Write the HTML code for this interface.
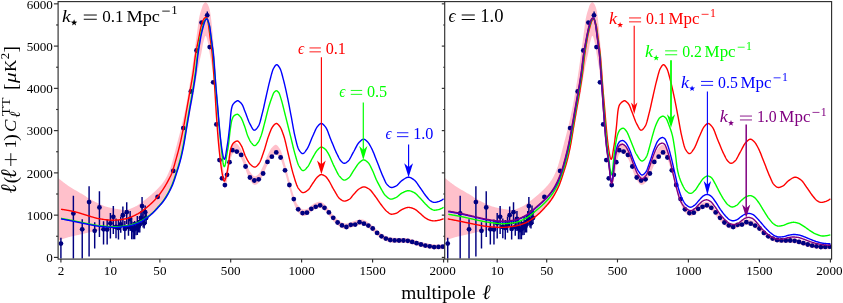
<!DOCTYPE html><html><head><meta charset="utf-8"><title>CMB TT spectrum</title><style>html,body{margin:0;padding:0;background:#fff;overflow:hidden}svg{display:block;will-change:transform;-webkit-font-smoothing:antialiased}text{font-family:"Liberation Serif",serif}</style></head><body><svg width="843" height="303" viewBox="0 0 843 303" font-family="'Liberation Serif', serif">
<rect width="843" height="303" fill="#fff"/>
<defs><clipPath id="cl"><rect x="58.5" y="2" width="386" height="257"/></clipPath><clipPath id="cr"><rect x="445" y="2" width="386.6" height="257"/></clipPath></defs>
<g clip-path="url(#cl)">
<path d="M58.1 177.9 L58.5 178.24 L58.9 178.58 L59.3 178.91 L59.7 179.24 L60.1 179.57 L60.5 179.9 L60.9 180.23 L61.3 180.55 L61.7 180.88 L62.1 181.19 L62.5 181.51 L62.9 181.83 L63.3 182.14 L63.7 182.45 L64.1 182.75 L64.5 183.06 L64.9 183.36 L65.3 183.66 L65.7 183.95 L66.1 184.24 L66.5 184.53 L66.9 184.82 L67.3 185.1 L67.7 185.38 L68.1 185.66 L68.5 185.93 L68.9 186.2 L69.3 186.47 L69.7 186.73 L70.1 186.99 L70.5 187.25 L70.9 187.5 L71.3 187.75 L71.7 187.99 L72.1 188.24 L72.5 188.48 L72.9 188.72 L73.3 188.96 L73.7 189.2 L74.1 189.43 L74.5 189.67 L74.9 189.9 L75.3 190.13 L75.7 190.36 L76.1 190.59 L76.5 190.82 L76.9 191.05 L77.3 191.28 L77.7 191.51 L78.1 191.74 L78.5 191.97 L78.9 192.2 L79.3 192.44 L79.7 192.67 L80.1 192.9 L80.5 193.14 L80.9 193.38 L81.3 193.62 L81.7 193.86 L82.1 194.11 L82.5 194.36 L82.9 194.6 L83.3 194.85 L83.7 195.1 L84.1 195.36 L84.5 195.61 L84.9 195.86 L85.3 196.12 L85.7 196.37 L86.1 196.62 L86.5 196.88 L86.9 197.13 L87.3 197.38 L87.7 197.63 L88.1 197.88 L88.5 198.13 L88.9 198.37 L89.3 198.61 L89.7 198.86 L90.1 199.1 L90.5 199.33 L90.9 199.57 L91.3 199.8 L91.7 200.02 L92.1 200.25 L92.5 200.47 L92.9 200.68 L93.3 200.89 L93.7 201.1 L94.1 201.31 L94.5 201.51 L94.9 201.72 L95.3 201.92 L95.7 202.13 L96.1 202.33 L96.5 202.54 L96.9 202.74 L97.3 202.94 L97.7 203.14 L98.1 203.34 L98.5 203.54 L98.9 203.74 L99.3 203.93 L99.7 204.12 L100.1 204.31 L100.5 204.49 L100.9 204.68 L101.3 204.85 L101.7 205.03 L102.1 205.2 L102.5 205.37 L102.9 205.53 L103.3 205.69 L103.7 205.84 L104.1 205.99 L104.5 206.13 L104.9 206.27 L105.3 206.4 L105.7 206.52 L106.1 206.64 L106.5 206.76 L106.9 206.87 L107.3 206.97 L107.7 207.08 L108.1 207.19 L108.5 207.29 L108.9 207.39 L109.3 207.49 L109.7 207.58 L110.1 207.67 L110.5 207.77 L110.9 207.86 L111.3 207.95 L111.7 208.03 L112.1 208.12 L112.5 208.2 L112.9 208.28 L113.3 208.36 L113.7 208.44 L114.1 208.51 L114.5 208.59 L114.9 208.66 L115.3 208.73 L115.7 208.8 L116.1 208.87 L116.5 208.93 L116.9 209 L117.3 209.06 L117.7 209.12 L118.1 209.18 L118.5 209.24 L118.9 209.3 L119.3 209.36 L119.7 209.42 L120.1 209.48 L120.5 209.54 L120.9 209.61 L121.3 209.67 L121.7 209.72 L122.1 209.78 L122.5 209.83 L122.9 209.88 L123.3 209.92 L123.7 209.95 L124.1 209.97 L124.5 209.99 L124.9 210 L125.3 210 L125.7 209.97 L126.1 209.94 L126.5 209.88 L126.9 209.82 L127.3 209.74 L127.7 209.64 L128.1 209.54 L128.5 209.42 L128.9 209.3 L129.3 209.16 L129.7 209.02 L130.1 208.86 L130.5 208.71 L130.9 208.54 L131.3 208.37 L131.7 208.2 L132.1 208.02 L132.5 207.84 L132.9 207.66 L133.3 207.48 L133.7 207.3 L134.1 207.11 L134.5 206.93 L134.9 206.76 L135.3 206.57 L135.7 206.37 L136.1 206.15 L136.5 205.92 L136.9 205.69 L137.3 205.44 L137.7 205.18 L138.1 204.92 L138.5 204.64 L138.9 204.37 L139.3 204.08 L139.7 203.8 L140.1 203.51 L140.5 203.21 L140.9 202.92 L141.3 202.63 L141.7 202.33 L142.1 202.04 L142.5 201.76 L142.9 201.46 L143.3 201.17 L143.7 200.87 L144.1 200.56 L144.5 200.25 L144.9 199.94 L145.3 199.63 L145.7 199.31 L146.1 198.99 L146.5 198.67 L146.9 198.34 L147.3 198.01 L147.7 197.68 L148.1 197.35 L148.5 197.01 L148.9 196.68 L149.3 196.34 L149.7 196 L150.1 195.66 L150.5 195.32 L150.9 194.98 L151.3 194.64 L151.7 194.3 L152.1 193.96 L152.5 193.61 L152.9 193.26 L153.3 192.91 L153.7 192.55 L154.1 192.19 L154.5 191.83 L154.9 191.46 L155.3 191.08 L155.7 190.7 L156.1 190.31 L156.5 189.91 L156.9 189.51 L157.3 189.09 L157.7 188.68 L158.1 188.26 L158.5 187.84 L158.9 187.42 L159.3 186.99 L159.7 186.55 L160.1 186.1 L160.5 185.65 L160.9 185.19 L161.3 184.71 L161.7 184.23 L162.1 183.73 L162.5 183.21 L162.9 182.69 L163.3 182.14 L163.7 181.58 L164.1 181 L164.5 180.4 L164.9 179.78 L165.3 179.13 L165.7 178.45 L166.1 177.74 L166.5 177.01 L166.9 176.24 L167.3 175.45 L167.7 174.62 L168.1 173.76 L168.5 172.87 L168.9 171.95 L169.3 170.99 L169.7 170 L170.1 168.95 L170.5 167.83 L170.9 166.64 L171.3 165.39 L171.7 164.08 L172.1 162.72 L172.5 161.31 L172.9 159.86 L173.3 158.38 L173.7 156.87 L174.1 155.33 L174.5 153.78 L174.9 152.21 L175.3 150.64 L175.7 149.06 L176.1 147.49 L176.5 145.93 L176.9 144.38 L177.3 142.85 L177.7 141.33 L178.1 139.8 L178.5 138.27 L178.9 136.74 L179.3 135.19 L179.7 133.64 L180.1 132.08 L180.5 130.5 L180.9 128.9 L181.3 127.29 L181.7 125.65 L182.1 123.99 L182.5 122.3 L182.9 120.58 L183.3 118.83 L183.7 117.04 L184.1 115.22 L184.5 113.36 L184.9 111.46 L185.3 109.51 L185.7 107.5 L186.1 105.43 L186.5 103.3 L186.9 101.11 L187.3 98.88 L187.7 96.59 L188.1 94.25 L188.5 91.88 L188.9 89.46 L189.3 87.01 L189.7 84.52 L190.1 82 L190.5 79.46 L190.9 76.89 L191.3 74.3 L191.7 71.69 L192.1 69 L192.5 66.24 L192.9 63.41 L193.3 60.53 L193.7 57.61 L194.1 54.65 L194.5 51.67 L194.9 48.67 L195.3 45.67 L195.7 42.67 L196.1 39.69 L196.5 36.73 L196.9 33.8 L197.3 30.85 L197.7 27.89 L198.1 24.84 L198.5 21.59 L198.9 18.9 L199.3 16.92 L199.7 15.18 L200.1 13.63 L200.5 12.23 L200.9 10.94 L201.3 9.71 L201.7 8.48 L202.1 7.26 L202.5 6.11 L202.9 5.1 L203.3 4.3 L203.7 3.73 L204.1 3.22 L204.5 2.77 L204.9 2.42 L205.3 2.23 L205.7 2.23 L206.1 2.42 L206.5 2.77 L206.9 3.22 L207.3 3.73 L207.7 4.29 L208.1 5.02 L208.5 5.94 L208.9 7.04 L209.3 8.32 L209.7 9.8 L210.1 11.84 L210.5 14.43 L210.9 17.37 L211.3 20.57 L211.7 24.4 L212.1 28.41 L212.5 32.6 L212.9 37.03 L213.3 41.76 L213.7 46.68 L214.1 51.66 L214.5 56.28 L214.9 60.34 L215.3 64.91 L215.7 71.08 L216.1 83.75 L216.5 99.25 L216.9 105.46 L217.3 111.37 L217.7 117.07 L218.1 122.45 L218.5 127.59 L218.9 132.47 L219.3 136.9 L219.7 140.81 L220.1 144.27 L220.5 147.44 L220.9 150.5 L221.3 153.63 L221.7 156.9 L222.1 160.29 L222.5 163.65 L222.9 166.87 L223.3 169.75 L223.7 172.6 L224.1 175.41 L224.5 177.62 L224.9 178.06 L225.3 177.52 L225.7 176.16 L226.1 174.51 L226.5 172.98 L226.9 171.6 L227.3 170.07 L227.7 168.17 L228.1 165.89 L228.5 163.49 L228.9 160.65 L229.3 157.63 L229.7 154.73 L230.1 152.27 L230.5 150.38 L230.9 148.7 L231.3 147.17 L231.7 145.87 L232.1 144.88 L232.5 144.2 L232.9 143.67 L233.3 143.21 L233.7 142.84 L234.1 142.61 L234.5 142.53 L234.9 142.59 L235.3 142.73 L235.7 142.94 L236.1 143.17 L236.5 143.43 L236.9 143.71 L237.3 144.04 L237.7 144.43 L238.1 144.87 L238.5 145.35 L238.9 145.88 L239.3 146.44 L239.7 147.04 L240.1 147.66 L240.5 148.31 L240.9 148.98 L241.3 149.74 L241.7 150.59 L242.1 151.55 L242.5 152.6 L242.9 153.7 L243.3 154.82 L243.7 155.93 L244.1 157.02 L244.5 158.11 L244.9 159.17 L245.3 160.2 L245.7 161.24 L246.1 162.32 L246.5 163.45 L246.9 164.59 L247.3 165.72 L247.7 166.83 L248.1 167.88 L248.5 168.87 L248.9 169.77 L249.3 170.55 L249.7 171.2 L250.1 171.78 L250.5 172.36 L250.9 172.93 L251.3 173.48 L251.7 174 L252.1 174.5 L252.5 174.95 L252.9 175.35 L253.3 175.69 L253.7 175.96 L254.1 176.16 L254.5 176.27 L254.9 176.29 L255.3 176.25 L255.7 176.13 L256.1 175.96 L256.5 175.74 L256.9 175.48 L257.3 175.19 L257.7 174.88 L258.1 174.56 L258.5 174.23 L258.9 173.83 L259.3 173.35 L259.7 172.77 L260.1 172.12 L260.5 171.41 L260.9 170.64 L261.3 169.84 L261.7 169.01 L262.1 168.18 L262.5 167.34 L262.9 166.52 L263.3 165.67 L263.7 164.76 L264.1 163.79 L264.5 162.79 L264.9 161.76 L265.3 160.73 L265.7 159.7 L266.1 158.69 L266.5 157.71 L266.9 156.78 L267.3 155.91 L267.7 155.07 L268.1 154.21 L268.5 153.36 L268.9 152.52 L269.3 151.69 L269.7 150.9 L270.1 150.16 L270.5 149.46 L270.9 148.83 L271.3 148.28 L271.7 147.8 L272.1 147.38 L272.5 146.95 L272.9 146.53 L273.3 146.13 L273.7 145.77 L274.1 145.44 L274.5 145.16 L274.9 144.94 L275.3 144.78 L275.7 144.72 L276.1 144.73 L276.5 144.89 L276.9 145.15 L277.3 145.48 L277.7 145.89 L278.1 146.37 L278.5 146.89 L278.9 147.46 L279.3 148.06 L279.7 148.68 L280.1 149.32 L280.5 149.99 L280.9 150.83 L281.3 151.81 L281.7 152.92 L282.1 154.13 L282.5 155.42 L282.9 156.78 L283.3 158.17 L283.7 159.59 L284.1 161.01 L284.5 162.41 L284.9 163.77 L285.3 165.14 L285.7 166.55 L286.1 168 L286.5 169.49 L286.9 170.99 L287.3 172.51 L287.7 174.04 L288.1 175.57 L288.5 177.09 L288.9 178.59 L289.3 180.06 L289.7 181.55 L290.1 183.06 L290.5 184.6 L290.9 186.14 L291.3 187.67 L291.7 189.17 L292.1 190.62 L292.5 192.01 L292.9 193.32 L293.3 194.53 L293.7 195.69 L294.1 196.82 L294.5 197.94 L294.9 199.03 L295.3 200.08 L295.7 201.08 L296.1 202.02 L296.5 202.89 L296.9 203.67 L297.3 204.34 L297.7 204.91 L298.1 205.4 L298.5 205.87 L298.9 206.33 L299.3 206.78 L299.7 207.21 L300.1 207.62 L300.5 208 L300.9 208.35 L301.3 208.66 L301.7 208.94 L302.1 209.17 L302.5 209.35 L302.9 209.49 L303.3 209.57 L303.7 209.58 L304.1 209.58 L304.5 209.54 L304.9 209.48 L305.3 209.4 L305.7 209.3 L306.1 209.2 L306.5 209.08 L306.9 208.96 L307.3 208.81 L307.7 208.6 L308.1 208.34 L308.5 208.02 L308.9 207.67 L309.3 207.29 L309.7 206.91 L310.1 206.53 L310.5 206.17 L310.9 205.86 L311.3 205.56 L311.7 205.27 L312.1 204.97 L312.5 204.68 L312.9 204.39 L313.3 204.11 L313.7 203.85 L314.1 203.6 L314.5 203.37 L314.9 203.16 L315.3 202.98 L315.7 202.82 L316.1 202.66 L316.5 202.51 L316.9 202.36 L317.3 202.21 L317.7 202.08 L318.1 201.96 L318.5 201.86 L318.9 201.78 L319.3 201.73 L319.7 201.71 L320.1 201.71 L320.5 201.79 L320.9 201.91 L321.3 202.07 L321.7 202.27 L322.1 202.49 L322.5 202.75 L322.9 203.02 L323.3 203.3 L323.7 203.59 L324.1 203.88 L324.5 204.19 L324.9 204.56 L325.3 204.98 L325.7 205.45 L326.1 205.95 L326.5 206.47 L326.9 207.02 L327.3 207.56 L327.7 208.1 L328.1 208.62 L328.5 209.13 L328.9 209.63 L329.3 210.14 L329.7 210.66 L330.1 211.18 L330.5 211.7 L330.9 212.22 L331.3 212.74 L331.7 213.24 L332.1 213.73 L332.5 214.21 L332.9 214.67 L333.3 215.13 L333.7 215.58 L334.1 216.03 L334.5 216.47 L334.9 216.9 L335.3 217.32 L335.7 217.73 L336.1 218.12 L336.5 218.5 L336.9 218.86 L337.3 219.2 L337.7 219.53 L338.1 219.86 L338.5 220.19 L338.9 220.51 L339.3 220.82 L339.7 221.12 L340.1 221.4 L340.5 221.66 L340.9 221.9 L341.3 222.11 L341.7 222.29 L342.1 222.45 L342.5 222.6 L342.9 222.75 L343.3 222.89 L343.7 223.02 L344.1 223.15 L344.5 223.26 L344.9 223.35 L345.3 223.42 L345.7 223.47 L346.1 223.49 L346.5 223.49 L346.9 223.46 L347.3 223.38 L347.7 223.28 L348.1 223.16 L348.5 223.02 L348.9 222.87 L349.3 222.71 L349.7 222.55 L350.1 222.4 L350.5 222.26 L350.9 222.14 L351.3 222.01 L351.7 221.89 L352.1 221.76 L352.5 221.63 L352.9 221.5 L353.3 221.37 L353.7 221.24 L354.1 221.11 L354.5 220.99 L354.9 220.86 L355.3 220.74 L355.7 220.6 L356.1 220.46 L356.5 220.31 L356.9 220.16 L357.3 220.02 L357.7 219.88 L358.1 219.76 L358.5 219.66 L358.9 219.57 L359.3 219.52 L359.7 219.49 L360.1 219.46 L360.5 219.44 L360.9 219.42 L361.3 219.41 L361.7 219.4 L362.1 219.4 L362.5 219.44 L362.9 219.54 L363.3 219.67 L363.7 219.83 L364.1 220.01 L364.5 220.2 L364.9 220.38 L365.3 220.57 L365.7 220.79 L366.1 221.03 L366.5 221.3 L366.9 221.57 L367.3 221.86 L367.7 222.15 L368.1 222.43 L368.5 222.71 L368.9 222.98 L369.3 223.26 L369.7 223.54 L370.1 223.82 L370.5 224.11 L370.9 224.4 L371.3 224.7 L371.7 225.01 L372.1 225.33 L372.5 225.66 L372.9 226 L373.3 226.36 L373.7 226.75 L374.1 227.15 L374.5 227.57 L374.9 227.99 L375.3 228.4 L375.7 228.82 L376.1 229.22 L376.5 229.6 L376.9 229.96 L377.3 230.32 L377.7 230.67 L378.1 231.02 L378.5 231.36 L378.9 231.7 L379.3 232.02 L379.7 232.34 L380.1 232.65 L380.5 232.95 L380.9 233.23 L381.3 233.5 L381.7 233.76 L382.1 234.01 L382.5 234.26 L382.9 234.5 L383.3 234.74 L383.7 234.96 L384.1 235.18 L384.5 235.38 L384.9 235.58 L385.3 235.76 L385.7 235.93 L386.1 236.09 L386.5 236.25 L386.9 236.41 L387.3 236.56 L387.7 236.7 L388.1 236.83 L388.5 236.95 L388.9 237.06 L389.3 237.16 L389.7 237.25 L390.1 237.32 L390.5 237.39 L390.9 237.45 L391.3 237.51 L391.7 237.57 L392.1 237.62 L392.5 237.67 L392.9 237.71 L393.3 237.74 L393.7 237.78 L394.1 237.8 L394.5 237.82 L394.9 237.83 L395.3 237.85 L395.7 237.86 L396.1 237.87 L396.5 237.89 L396.9 237.9 L397.3 237.9 L397.7 237.91 L398.1 237.92 L398.5 237.92 L398.9 237.92 L399.3 237.92 L399.7 237.92 L400.1 237.92 L400.5 237.92 L400.9 237.92 L401.3 237.93 L401.7 237.93 L402.1 237.93 L402.5 237.93 L402.9 237.93 L403.3 237.93 L403.7 237.94 L404.1 237.95 L404.5 237.98 L404.9 238.01 L405.3 238.05 L405.7 238.09 L406.1 238.14 L406.5 238.19 L406.9 238.24 L407.3 238.3 L407.7 238.35 L408.1 238.41 L408.5 238.48 L408.9 238.57 L409.3 238.66 L409.7 238.75 L410.1 238.85 L410.5 238.95 L410.9 239.06 L411.3 239.16 L411.7 239.27 L412.1 239.37 L412.5 239.47 L412.9 239.58 L413.3 239.68 L413.7 239.79 L414.1 239.9 L414.5 240.01 L414.9 240.12 L415.3 240.24 L415.7 240.35 L416.1 240.47 L416.5 240.58 L416.9 240.7 L417.3 240.82 L417.7 240.94 L418.1 241.06 L418.5 241.18 L418.9 241.3 L419.3 241.43 L419.7 241.55 L420.1 241.66 L420.5 241.78 L420.9 241.89 L421.3 242 L421.7 242.1 L422.1 242.21 L422.5 242.32 L422.9 242.42 L423.3 242.52 L423.7 242.62 L424.1 242.72 L424.5 242.81 L424.9 242.9 L425.3 242.99 L425.7 243.07 L426.1 243.15 L426.5 243.23 L426.9 243.3 L427.3 243.37 L427.7 243.45 L428.1 243.51 L428.5 243.58 L428.9 243.65 L429.3 243.71 L429.7 243.78 L430.1 243.84 L430.5 243.91 L430.9 243.98 L431.3 244.04 L431.7 244.11 L432.1 244.17 L432.5 244.23 L432.9 244.28 L433.3 244.33 L433.7 244.36 L434.1 244.38 L434.5 244.4 L434.9 244.41 L435.3 244.43 L435.7 244.44 L436.1 244.45 L436.5 244.46 L436.9 244.47 L437.3 244.48 L437.7 244.49 L438.1 244.49 L438.5 244.49 L438.9 244.49 L439.3 244.49 L439.7 244.49 L440.1 244.49 L440.5 244.48 L440.9 244.47 L441.3 244.47 L441.7 244.46 L442.1 244.45 L442.5 244.44 L442.9 244.43 L443.3 244.41 L443.3 249.21 L442.9 249.23 L442.5 249.24 L442.1 249.26 L441.7 249.27 L441.3 249.28 L440.9 249.28 L440.5 249.29 L440.1 249.3 L439.7 249.3 L439.3 249.31 L438.9 249.31 L438.5 249.31 L438.1 249.31 L437.7 249.31 L437.3 249.3 L436.9 249.3 L436.5 249.29 L436.1 249.28 L435.7 249.27 L435.3 249.26 L434.9 249.24 L434.5 249.23 L434.1 249.22 L433.7 249.2 L433.3 249.16 L432.9 249.12 L432.5 249.07 L432.1 249.01 L431.7 248.95 L431.3 248.89 L430.9 248.82 L430.5 248.75 L430.1 248.69 L429.7 248.62 L429.3 248.56 L428.9 248.5 L428.5 248.44 L428.1 248.37 L427.7 248.3 L427.3 248.23 L426.9 248.16 L426.5 248.09 L426.1 248.01 L425.7 247.93 L425.3 247.85 L424.9 247.77 L424.5 247.68 L424.1 247.59 L423.7 247.49 L423.3 247.4 L422.9 247.3 L422.5 247.19 L422.1 247.09 L421.7 246.98 L421.3 246.87 L420.9 246.77 L420.5 246.66 L420.1 246.55 L419.7 246.43 L419.3 246.31 L418.9 246.19 L418.5 246.07 L418.1 245.95 L417.7 245.83 L417.3 245.71 L416.9 245.59 L416.5 245.48 L416.1 245.36 L415.7 245.25 L415.3 245.14 L414.9 245.03 L414.5 244.91 L414.1 244.8 L413.7 244.7 L413.3 244.59 L412.9 244.48 L412.5 244.38 L412.1 244.28 L411.7 244.18 L411.3 244.08 L410.9 243.97 L410.5 243.87 L410.1 243.77 L409.7 243.67 L409.3 243.58 L408.9 243.49 L408.5 243.41 L408.1 243.34 L407.7 243.28 L407.3 243.22 L406.9 243.17 L406.5 243.12 L406.1 243.07 L405.7 243.03 L405.3 242.99 L404.9 242.95 L404.5 242.92 L404.1 242.89 L403.7 242.88 L403.3 242.87 L402.9 242.87 L402.5 242.87 L402.1 242.87 L401.7 242.87 L401.3 242.87 L400.9 242.88 L400.5 242.88 L400.1 242.88 L399.7 242.88 L399.3 242.88 L398.9 242.88 L398.5 242.88 L398.1 242.88 L397.7 242.87 L397.3 242.87 L396.9 242.86 L396.5 242.85 L396.1 242.84 L395.7 242.83 L395.3 242.82 L394.9 242.8 L394.5 242.79 L394.1 242.77 L393.7 242.75 L393.3 242.72 L392.9 242.69 L392.5 242.65 L392.1 242.6 L391.7 242.55 L391.3 242.5 L390.9 242.44 L390.5 242.38 L390.1 242.31 L389.7 242.24 L389.3 242.16 L388.9 242.06 L388.5 241.95 L388.1 241.82 L387.7 241.69 L387.3 241.55 L386.9 241.41 L386.5 241.26 L386.1 241.11 L385.7 240.95 L385.3 240.79 L384.9 240.62 L384.5 240.44 L384.1 240.24 L383.7 240.04 L383.3 239.82 L382.9 239.6 L382.5 239.37 L382.1 239.13 L381.7 238.88 L381.3 238.63 L380.9 238.37 L380.5 238.1 L380.1 237.82 L379.7 237.52 L379.3 237.21 L378.9 236.89 L378.5 236.57 L378.1 236.24 L377.7 235.9 L377.3 235.56 L376.9 235.21 L376.5 234.86 L376.1 234.48 L375.7 234.09 L375.3 233.69 L374.9 233.28 L374.5 232.87 L374.1 232.47 L373.7 232.08 L373.3 231.7 L372.9 231.34 L372.5 231.01 L372.1 230.69 L371.7 230.39 L371.3 230.09 L370.9 229.8 L370.5 229.52 L370.1 229.24 L369.7 228.97 L369.3 228.7 L368.9 228.43 L368.5 228.16 L368.1 227.9 L367.7 227.62 L367.3 227.34 L366.9 227.07 L366.5 226.8 L366.1 226.55 L365.7 226.32 L365.3 226.11 L364.9 225.93 L364.5 225.75 L364.1 225.57 L363.7 225.4 L363.3 225.25 L362.9 225.13 L362.5 225.04 L362.1 225 L361.7 225 L361.3 225.01 L360.9 225.02 L360.5 225.04 L360.1 225.06 L359.7 225.09 L359.3 225.12 L358.9 225.17 L358.5 225.26 L358.1 225.36 L357.7 225.48 L357.3 225.62 L356.9 225.76 L356.5 225.91 L356.1 226.06 L355.7 226.2 L355.3 226.34 L354.9 226.46 L354.5 226.59 L354.1 226.71 L353.7 226.84 L353.3 226.97 L352.9 227.1 L352.5 227.23 L352.1 227.36 L351.7 227.49 L351.3 227.61 L350.9 227.74 L350.5 227.86 L350.1 228 L349.7 228.15 L349.3 228.31 L348.9 228.47 L348.5 228.62 L348.1 228.76 L347.7 228.88 L347.3 228.98 L346.9 229.06 L346.5 229.09 L346.1 229.09 L345.7 229.07 L345.3 229.02 L344.9 228.95 L344.5 228.86 L344.1 228.75 L343.7 228.64 L343.3 228.51 L342.9 228.38 L342.5 228.24 L342.1 228.1 L341.7 227.95 L341.3 227.78 L340.9 227.58 L340.5 227.35 L340.1 227.1 L339.7 226.83 L339.3 226.54 L338.9 226.24 L338.5 225.93 L338.1 225.61 L337.7 225.29 L337.3 224.97 L336.9 224.64 L336.5 224.29 L336.1 223.92 L335.7 223.54 L335.3 223.14 L334.9 222.73 L334.5 222.31 L334.1 221.88 L333.7 221.44 L333.3 221 L332.9 220.55 L332.5 220.1 L332.1 219.63 L331.7 219.15 L331.3 218.66 L330.9 218.15 L330.5 217.64 L330.1 217.13 L329.7 216.62 L329.3 216.11 L328.9 215.61 L328.5 215.12 L328.1 214.62 L327.7 214.11 L327.3 213.58 L326.9 213.05 L326.5 212.51 L326.1 212 L325.7 211.51 L325.3 211.05 L324.9 210.64 L324.5 210.28 L324.1 209.98 L323.7 209.7 L323.3 209.42 L322.9 209.15 L322.5 208.89 L322.1 208.64 L321.7 208.43 L321.3 208.24 L320.9 208.09 L320.5 207.98 L320.1 207.91 L319.7 207.9 L319.3 207.91 L318.9 207.96 L318.5 208.04 L318.1 208.13 L317.7 208.24 L317.3 208.36 L316.9 208.5 L316.5 208.64 L316.1 208.79 L315.7 208.94 L315.3 209.1 L314.9 209.27 L314.5 209.47 L314.1 209.69 L313.7 209.93 L313.3 210.19 L312.9 210.46 L312.5 210.75 L312.1 211.03 L311.7 211.32 L311.3 211.61 L310.9 211.89 L310.5 212.21 L310.1 212.55 L309.7 212.92 L309.3 213.3 L308.9 213.67 L308.5 214.04 L308.1 214.39 L307.7 214.69 L307.3 214.93 L306.9 215.11 L306.5 215.27 L306.1 215.42 L305.7 215.56 L305.3 215.68 L304.9 215.8 L304.5 215.89 L304.1 215.96 L303.7 216.01 L303.3 216.01 L302.9 215.98 L302.5 215.88 L302.1 215.73 L301.7 215.53 L301.3 215.29 L300.9 215.01 L300.5 214.69 L300.1 214.35 L299.7 213.97 L299.3 213.58 L298.9 213.16 L298.5 212.73 L298.1 212.3 L297.7 211.84 L297.3 211.31 L296.9 210.66 L296.5 209.92 L296.1 209.08 L295.7 208.18 L295.3 207.21 L294.9 206.2 L294.5 205.14 L294.1 204.07 L293.7 202.99 L293.3 201.89 L292.9 200.73 L292.5 199.47 L292.1 198.13 L291.7 196.73 L291.3 195.29 L290.9 193.81 L290.5 192.32 L290.1 190.84 L289.7 189.37 L289.3 187.94 L288.9 186.51 L288.5 185.07 L288.1 183.6 L287.7 182.12 L287.3 180.65 L286.9 179.18 L286.5 177.73 L286.1 176.29 L285.7 174.9 L285.3 173.54 L284.9 172.22 L284.5 170.91 L284.1 169.56 L283.7 168.19 L283.3 166.83 L282.9 165.48 L282.5 164.18 L282.1 162.94 L281.7 161.78 L281.3 160.73 L280.9 159.8 L280.5 159.01 L280.1 158.39 L279.7 157.8 L279.3 157.24 L278.9 156.69 L278.5 156.17 L278.1 155.7 L277.7 155.28 L277.3 154.92 L276.9 154.64 L276.5 154.43 L276.1 154.32 L275.7 154.31 L275.3 154.34 L274.9 154.48 L274.5 154.68 L274.1 154.94 L273.7 155.25 L273.3 155.6 L272.9 155.98 L272.5 156.38 L272.1 156.79 L271.7 157.19 L271.3 157.65 L270.9 158.18 L270.5 158.79 L270.1 159.47 L269.7 160.2 L269.3 160.97 L268.9 161.77 L268.5 162.59 L268.1 163.43 L267.7 164.26 L267.3 165.09 L266.9 165.94 L266.5 166.85 L266.1 167.81 L265.7 168.8 L265.3 169.81 L264.9 170.82 L264.5 171.83 L264.1 172.81 L263.7 173.76 L263.3 174.65 L262.9 175.48 L262.5 176.28 L262.1 177.1 L261.7 177.92 L261.3 178.72 L260.9 179.51 L260.5 180.25 L260.1 180.95 L259.7 181.58 L259.3 182.14 L258.9 182.6 L258.5 182.97 L258.1 183.29 L257.7 183.59 L257.3 183.88 L256.9 184.15 L256.5 184.39 L256.1 184.59 L255.7 184.74 L255.3 184.85 L254.9 184.89 L254.5 184.87 L254.1 184.76 L253.7 184.56 L253.3 184.29 L252.9 183.95 L252.5 183.55 L252.1 183.1 L251.7 182.6 L251.3 182.08 L250.9 181.53 L250.5 180.96 L250.1 180.38 L249.7 179.8 L249.3 179.15 L248.9 178.37 L248.5 177.47 L248.1 176.48 L247.7 175.43 L247.3 174.32 L246.9 173.19 L246.5 172.05 L246.1 170.92 L245.7 169.84 L245.3 168.8 L244.9 167.77 L244.5 166.68 L244.1 165.55 L243.7 164.41 L243.3 163.29 L242.9 162.23 L242.5 161.24 L242.1 160.31 L241.7 159.45 L241.3 158.68 L240.9 158.01 L240.5 157.42 L240.1 156.84 L239.7 156.29 L239.3 155.77 L238.9 155.28 L238.5 154.82 L238.1 154.4 L237.7 154.02 L237.3 153.69 L236.9 153.41 L236.5 153.17 L236.1 152.97 L235.7 152.77 L235.3 152.61 L234.9 152.51 L234.5 152.47 L234.1 152.58 L233.7 152.81 L233.3 153.18 L232.9 153.62 L232.5 154.13 L232.1 154.77 L231.7 155.71 L231.3 156.92 L230.9 158.34 L230.5 159.92 L230.1 161.69 L229.7 164 L229.3 166.69 L228.9 169.49 L228.5 172.12 L228.1 174.35 L227.7 176.41 L227.3 178.54 L226.9 180.71 L226.5 182.71 L226.1 184.82 L225.7 186.59 L225.3 187.92 L224.9 188.46 L224.5 188.02 L224.1 185.85 L223.7 182.47 L223.3 178.95 L222.9 175.88 L222.5 173.11 L222.1 170.14 L221.7 167.16 L221.3 164.29 L220.9 161.55 L220.5 158.88 L220.1 156.1 L219.7 153.08 L219.3 149.66 L218.9 145.79 L218.5 141.51 L218.1 137.01 L217.7 132.31 L217.3 127.32 L216.9 122.07 L216.5 116.74 L216.1 111.5 L215.7 106.13 L215.3 100.72 L214.9 95.38 L214.5 90.19 L214.1 85.26 L213.7 80.69 L213.3 76.57 L212.9 73 L212.5 69.99 L212.1 67.36 L211.7 64.96 L211.3 62.6 L210.9 60.23 L210.5 57.98 L210.1 55.76 L209.7 53.49 L209.3 51 L208.9 48.27 L208.5 45.63 L208.1 43.44 L207.7 41.75 L207.3 40.1 L206.9 38.57 L206.5 37.28 L206.1 36.36 L205.7 35.92 L205.3 36.08 L204.9 36.8 L204.5 37.94 L204.1 39.38 L203.7 40.98 L203.3 42.61 L202.9 44.34 L202.5 46.53 L202.1 48.94 L201.7 51.31 L201.3 53.38 L200.9 55.2 L200.5 56.92 L200.1 58.64 L199.7 60.47 L199.3 62.36 L198.9 64.29 L198.5 66.26 L198.1 68.28 L197.7 70.34 L197.3 72.46 L196.9 74.66 L196.5 76.97 L196.1 79.37 L195.7 81.81 L195.3 84.27 L194.9 86.72 L194.5 89.12 L194.1 91.44 L193.7 93.66 L193.3 95.83 L192.9 97.96 L192.5 100.05 L192.1 102.13 L191.7 104.2 L191.3 106.29 L190.9 108.4 L190.5 110.54 L190.1 112.71 L189.7 114.88 L189.3 117.07 L188.9 119.27 L188.5 121.47 L188.1 123.68 L187.7 125.89 L187.3 128.12 L186.9 130.4 L186.5 132.72 L186.1 135.06 L185.7 137.38 L185.3 139.67 L184.9 141.88 L184.5 144 L184.1 146 L183.7 147.9 L183.3 149.73 L182.9 151.5 L182.5 153.22 L182.1 154.89 L181.7 156.51 L181.3 158.09 L180.9 159.62 L180.5 161.12 L180.1 162.57 L179.7 163.99 L179.3 165.37 L178.9 166.72 L178.5 168.05 L178.1 169.34 L177.7 170.62 L177.3 171.88 L176.9 173.12 L176.5 174.37 L176.1 175.61 L175.7 176.84 L175.3 178.07 L174.9 179.27 L174.5 180.46 L174.1 181.62 L173.7 182.75 L173.3 183.84 L172.9 184.89 L172.5 185.89 L172.1 186.84 L171.7 187.75 L171.3 188.62 L170.9 189.48 L170.5 190.31 L170.1 191.13 L169.7 191.92 L169.3 192.7 L168.9 193.45 L168.5 194.19 L168.1 194.92 L167.7 195.62 L167.3 196.31 L166.9 196.98 L166.5 197.64 L166.1 198.28 L165.7 198.91 L165.3 199.52 L164.9 200.12 L164.5 200.7 L164.1 201.27 L163.7 201.82 L163.3 202.35 L162.9 202.87 L162.5 203.38 L162.1 203.88 L161.7 204.36 L161.3 204.83 L160.9 205.3 L160.5 205.76 L160.1 206.21 L159.7 206.66 L159.3 207.11 L158.9 207.55 L158.5 208 L158.1 208.45 L157.7 208.89 L157.3 209.34 L156.9 209.78 L156.5 210.22 L156.1 210.66 L155.7 211.09 L155.3 211.51 L154.9 211.93 L154.5 212.34 L154.1 212.75 L153.7 213.15 L153.3 213.53 L152.9 213.91 L152.5 214.27 L152.1 214.63 L151.7 214.97 L151.3 215.31 L150.9 215.65 L150.5 215.98 L150.1 216.31 L149.7 216.64 L149.3 216.96 L148.9 217.29 L148.5 217.61 L148.1 217.92 L147.7 218.23 L147.3 218.54 L146.9 218.84 L146.5 219.14 L146.1 219.43 L145.7 219.72 L145.3 220 L144.9 220.28 L144.5 220.56 L144.1 220.82 L143.7 221.08 L143.3 221.34 L142.9 221.59 L142.5 221.83 L142.1 222.07 L141.7 222.3 L141.3 222.52 L140.9 222.74 L140.5 222.95 L140.1 223.15 L139.7 223.35 L139.3 223.54 L138.9 223.73 L138.5 223.92 L138.1 224.11 L137.7 224.29 L137.3 224.47 L136.9 224.65 L136.5 224.83 L136.1 225 L135.7 225.17 L135.3 225.33 L134.9 225.49 L134.5 225.64 L134.1 225.79 L133.7 225.94 L133.3 226.08 L132.9 226.21 L132.5 226.34 L132.1 226.46 L131.7 226.58 L131.3 226.69 L130.9 226.79 L130.5 226.89 L130.1 226.98 L129.7 227.06 L129.3 227.14 L128.9 227.22 L128.5 227.3 L128.1 227.37 L127.7 227.45 L127.3 227.52 L126.9 227.58 L126.5 227.65 L126.1 227.71 L125.7 227.78 L125.3 227.84 L124.9 227.89 L124.5 227.95 L124.1 228.01 L123.7 228.06 L123.3 228.11 L122.9 228.16 L122.5 228.21 L122.1 228.26 L121.7 228.31 L121.3 228.35 L120.9 228.4 L120.5 228.44 L120.1 228.48 L119.7 228.52 L119.3 228.56 L118.9 228.6 L118.5 228.64 L118.1 228.67 L117.7 228.71 L117.3 228.74 L116.9 228.77 L116.5 228.8 L116.1 228.83 L115.7 228.86 L115.3 228.88 L114.9 228.91 L114.5 228.93 L114.1 228.96 L113.7 228.98 L113.3 229.01 L112.9 229.03 L112.5 229.05 L112.1 229.08 L111.7 229.1 L111.3 229.13 L110.9 229.15 L110.5 229.18 L110.1 229.2 L109.7 229.23 L109.3 229.25 L108.9 229.28 L108.5 229.31 L108.1 229.34 L107.7 229.38 L107.3 229.41 L106.9 229.44 L106.5 229.48 L106.1 229.52 L105.7 229.56 L105.3 229.6 L104.9 229.65 L104.5 229.69 L104.1 229.74 L103.7 229.79 L103.3 229.84 L102.9 229.89 L102.5 229.95 L102.1 230 L101.7 230.06 L101.3 230.12 L100.9 230.18 L100.5 230.24 L100.1 230.3 L99.7 230.36 L99.3 230.43 L98.9 230.49 L98.5 230.56 L98.1 230.62 L97.7 230.69 L97.3 230.76 L96.9 230.83 L96.5 230.9 L96.1 230.97 L95.7 231.04 L95.3 231.11 L94.9 231.18 L94.5 231.25 L94.1 231.33 L93.7 231.4 L93.3 231.47 L92.9 231.55 L92.5 231.63 L92.1 231.71 L91.7 231.79 L91.3 231.88 L90.9 231.96 L90.5 232.05 L90.1 232.14 L89.7 232.23 L89.3 232.32 L88.9 232.42 L88.5 232.51 L88.1 232.6 L87.7 232.7 L87.3 232.8 L86.9 232.89 L86.5 232.99 L86.1 233.09 L85.7 233.19 L85.3 233.29 L84.9 233.39 L84.5 233.48 L84.1 233.58 L83.7 233.68 L83.3 233.78 L82.9 233.87 L82.5 233.97 L82.1 234.07 L81.7 234.16 L81.3 234.25 L80.9 234.35 L80.5 234.44 L80.1 234.53 L79.7 234.62 L79.3 234.71 L78.9 234.8 L78.5 234.88 L78.1 234.97 L77.7 235.06 L77.3 235.15 L76.9 235.24 L76.5 235.32 L76.1 235.41 L75.7 235.5 L75.3 235.59 L74.9 235.68 L74.5 235.76 L74.1 235.85 L73.7 235.94 L73.3 236.04 L72.9 236.13 L72.5 236.22 L72.1 236.32 L71.7 236.41 L71.3 236.51 L70.9 236.61 L70.5 236.7 L70.1 236.81 L69.7 236.91 L69.3 237.01 L68.9 237.12 L68.5 237.23 L68.1 237.34 L67.7 237.45 L67.3 237.56 L66.9 237.68 L66.5 237.8 L66.1 237.91 L65.7 238.04 L65.3 238.16 L64.9 238.28 L64.5 238.41 L64.1 238.53 L63.7 238.66 L63.3 238.79 L62.9 238.92 L62.5 239.06 L62.1 239.19 L61.7 239.33 L61.3 239.46 L60.9 239.6 L60.5 239.74 L60.1 239.88 L59.7 240.02 L59.3 240.17 L58.9 240.31 L58.5 240.45 L58.1 240.6Z" fill="#ffc0cb"/>
<g stroke="#000080" stroke-width="1.45" fill="none"><line x1="60.91" x2="60.91" y1="237.7" y2="258.6"/><line x1="73.38" x2="73.38" y1="195.8" y2="258.6"/><line x1="82.23" x2="82.23" y1="219.3" y2="258.6"/><line x1="89.09" x2="89.09" y1="186.3" y2="256.6"/><line x1="94.69" x2="94.69" y1="222.2" y2="248.4"/><line x1="99.43" x2="99.43" y1="191.3" y2="237.1"/><line x1="103.54" x2="103.54" y1="221.2" y2="244.4"/><line x1="107.16" x2="107.16" y1="219.5" y2="244.6"/><line x1="110.4" x2="110.4" y1="213" y2="238.6"/><line x1="113.33" x2="113.33" y1="206.1" y2="234"/><line x1="116.01" x2="116.01" y1="218.5" y2="238.3"/><line x1="118.47" x2="118.47" y1="220" y2="239.6"/><line x1="120.75" x2="120.75" y1="216.5" y2="232.7"/><line x1="122.87" x2="122.87" y1="206.4" y2="226.5"/><line x1="124.85" x2="124.85" y1="221" y2="239.6"/><line x1="126.72" x2="126.72" y1="202.3" y2="224"/><line x1="128.47" x2="128.47" y1="219.5" y2="235.8"/><line x1="130.14" x2="130.14" y1="211.1" y2="231"/><line x1="131.71" x2="131.71" y1="220.5" y2="239.3"/><line x1="133.21" x2="133.21" y1="222" y2="239.3"/><line x1="134.64" x2="134.64" y1="221" y2="239.3"/><line x1="136.01" x2="136.01" y1="222" y2="235.2"/><line x1="137.32" x2="137.32" y1="216" y2="235"/><line x1="138.57" x2="138.57" y1="220" y2="232.6"/><line x1="139.78" x2="139.78" y1="218.5" y2="232.4"/><line x1="140.94" x2="140.94" y1="211" y2="226"/><line x1="142.06" x2="142.06" y1="197.1" y2="216"/><line x1="143.14" x2="143.14" y1="213.5" y2="227.5"/><line x1="144.18" x2="144.18" y1="218" y2="228.6"/><line x1="145.19" x2="145.19" y1="205.4" y2="220.5"/><line x1="146.16" x2="146.16" y1="212" y2="224"/><line x1="207.3" x2="207.3" y1="11.6" y2="15.3"/></g><g fill="#000080"><circle cx="60.91" cy="243.6" r="2.4"/><circle cx="73.38" cy="213.4" r="2.4"/><circle cx="82.23" cy="229.3" r="2.4"/><circle cx="89.09" cy="202.1" r="2.4"/><circle cx="94.69" cy="230.8" r="2.4"/><circle cx="99.43" cy="207.4" r="2.4"/><circle cx="103.54" cy="229.3" r="2.4"/><circle cx="107.16" cy="229.5" r="2.4"/><circle cx="110.4" cy="223.3" r="2.4"/><circle cx="113.33" cy="216.8" r="2.4"/><circle cx="116.01" cy="227" r="2.4"/><circle cx="118.47" cy="228" r="2.4"/><circle cx="120.75" cy="224.5" r="2.4"/><circle cx="122.87" cy="215.2" r="2.4"/><circle cx="124.85" cy="228.9" r="2.4"/><circle cx="126.72" cy="212.2" r="2.4"/><circle cx="128.47" cy="227" r="2.4"/><circle cx="130.14" cy="219" r="2.4"/><circle cx="131.71" cy="228" r="2.4"/><circle cx="133.21" cy="230.2" r="2.4"/><circle cx="134.64" cy="229" r="2.4"/><circle cx="136.01" cy="228" r="2.4"/><circle cx="137.32" cy="224" r="2.4"/><circle cx="138.57" cy="226.5" r="2.4"/><circle cx="139.78" cy="224" r="2.4"/><circle cx="140.94" cy="218" r="2.4"/><circle cx="142.06" cy="206.1" r="2.4"/><circle cx="143.14" cy="220" r="2.4"/><circle cx="144.18" cy="223.3" r="2.4"/><circle cx="145.19" cy="212.2" r="2.4"/><circle cx="146.16" cy="218" r="2.4"/><circle cx="157.6" cy="196.9" r="2.4"/><circle cx="173.3" cy="170.9" r="2.4"/><circle cx="183.3" cy="128.1" r="2.4"/><circle cx="190.9" cy="91.5" r="2.4"/><circle cx="196.5" cy="50.5" r="2.4"/><circle cx="201.6" cy="22.6" r="2.4"/><circle cx="207.2" cy="15.3" r="2.4"/><circle cx="209.7" cy="47.1" r="2.4"/><circle cx="213.2" cy="82.3" r="2.4"/><circle cx="216.4" cy="124.4" r="2.4"/><circle cx="219.5" cy="160.1" r="2.4"/><circle cx="222" cy="178.3" r="2.4"/><circle cx="224.9" cy="185.1" r="2.4"/><circle cx="227" cy="174.8" r="2.4"/><circle cx="229.5" cy="162.2" r="2.4"/><circle cx="232.4" cy="150.2" r="2.4"/><circle cx="236.78" cy="151.6" r="2.4"/><circle cx="241.17" cy="154.9" r="2.4"/><circle cx="245.56" cy="166.5" r="2.4"/><circle cx="249.94" cy="177.5" r="2.4"/><circle cx="254.32" cy="180.5" r="2.4"/><circle cx="258.71" cy="179.3" r="2.4"/><circle cx="263.1" cy="173.5" r="2.4"/><circle cx="267.48" cy="161.9" r="2.4"/><circle cx="271.87" cy="156.7" r="2.4"/><circle cx="276.25" cy="152.4" r="2.4"/><circle cx="280.63" cy="157.5" r="2.4"/><circle cx="285.02" cy="170.3" r="2.4"/><circle cx="289.4" cy="185" r="2.4"/><circle cx="293.79" cy="199.1" r="2.4"/><circle cx="298.18" cy="209.3" r="2.4"/><circle cx="302.56" cy="213.1" r="2.4"/><circle cx="306.94" cy="212.7" r="2.4"/><circle cx="311.33" cy="208.8" r="2.4"/><circle cx="315.72" cy="206.8" r="2.4"/><circle cx="320.1" cy="205.3" r="2.4"/><circle cx="324.49" cy="207.8" r="2.4"/><circle cx="328.87" cy="212.4" r="2.4"/><circle cx="333.25" cy="217.8" r="2.4"/><circle cx="337.64" cy="222.5" r="2.4"/><circle cx="342.02" cy="225.4" r="2.4"/><circle cx="346.41" cy="227" r="2.4"/><circle cx="350.8" cy="224.8" r="2.4"/><circle cx="355.18" cy="224.6" r="2.4"/><circle cx="359.56" cy="222.2" r="2.4"/><circle cx="363.95" cy="223.7" r="2.4"/><circle cx="368.34" cy="225.6" r="2.4"/><circle cx="372.72" cy="228.5" r="2.4"/><circle cx="377.11" cy="232.9" r="2.4"/><circle cx="381.49" cy="236.3" r="2.4"/><circle cx="385.88" cy="238.6" r="2.4"/><circle cx="390.26" cy="240" r="2.4"/><circle cx="394.64" cy="240.4" r="2.4"/><circle cx="399.03" cy="240.5" r="2.4"/><circle cx="403.41" cy="240.5" r="2.4"/><circle cx="407.8" cy="240.8" r="2.4"/><circle cx="412.19" cy="241.9" r="2.4"/><circle cx="416.57" cy="243.2" r="2.4"/><circle cx="420.95" cy="244.5" r="2.4"/><circle cx="425.34" cy="245.6" r="2.4"/><circle cx="429.73" cy="246.3" r="2.4"/><circle cx="434.11" cy="247.1" r="2.4"/><circle cx="438.5" cy="246.9" r="2.4"/><circle cx="442.88" cy="246.7" r="2.4"/></g>
<path d="M61 209.3 L61.4 209.35 L61.8 209.4 L62.2 209.45 L62.6 209.5 L63 209.56 L63.4 209.62 L63.8 209.67 L64.2 209.73 L64.6 209.8 L65 209.86 L65.4 209.92 L65.8 209.99 L66.2 210.06 L66.6 210.12 L67 210.19 L67.4 210.27 L67.8 210.34 L68.2 210.41 L68.6 210.49 L69 210.56 L69.4 210.64 L69.8 210.72 L70.2 210.8 L70.6 210.88 L71 210.96 L71.4 211.04 L71.8 211.13 L72.2 211.21 L72.6 211.3 L73 211.38 L73.4 211.47 L73.8 211.56 L74.2 211.64 L74.6 211.73 L75 211.82 L75.4 211.92 L75.8 212.01 L76.2 212.11 L76.6 212.22 L77 212.32 L77.4 212.43 L77.8 212.54 L78.2 212.66 L78.6 212.78 L79 212.89 L79.4 213.01 L79.8 213.14 L80.2 213.26 L80.6 213.39 L81 213.51 L81.4 213.64 L81.8 213.77 L82.2 213.89 L82.6 214.02 L83 214.15 L83.4 214.28 L83.8 214.41 L84.2 214.53 L84.6 214.66 L85 214.78 L85.4 214.91 L85.8 215.03 L86.2 215.15 L86.6 215.27 L87 215.39 L87.4 215.5 L87.8 215.61 L88.2 215.73 L88.6 215.85 L89 215.97 L89.4 216.09 L89.8 216.21 L90.2 216.34 L90.6 216.46 L91 216.58 L91.4 216.71 L91.8 216.83 L92.2 216.95 L92.6 217.08 L93 217.2 L93.4 217.32 L93.8 217.44 L94.2 217.56 L94.6 217.67 L95 217.79 L95.4 217.9 L95.8 218 L96.2 218.11 L96.6 218.21 L97 218.31 L97.4 218.4 L97.8 218.49 L98.2 218.58 L98.6 218.66 L99 218.73 L99.4 218.8 L99.8 218.87 L100.2 218.93 L100.6 218.99 L101 219.05 L101.4 219.11 L101.8 219.17 L102.2 219.23 L102.6 219.29 L103 219.35 L103.4 219.4 L103.8 219.46 L104.2 219.52 L104.6 219.57 L105 219.62 L105.4 219.67 L105.8 219.72 L106.2 219.77 L106.6 219.82 L107 219.86 L107.4 219.91 L107.8 219.95 L108.2 219.98 L108.6 220.02 L109 220.05 L109.4 220.08 L109.8 220.11 L110.2 220.13 L110.6 220.15 L111 220.17 L111.4 220.18 L111.8 220.19 L112.2 220.2 L112.6 220.2 L113 220.2 L113.4 220.19 L113.8 220.18 L114.2 220.17 L114.6 220.16 L115 220.14 L115.4 220.12 L115.8 220.09 L116.2 220.06 L116.6 220.03 L117 220 L117.4 219.96 L117.8 219.93 L118.2 219.89 L118.6 219.84 L119 219.8 L119.4 219.75 L119.8 219.7 L120.2 219.65 L120.6 219.6 L121 219.54 L121.4 219.49 L121.8 219.43 L122.2 219.37 L122.6 219.31 L123 219.25 L123.4 219.19 L123.8 219.13 L124.2 219.06 L124.6 219 L125 218.93 L125.4 218.87 L125.8 218.79 L126.2 218.71 L126.6 218.62 L127 218.52 L127.4 218.41 L127.8 218.29 L128.2 218.17 L128.6 218.04 L129 217.91 L129.4 217.76 L129.8 217.61 L130.2 217.46 L130.6 217.3 L131 217.13 L131.4 216.96 L131.8 216.79 L132.2 216.61 L132.6 216.43 L133 216.24 L133.4 216.05 L133.8 215.85 L134.2 215.66 L134.6 215.46 L135 215.26 L135.4 215.05 L135.8 214.85 L136.2 214.64 L136.6 214.43 L137 214.22 L137.4 214.01 L137.8 213.8 L138.2 213.59 L138.6 213.36 L139 213.13 L139.4 212.89 L139.8 212.64 L140.2 212.39 L140.6 212.13 L141 211.86 L141.4 211.59 L141.8 211.31 L142.2 211.02 L142.6 210.73 L143 210.43 L143.4 210.13 L143.8 209.82 L144.2 209.51 L144.6 209.2 L145 208.88 L145.4 208.55 L145.8 208.22 L146.2 207.89 L146.6 207.56 L147 207.22 L147.4 206.88 L147.8 206.54 L148.2 206.2 L148.6 205.85 L149 205.51 L149.4 205.16 L149.8 204.81 L150.2 204.46 L150.6 204.1 L151 203.74 L151.4 203.37 L151.8 202.99 L152.2 202.61 L152.6 202.22 L153 201.83 L153.4 201.43 L153.8 201.02 L154.2 200.61 L154.6 200.19 L155 199.76 L155.4 199.33 L155.8 198.89 L156.2 198.44 L156.6 197.98 L157 197.52 L157.4 197.05 L157.8 196.56 L158.2 196.07 L158.6 195.57 L159 195.05 L159.4 194.53 L159.8 194 L160.2 193.46 L160.6 192.9 L161 192.34 L161.4 191.78 L161.8 191.2 L162.2 190.61 L162.6 190.02 L163 189.42 L163.4 188.81 L163.8 188.19 L164.2 187.57 L164.6 186.94 L165 186.29 L165.4 185.63 L165.8 184.95 L166.2 184.25 L166.6 183.54 L167 182.81 L167.4 182.07 L167.8 181.33 L168.2 180.57 L168.6 179.81 L169 179.05 L169.4 178.3 L169.8 177.54 L170.2 176.76 L170.6 175.96 L171 175.11 L171.4 174.21 L171.8 173.25 L172.2 172.21 L172.6 171.06 L173 169.83 L173.4 168.52 L173.8 167.16 L174.2 165.75 L174.6 164.32 L175 162.87 L175.4 161.43 L175.8 160 L176.2 158.59 L176.6 157.17 L177 155.74 L177.4 154.3 L177.8 152.83 L178.2 151.34 L178.6 149.81 L179 148.25 L179.4 146.65 L179.8 145 L180.2 143.3 L180.6 141.54 L181 139.73 L181.4 137.88 L181.8 135.98 L182.2 134.04 L182.6 132.07 L183 130.06 L183.4 128.03 L183.8 125.96 L184.2 123.81 L184.6 121.6 L185 119.33 L185.4 117.04 L185.8 114.73 L186.2 112.42 L186.6 110.13 L187 107.88 L187.4 105.63 L187.8 103.39 L188.2 101.16 L188.6 98.91 L189 96.67 L189.4 94.41 L189.8 92.14 L190.2 89.86 L190.6 87.62 L191 85.4 L191.4 83.18 L191.8 80.92 L192.2 78.59 L192.6 76.18 L193 73.65 L193.4 70.92 L193.8 67.88 L194.2 64.69 L194.6 61.48 L195 58.41 L195.4 55.63 L195.8 53.21 L196.2 50.99 L196.6 48.91 L197 46.91 L197.4 44.92 L197.8 42.89 L198.2 40.87 L198.6 38.88 L199 36.9 L199.4 34.88 L199.8 32.75 L200.2 30.61 L200.6 28.58 L201 26.8 L201.4 25.27 L201.8 23.85 L202.2 22.55 L202.6 21.42 L203 20.5 L203.4 19.73 L203.8 19.05 L204.2 18.5 L204.6 18.12 L205 17.8 L205.4 17.56 L205.8 17.51 L206.2 17.66 L206.6 17.99 L207 18.44 L207.4 19.49 L207.8 21 L208.2 23.08 L208.6 25.72 L209 28.6 L209.4 31.84 L209.8 35.12 L210.2 38.17 L210.6 41.13 L211 44.16 L211.4 47.12 L211.8 50.23 L212.2 53.89 L212.6 58.38 L213 63.48 L213.4 68.9 L213.8 74.36 L214.2 79.97 L214.6 85.84 L215 92 L215.4 98.74 L215.8 105.72 L216.2 112.12 L216.6 118.17 L217 123.91 L217.4 129.32 L217.8 134.48 L218.2 139.38 L218.6 143.93 L219 148.11 L219.4 152.03 L219.8 155.71 L220.2 159.17 L220.6 162.45 L221 165.61 L221.4 168.58 L221.8 171.28 L222.2 173.67 L222.6 175.87 L223 177.75 L223.4 179.2 L223.8 180.51 L224.2 181.1 L224.6 180.83 L225 180.1 L225.4 179.04 L225.8 177.8 L226.2 176.5 L226.6 174.93 L227 172.93 L227.4 170.7 L227.8 168.42 L228.2 165.82 L228.6 162.88 L229 159.78 L229.4 156.7 L229.8 153.81 L230.2 151.29 L230.6 149.32 L231 147.99 L231.4 146.85 L231.8 145.83 L232.2 144.94 L232.6 144.18 L233 143.56 L233.4 143.09 L233.8 142.74 L234.2 142.42 L234.6 142.11 L235 141.83 L235.4 141.59 L235.8 141.38 L236.2 141.21 L236.6 141.09 L237 141.02 L237.4 141 L237.8 141.11 L238.2 141.34 L238.6 141.69 L239 142.13 L239.4 142.64 L239.8 143.22 L240.2 143.85 L240.6 144.5 L241 145.17 L241.4 145.84 L241.8 146.54 L242.2 147.41 L242.6 148.41 L243 149.51 L243.4 150.67 L243.8 151.86 L244.2 153.04 L244.6 154.17 L245 155.23 L245.4 156.18 L245.8 157 L246.2 157.79 L246.6 158.58 L247 159.34 L247.4 160.09 L247.8 160.8 L248.2 161.49 L248.6 162.13 L249 162.73 L249.4 163.28 L249.8 163.78 L250.2 164.22 L250.6 164.59 L251 164.94 L251.4 165.3 L251.8 165.64 L252.2 165.97 L252.6 166.26 L253 166.53 L253.4 166.75 L253.8 166.93 L254.2 167.04 L254.6 167.1 L255 167.07 L255.4 166.96 L255.8 166.77 L256.2 166.51 L256.6 166.19 L257 165.82 L257.4 165.41 L257.8 164.96 L258.2 164.48 L258.6 164 L259 163.5 L259.4 162.94 L259.8 162.25 L260.2 161.45 L260.6 160.55 L261 159.57 L261.4 158.52 L261.8 157.42 L262.2 156.27 L262.6 155.1 L263 153.92 L263.4 152.74 L263.8 151.57 L264.2 150.42 L264.6 149.2 L265 147.9 L265.4 146.55 L265.8 145.16 L266.2 143.75 L266.6 142.35 L267 140.97 L267.4 139.62 L267.8 138.33 L268.2 137.12 L268.6 136 L269 134.93 L269.4 133.85 L269.8 132.79 L270.2 131.74 L270.6 130.74 L271 129.79 L271.4 128.9 L271.8 128.09 L272.2 127.37 L272.6 126.76 L273 126.25 L273.4 125.76 L273.8 125.28 L274.2 124.83 L274.6 124.41 L275 124.06 L275.4 123.78 L275.8 123.59 L276.2 123.5 L276.6 123.53 L277 123.67 L277.4 123.91 L277.8 124.22 L278.2 124.6 L278.6 125.04 L279 125.51 L279.4 126 L279.8 126.5 L280.2 127.06 L280.6 127.75 L281 128.54 L281.4 129.42 L281.8 130.39 L282.2 131.42 L282.6 132.51 L283 133.65 L283.4 134.82 L283.8 136 L284.2 137.26 L284.6 138.64 L285 140.14 L285.4 141.72 L285.8 143.38 L286.2 145.09 L286.6 146.83 L287 148.59 L287.4 150.34 L287.8 152.08 L288.2 153.77 L288.6 155.41 L289 157.06 L289.4 158.75 L289.8 160.45 L290.2 162.17 L290.6 163.89 L291 165.58 L291.4 167.25 L291.8 168.87 L292.2 170.43 L292.6 171.92 L293 173.33 L293.4 174.66 L293.8 175.98 L294.2 177.31 L294.6 178.62 L295 179.92 L295.4 181.18 L295.8 182.39 L296.2 183.55 L296.6 184.64 L297 185.65 L297.4 186.56 L297.8 187.37 L298.2 188.06 L298.6 188.63 L299 189.16 L299.4 189.68 L299.8 190.19 L300.2 190.66 L300.6 191.11 L301 191.51 L301.4 191.86 L301.8 192.15 L302.2 192.38 L302.6 192.53 L303 192.6 L303.4 192.59 L303.8 192.52 L304.2 192.41 L304.6 192.26 L305 192.08 L305.4 191.86 L305.8 191.61 L306.2 191.35 L306.6 191.06 L307 190.77 L307.4 190.46 L307.8 190.15 L308.2 189.84 L308.6 189.45 L309 189 L309.4 188.49 L309.8 187.93 L310.2 187.34 L310.6 186.72 L311 186.08 L311.4 185.43 L311.8 184.79 L312.2 184.17 L312.6 183.57 L313 183 L313.4 182.44 L313.8 181.86 L314.2 181.27 L314.6 180.67 L315 180.07 L315.4 179.49 L315.8 178.93 L316.2 178.41 L316.6 177.92 L317 177.47 L317.4 177.09 L317.8 176.74 L318.2 176.39 L318.6 176.04 L319 175.71 L319.4 175.4 L319.8 175.12 L320.2 174.89 L320.6 174.73 L321 174.62 L321.4 174.6 L321.8 174.64 L322.2 174.71 L322.6 174.83 L323 174.97 L323.4 175.14 L323.8 175.34 L324.2 175.55 L324.6 175.77 L325 176 L325.4 176.28 L325.8 176.63 L326.2 177.06 L326.6 177.53 L327 178.05 L327.4 178.58 L327.8 179.13 L328.2 179.68 L328.6 180.26 L329 180.9 L329.4 181.57 L329.8 182.27 L330.2 183 L330.6 183.74 L331 184.5 L331.4 185.27 L331.8 186.04 L332.2 186.8 L332.6 187.55 L333 188.28 L333.4 188.99 L333.8 189.67 L334.2 190.33 L334.6 190.99 L335 191.68 L335.4 192.37 L335.8 193.07 L336.2 193.76 L336.6 194.45 L337 195.11 L337.4 195.76 L337.8 196.37 L338.2 196.94 L338.6 197.48 L339 197.96 L339.4 198.38 L339.8 198.75 L340.2 199.05 L340.6 199.34 L341 199.62 L341.4 199.9 L341.8 200.16 L342.2 200.4 L342.6 200.61 L343 200.8 L343.4 200.94 L343.8 201.04 L344.2 201.09 L344.6 201.1 L345 201.06 L345.4 201 L345.8 200.9 L346.2 200.78 L346.6 200.64 L347 200.48 L347.4 200.3 L347.8 200.11 L348.2 199.91 L348.6 199.71 L349 199.5 L349.4 199.25 L349.8 198.94 L350.2 198.57 L350.6 198.15 L351 197.69 L351.4 197.2 L351.8 196.7 L352.2 196.18 L352.6 195.66 L353 195.16 L353.4 194.67 L353.8 194.21 L354.2 193.79 L354.6 193.35 L355 192.91 L355.4 192.45 L355.8 192 L356.2 191.55 L356.6 191.11 L357 190.69 L357.4 190.29 L357.8 189.91 L358.2 189.57 L358.6 189.26 L359 189 L359.4 188.76 L359.8 188.51 L360.2 188.27 L360.6 188.04 L361 187.82 L361.4 187.61 L361.8 187.42 L362.2 187.25 L362.6 187.11 L363 187.01 L363.4 186.93 L363.8 186.9 L364.2 186.91 L364.6 186.96 L365 187.04 L365.4 187.15 L365.8 187.29 L366.2 187.45 L366.6 187.64 L367 187.84 L367.4 188.06 L367.8 188.28 L368.2 188.52 L368.6 188.76 L369 189 L369.4 189.27 L369.8 189.58 L370.2 189.94 L370.6 190.34 L371 190.78 L371.4 191.25 L371.8 191.74 L372.2 192.25 L372.6 192.78 L373 193.31 L373.4 193.86 L373.8 194.4 L374.2 194.95 L374.6 195.48 L375 196 L375.4 196.52 L375.8 197.06 L376.2 197.62 L376.6 198.19 L377 198.77 L377.4 199.36 L377.8 199.95 L378.2 200.55 L378.6 201.14 L379 201.73 L379.4 202.31 L379.8 202.88 L380.2 203.44 L380.6 203.98 L381 204.5 L381.4 205.02 L381.8 205.54 L382.2 206.06 L382.6 206.59 L383 207.11 L383.4 207.63 L383.8 208.13 L384.2 208.63 L384.6 209.11 L385 209.57 L385.4 210.01 L385.8 210.43 L386.2 210.82 L386.6 211.17 L387 211.5 L387.4 211.81 L387.8 212.14 L388.2 212.46 L388.6 212.78 L389 213.08 L389.4 213.36 L389.8 213.61 L390.2 213.83 L390.6 214 L391 214.13 L391.4 214.19 L391.8 214.2 L392.2 214.18 L392.6 214.13 L393 214.08 L393.4 214 L393.8 213.92 L394.2 213.82 L394.6 213.71 L395 213.6 L395.4 213.48 L395.8 213.36 L396.2 213.23 L396.6 213.07 L397 212.87 L397.4 212.64 L397.8 212.38 L398.2 212.1 L398.6 211.8 L399 211.5 L399.4 211.19 L399.8 210.88 L400.2 210.59 L400.6 210.3 L401 210.04 L401.4 209.8 L401.8 209.59 L402.2 209.41 L402.6 209.24 L403 209.06 L403.4 208.88 L403.8 208.7 L404.2 208.53 L404.6 208.36 L405 208.2 L405.4 208.05 L405.8 207.9 L406.2 207.78 L406.6 207.66 L407 207.57 L407.4 207.49 L407.8 207.44 L408.2 207.41 L408.6 207.4 L409 207.42 L409.4 207.45 L409.8 207.51 L410.2 207.58 L410.6 207.67 L411 207.77 L411.4 207.88 L411.8 208.01 L412.2 208.14 L412.6 208.28 L413 208.43 L413.4 208.57 L413.8 208.72 L414.2 208.88 L414.6 209.07 L415 209.28 L415.4 209.53 L415.8 209.8 L416.2 210.1 L416.6 210.41 L417 210.73 L417.4 211.07 L417.8 211.42 L418.2 211.77 L418.6 212.12 L419 212.46 L419.4 212.81 L419.8 213.14 L420.2 213.46 L420.6 213.8 L421 214.15 L421.4 214.52 L421.8 214.89 L422.2 215.26 L422.6 215.64 L423 216.01 L423.4 216.37 L423.8 216.72 L424.2 217.06 L424.6 217.37 L425 217.67 L425.4 217.94 L425.8 218.18 L426.2 218.43 L426.6 218.66 L427 218.89 L427.4 219.11 L427.8 219.32 L428.2 219.52 L428.6 219.7 L429 219.87 L429.4 220.01 L429.8 220.14 L430.2 220.25 L430.6 220.36 L431 220.47 L431.4 220.57 L431.8 220.66 L432.2 220.75 L432.6 220.81 L433 220.86 L433.4 220.89 L433.8 220.9 L434.2 220.89 L434.6 220.87 L435 220.84 L435.4 220.79 L435.8 220.75 L436.2 220.69 L436.6 220.63 L437 220.57 L437.4 220.5 L437.8 220.43 L438.2 220.37 L438.6 220.29 L439 220.21 L439.4 220.11 L439.8 220.01 L440.2 219.9 L440.6 219.78 L441 219.66 L441.4 219.53 L441.8 219.39 L442.2 219.24 L442.6 219.1 L443 218.94 L443.4 218.78 L443.6 218.7" fill="none" stroke="#ff0000" stroke-width="1.4" stroke-linejoin="round"/>
<path d="M61 218.3 L61.4 218.37 L61.8 218.45 L62.2 218.53 L62.6 218.6 L63 218.68 L63.4 218.75 L63.8 218.83 L64.2 218.9 L64.6 218.98 L65 219.06 L65.4 219.13 L65.8 219.21 L66.2 219.29 L66.6 219.36 L67 219.44 L67.4 219.52 L67.8 219.6 L68.2 219.67 L68.6 219.75 L69 219.83 L69.4 219.91 L69.8 219.99 L70.2 220.07 L70.6 220.14 L71 220.22 L71.4 220.3 L71.8 220.38 L72.2 220.46 L72.6 220.54 L73 220.62 L73.4 220.7 L73.8 220.78 L74.2 220.86 L74.6 220.94 L75 221.02 L75.4 221.1 L75.8 221.18 L76.2 221.27 L76.6 221.35 L77 221.43 L77.4 221.52 L77.8 221.6 L78.2 221.69 L78.6 221.77 L79 221.86 L79.4 221.94 L79.8 222.03 L80.2 222.11 L80.6 222.2 L81 222.29 L81.4 222.37 L81.8 222.46 L82.2 222.54 L82.6 222.63 L83 222.71 L83.4 222.8 L83.8 222.88 L84.2 222.96 L84.6 223.04 L85 223.13 L85.4 223.21 L85.8 223.29 L86.2 223.37 L86.6 223.45 L87 223.52 L87.4 223.6 L87.8 223.68 L88.2 223.75 L88.6 223.83 L89 223.91 L89.4 223.99 L89.8 224.07 L90.2 224.15 L90.6 224.23 L91 224.31 L91.4 224.39 L91.8 224.47 L92.2 224.55 L92.6 224.63 L93 224.71 L93.4 224.79 L93.8 224.86 L94.2 224.94 L94.6 225.01 L95 225.09 L95.4 225.16 L95.8 225.22 L96.2 225.29 L96.6 225.36 L97 225.42 L97.4 225.48 L97.8 225.54 L98.2 225.59 L98.6 225.64 L99 225.69 L99.4 225.74 L99.8 225.78 L100.2 225.82 L100.6 225.86 L101 225.9 L101.4 225.94 L101.8 225.98 L102.2 226.01 L102.6 226.05 L103 226.09 L103.4 226.13 L103.8 226.17 L104.2 226.2 L104.6 226.24 L105 226.28 L105.4 226.31 L105.8 226.35 L106.2 226.38 L106.6 226.41 L107 226.44 L107.4 226.48 L107.8 226.51 L108.2 226.53 L108.6 226.56 L109 226.59 L109.4 226.61 L109.8 226.64 L110.2 226.66 L110.6 226.68 L111 226.7 L111.4 226.72 L111.8 226.74 L112.2 226.75 L112.6 226.76 L113 226.77 L113.4 226.78 L113.8 226.79 L114.2 226.8 L114.6 226.8 L115 226.8 L115.4 226.8 L115.8 226.79 L116.2 226.78 L116.6 226.77 L117 226.76 L117.4 226.74 L117.8 226.72 L118.2 226.7 L118.6 226.67 L119 226.64 L119.4 226.61 L119.8 226.57 L120.2 226.54 L120.6 226.5 L121 226.46 L121.4 226.42 L121.8 226.38 L122.2 226.33 L122.6 226.28 L123 226.24 L123.4 226.19 L123.8 226.14 L124.2 226.08 L124.6 226.03 L125 225.98 L125.4 225.92 L125.8 225.87 L126.2 225.81 L126.6 225.76 L127 225.7 L127.4 225.64 L127.8 225.58 L128.2 225.51 L128.6 225.43 L129 225.35 L129.4 225.26 L129.8 225.17 L130.2 225.07 L130.6 224.97 L131 224.87 L131.4 224.76 L131.8 224.65 L132.2 224.53 L132.6 224.41 L133 224.28 L133.4 224.15 L133.8 224.02 L134.2 223.89 L134.6 223.75 L135 223.61 L135.4 223.47 L135.8 223.32 L136.2 223.17 L136.6 223.02 L137 222.87 L137.4 222.72 L137.8 222.56 L138.2 222.4 L138.6 222.22 L139 222.04 L139.4 221.84 L139.8 221.64 L140.2 221.42 L140.6 221.21 L141 220.98 L141.4 220.75 L141.8 220.51 L142.2 220.27 L142.6 220.02 L143 219.77 L143.4 219.52 L143.8 219.27 L144.2 219.01 L144.6 218.76 L145 218.5 L145.4 218.24 L145.8 217.98 L146.2 217.72 L146.6 217.45 L147 217.17 L147.4 216.9 L147.8 216.61 L148.2 216.32 L148.6 216.03 L149 215.73 L149.4 215.43 L149.8 215.11 L150.2 214.8 L150.6 214.47 L151 214.14 L151.4 213.8 L151.8 213.45 L152.2 213.09 L152.6 212.72 L153 212.34 L153.4 211.94 L153.8 211.54 L154.2 211.14 L154.6 210.72 L155 210.3 L155.4 209.87 L155.8 209.44 L156.2 209 L156.6 208.56 L157 208.12 L157.4 207.67 L157.8 207.22 L158.2 206.78 L158.6 206.33 L159 205.88 L159.4 205.44 L159.8 204.98 L160.2 204.53 L160.6 204.07 L161 203.6 L161.4 203.12 L161.8 202.63 L162.2 202.13 L162.6 201.62 L163 201.09 L163.4 200.55 L163.8 199.99 L164.2 199.41 L164.6 198.82 L165 198.21 L165.4 197.59 L165.8 196.96 L166.2 196.31 L166.6 195.65 L167 194.97 L167.4 194.27 L167.8 193.56 L168.2 192.83 L168.6 192.08 L169 191.31 L169.4 190.53 L169.8 189.72 L170.2 188.9 L170.6 188.05 L171 187.19 L171.4 186.3 L171.8 185.37 L172.2 184.4 L172.6 183.37 L173 182.3 L173.4 181.19 L173.8 180.05 L174.2 178.87 L174.6 177.68 L175 176.46 L175.4 175.23 L175.8 173.99 L176.2 172.75 L176.6 171.5 L177 170.25 L177.4 168.99 L177.8 167.71 L178.2 166.41 L178.6 165.07 L179 163.69 L179.4 162.25 L179.8 160.77 L180.2 159.22 L180.6 157.6 L181 155.91 L181.4 154.16 L181.8 152.34 L182.2 150.46 L182.6 148.52 L183 146.51 L183.4 144.42 L183.8 142.19 L184.2 139.84 L184.6 137.42 L185 134.96 L185.4 132.47 L185.8 130.01 L186.2 127.59 L186.6 125.23 L187 122.87 L187.4 120.51 L187.8 118.15 L188.2 115.8 L188.6 113.47 L189 111.15 L189.4 108.86 L189.8 106.62 L190.2 104.41 L190.6 102.22 L191 100.03 L191.4 97.81 L191.8 95.54 L192.2 93.2 L192.6 90.79 L193 88.35 L193.4 85.87 L193.8 83.34 L194.2 80.73 L194.6 78.02 L195 75.2 L195.4 72.24 L195.8 68.92 L196.2 65.33 L196.6 61.68 L197 58.17 L197.4 55 L197.8 52.18 L198.2 49.55 L198.6 47.05 L199 44.61 L199.4 42.18 L199.8 39.75 L200.2 37.46 L200.6 35.41 L201 33.54 L201.4 31.78 L201.8 30.13 L202.2 28.57 L202.6 27.1 L203 25.71 L203.4 24.37 L203.8 23.11 L204.2 21.97 L204.6 21 L205 20.14 L205.4 19.43 L205.8 19.02 L206.2 18.74 L206.6 18.75 L207 19.06 L207.4 19.54 L207.8 20.49 L208.2 21.7 L208.6 22.92 L209 24.28 L209.4 25.93 L209.8 28.15 L210.2 31.13 L210.6 34.36 L211 37.39 L211.4 40.4 L211.8 43.4 L212.2 46.18 L212.6 48.91 L213 52.01 L213.4 55.99 L213.8 60.93 L214.2 66.34 L214.6 71.72 L215 76.82 L215.4 81.98 L215.8 87.08 L216.2 92 L216.6 96.65 L217 101.12 L217.4 105.58 L217.8 110.17 L218.2 114.98 L218.6 119.86 L219 124.63 L219.4 129.08 L219.8 133.25 L220.2 137.24 L220.6 141.12 L221 144.96 L221.4 148.83 L221.8 152.57 L222.2 156 L222.6 159.31 L223 162.38 L223.4 164.5 L223.8 165.86 L224.2 166.66 L224.6 166.43 L225 165.45 L225.4 164.13 L225.8 161.83 L226.2 158.85 L226.6 156 L227 153.6 L227.4 151.34 L227.8 149.08 L228.2 146.68 L228.6 144 L229 140.73 L229.4 136.98 L229.8 133.24 L230.2 130 L230.6 127.17 L231 124.47 L231.4 122.11 L231.8 120.33 L232.2 119.13 L232.6 118.09 L233 117.21 L233.4 116.5 L233.8 115.98 L234.2 115.65 L234.6 115.36 L235 115.09 L235.4 114.86 L235.8 114.66 L236.2 114.5 L236.6 114.38 L237 114.32 L237.4 114.3 L237.8 114.4 L238.2 114.6 L238.6 114.9 L239 115.27 L239.4 115.69 L239.8 116.15 L240.2 116.64 L240.6 117.13 L241 117.71 L241.4 118.41 L241.8 119.21 L242.2 120.1 L242.6 121.05 L243 122.06 L243.4 123.1 L243.8 124.16 L244.2 125.21 L244.6 126.26 L245 127.4 L245.4 128.64 L245.8 129.95 L246.2 131.27 L246.6 132.58 L247 133.83 L247.4 134.98 L247.8 136 L248.2 136.93 L248.6 137.83 L249 138.71 L249.4 139.55 L249.8 140.34 L250.2 141.08 L250.6 141.75 L251 142.36 L251.4 142.88 L251.8 143.35 L252.2 143.82 L252.6 144.28 L253 144.7 L253.4 145.06 L253.8 145.35 L254.2 145.53 L254.6 145.6 L255 145.54 L255.4 145.35 L255.8 145.07 L256.2 144.7 L256.6 144.27 L257 143.79 L257.4 143.28 L257.8 142.76 L258.2 142.23 L258.6 141.58 L259 140.84 L259.4 139.99 L259.8 139.07 L260.2 138.09 L260.6 137.06 L261 136 L261.4 134.86 L261.8 133.6 L262.2 132.24 L262.6 130.79 L263 129.28 L263.4 127.73 L263.8 126.16 L264.2 124.58 L264.6 123.02 L265 121.5 L265.4 119.97 L265.8 118.4 L266.2 116.79 L266.6 115.16 L267 113.54 L267.4 111.94 L267.8 110.36 L268.2 108.84 L268.6 107.38 L269 106 L269.4 104.69 L269.8 103.43 L270.2 102.21 L270.6 101.04 L271 99.9 L271.4 98.8 L271.8 97.73 L272.2 96.62 L272.6 95.49 L273 94.42 L273.4 93.48 L273.8 92.76 L274.2 92.28 L274.6 91.86 L275 91.49 L275.4 91.17 L275.8 90.94 L276.2 90.82 L276.6 90.82 L277 90.96 L277.4 91.21 L277.8 91.56 L278.2 91.98 L278.6 92.45 L279 92.99 L279.4 93.82 L279.8 94.89 L280.2 96.11 L280.6 97.38 L281 98.63 L281.4 99.95 L281.8 101.36 L282.2 102.84 L282.6 104.38 L283 105.96 L283.4 107.57 L283.8 109.19 L284.2 110.81 L284.6 112.42 L285 114 L285.4 115.56 L285.8 117.14 L286.2 118.73 L286.6 120.32 L287 121.92 L287.4 123.52 L287.8 125.13 L288.2 126.74 L288.6 128.36 L289 129.97 L289.4 131.58 L289.8 133.19 L290.2 134.8 L290.6 136.4 L291 138.03 L291.4 139.68 L291.8 141.36 L292.2 143.03 L292.6 144.7 L293 146.36 L293.4 147.99 L293.8 149.57 L294.2 151.11 L294.6 152.59 L295 154 L295.4 155.38 L295.8 156.79 L296.2 158.19 L296.6 159.57 L297 160.89 L297.4 162.15 L297.8 163.31 L298.2 164.35 L298.6 165.26 L299 166 L299.4 166.66 L299.8 167.31 L300.2 167.93 L300.6 168.53 L301 169.07 L301.4 169.56 L301.8 169.97 L302.2 170.28 L302.6 170.5 L303 170.6 L303.4 170.57 L303.8 170.46 L304.2 170.27 L304.6 170.01 L305 169.69 L305.4 169.32 L305.8 168.91 L306.2 168.48 L306.6 168.03 L307 167.57 L307.4 167.11 L307.8 166.64 L308.2 166.09 L308.6 165.46 L309 164.77 L309.4 164.03 L309.8 163.26 L310.2 162.46 L310.6 161.65 L311 160.84 L311.4 160.04 L311.8 159.26 L312.2 158.52 L312.6 157.83 L313 157.14 L313.4 156.43 L313.8 155.71 L314.2 154.99 L314.6 154.28 L315 153.58 L315.4 152.9 L315.8 152.25 L316.2 151.64 L316.6 151.07 L317 150.56 L317.4 150.1 L317.8 149.69 L318.2 149.27 L318.6 148.85 L319 148.44 L319.4 148.07 L319.8 147.73 L320.2 147.46 L320.6 147.25 L321 147.13 L321.4 147.1 L321.8 147.15 L322.2 147.26 L322.6 147.42 L323 147.62 L323.4 147.85 L323.8 148.12 L324.2 148.4 L324.6 148.7 L325 149 L325.4 149.35 L325.8 149.77 L326.2 150.27 L326.6 150.82 L327 151.42 L327.4 152.04 L327.8 152.68 L328.2 153.33 L328.6 154.04 L329 154.81 L329.4 155.62 L329.8 156.48 L330.2 157.38 L330.6 158.29 L331 159.23 L331.4 160.18 L331.8 161.12 L332.2 162.07 L332.6 162.99 L333 163.89 L333.4 164.77 L333.8 165.6 L334.2 166.4 L334.6 167.2 L335 168.02 L335.4 168.84 L335.8 169.67 L336.2 170.49 L336.6 171.3 L337 172.09 L337.4 172.85 L337.8 173.58 L338.2 174.28 L338.6 174.94 L339 175.54 L339.4 176.09 L339.8 176.58 L340.2 177.01 L340.6 177.44 L341 177.87 L341.4 178.29 L341.8 178.69 L342.2 179.06 L342.6 179.39 L343 179.67 L343.4 179.88 L343.8 180.03 L344.2 180.1 L344.6 180.08 L345 180.02 L345.4 179.9 L345.8 179.74 L346.2 179.54 L346.6 179.32 L347 179.06 L347.4 178.79 L347.8 178.51 L348.2 178.22 L348.6 177.92 L349 177.57 L349.4 177.14 L349.8 176.65 L350.2 176.1 L350.6 175.51 L351 174.87 L351.4 174.22 L351.8 173.55 L352.2 172.87 L352.6 172.19 L353 171.53 L353.4 170.89 L353.8 170.29 L354.2 169.72 L354.6 169.13 L355 168.53 L355.4 167.92 L355.8 167.31 L356.2 166.69 L356.6 166.09 L357 165.5 L357.4 164.93 L357.8 164.39 L358.2 163.87 L358.6 163.4 L359 162.97 L359.4 162.59 L359.8 162.24 L360.2 161.89 L360.6 161.54 L361 161.2 L361.4 160.88 L361.8 160.59 L362.2 160.33 L362.6 160.13 L363 159.99 L363.4 159.91 L363.8 159.91 L364.2 159.97 L364.6 160.09 L365 160.25 L365.4 160.46 L365.8 160.71 L366.2 160.99 L366.6 161.3 L367 161.63 L367.4 161.97 L367.8 162.32 L368.2 162.69 L368.6 163.15 L369 163.69 L369.4 164.32 L369.8 165.01 L370.2 165.75 L370.6 166.54 L371 167.36 L371.4 168.2 L371.8 169.04 L372.2 169.88 L372.6 170.71 L373 171.57 L373.4 172.5 L373.8 173.46 L374.2 174.45 L374.6 175.46 L375 176.47 L375.4 177.46 L375.8 178.42 L376.2 179.35 L376.6 180.21 L377 181.04 L377.4 181.86 L377.8 182.65 L378.2 183.42 L378.6 184.18 L379 184.92 L379.4 185.64 L379.8 186.36 L380.2 187.08 L380.6 187.82 L381 188.56 L381.4 189.3 L381.8 190.03 L382.2 190.75 L382.6 191.45 L383 192.13 L383.4 192.78 L383.8 193.4 L384.2 193.98 L384.6 194.5 L385 194.98 L385.4 195.4 L385.8 195.78 L386.2 196.16 L386.6 196.54 L387 196.91 L387.4 197.27 L387.8 197.61 L388.2 197.93 L388.6 198.22 L389 198.48 L389.4 198.7 L389.8 198.88 L390.2 199.01 L390.6 199.08 L391 199.1 L391.4 199.08 L391.8 199.03 L392.2 198.95 L392.6 198.85 L393 198.73 L393.4 198.6 L393.8 198.45 L394.2 198.29 L394.6 198.12 L395 197.94 L395.4 197.77 L395.8 197.59 L396.2 197.41 L396.6 197.19 L397 196.93 L397.4 196.64 L397.8 196.32 L398.2 195.99 L398.6 195.64 L399 195.28 L399.4 194.93 L399.8 194.57 L400.2 194.23 L400.6 193.91 L401 193.61 L401.4 193.34 L401.8 193.1 L402.2 192.9 L402.6 192.71 L403 192.51 L403.4 192.31 L403.8 192.11 L404.2 191.92 L404.6 191.74 L405 191.56 L405.4 191.4 L405.8 191.24 L406.2 191.11 L406.6 190.98 L407 190.88 L407.4 190.8 L407.8 190.74 L408.2 190.71 L408.6 190.7 L409 190.72 L409.4 190.77 L409.8 190.84 L410.2 190.94 L410.6 191.05 L411 191.18 L411.4 191.33 L411.8 191.49 L412.2 191.66 L412.6 191.84 L413 192.02 L413.4 192.21 L413.8 192.4 L414.2 192.6 L414.6 192.83 L415 193.1 L415.4 193.4 L415.8 193.74 L416.2 194.09 L416.6 194.47 L417 194.86 L417.4 195.27 L417.8 195.69 L418.2 196.12 L418.6 196.54 L419 196.97 L419.4 197.39 L419.8 197.8 L420.2 198.2 L420.6 198.61 L421 199.04 L421.4 199.47 L421.8 199.91 L422.2 200.36 L422.6 200.81 L423 201.27 L423.4 201.72 L423.8 202.17 L424.2 202.61 L424.6 203.05 L425 203.48 L425.4 203.9 L425.8 204.3 L426.2 204.7 L426.6 205.09 L427 205.49 L427.4 205.89 L427.8 206.28 L428.2 206.67 L428.6 207.04 L429 207.39 L429.4 207.73 L429.8 208.03 L430.2 208.31 L430.6 208.56 L431 208.8 L431.4 209.05 L431.8 209.29 L432.2 209.52 L432.6 209.73 L433 209.91 L433.4 210.06 L433.8 210.15 L434.2 210.2 L434.6 210.2 L435 210.18 L435.4 210.14 L435.8 210.1 L436.2 210.04 L436.6 209.98 L437 209.91 L437.4 209.83 L437.8 209.75 L438.2 209.66 L438.6 209.58 L439 209.48 L439.4 209.36 L439.8 209.23 L440.2 209.08 L440.6 208.91 L441 208.73 L441.4 208.54 L441.8 208.34 L442.2 208.12 L442.6 207.9 L443 207.66 L443.4 207.42 L443.6 207.3" fill="none" stroke="#00ff00" stroke-width="1.4" stroke-linejoin="round"/>
<path d="M61 218.9 L61.4 218.97 L61.8 219.05 L62.2 219.13 L62.6 219.2 L63 219.28 L63.4 219.35 L63.8 219.43 L64.2 219.5 L64.6 219.58 L65 219.66 L65.4 219.73 L65.8 219.81 L66.2 219.89 L66.6 219.96 L67 220.04 L67.4 220.12 L67.8 220.2 L68.2 220.27 L68.6 220.35 L69 220.43 L69.4 220.51 L69.8 220.59 L70.2 220.67 L70.6 220.74 L71 220.82 L71.4 220.9 L71.8 220.98 L72.2 221.06 L72.6 221.14 L73 221.22 L73.4 221.3 L73.8 221.38 L74.2 221.46 L74.6 221.54 L75 221.62 L75.4 221.7 L75.8 221.78 L76.2 221.87 L76.6 221.95 L77 222.03 L77.4 222.12 L77.8 222.2 L78.2 222.29 L78.6 222.37 L79 222.46 L79.4 222.54 L79.8 222.63 L80.2 222.71 L80.6 222.8 L81 222.89 L81.4 222.97 L81.8 223.06 L82.2 223.14 L82.6 223.23 L83 223.31 L83.4 223.4 L83.8 223.48 L84.2 223.56 L84.6 223.64 L85 223.73 L85.4 223.81 L85.8 223.89 L86.2 223.97 L86.6 224.05 L87 224.12 L87.4 224.2 L87.8 224.28 L88.2 224.35 L88.6 224.43 L89 224.51 L89.4 224.59 L89.8 224.67 L90.2 224.75 L90.6 224.83 L91 224.91 L91.4 224.99 L91.8 225.07 L92.2 225.15 L92.6 225.23 L93 225.31 L93.4 225.39 L93.8 225.46 L94.2 225.54 L94.6 225.61 L95 225.69 L95.4 225.76 L95.8 225.82 L96.2 225.89 L96.6 225.96 L97 226.02 L97.4 226.08 L97.8 226.14 L98.2 226.19 L98.6 226.24 L99 226.29 L99.4 226.34 L99.8 226.38 L100.2 226.42 L100.6 226.46 L101 226.5 L101.4 226.54 L101.8 226.58 L102.2 226.61 L102.6 226.65 L103 226.69 L103.4 226.73 L103.8 226.77 L104.2 226.8 L104.6 226.84 L105 226.88 L105.4 226.91 L105.8 226.95 L106.2 226.98 L106.6 227.01 L107 227.04 L107.4 227.08 L107.8 227.11 L108.2 227.13 L108.6 227.16 L109 227.19 L109.4 227.21 L109.8 227.24 L110.2 227.26 L110.6 227.28 L111 227.3 L111.4 227.32 L111.8 227.34 L112.2 227.35 L112.6 227.36 L113 227.37 L113.4 227.38 L113.8 227.39 L114.2 227.4 L114.6 227.4 L115 227.4 L115.4 227.4 L115.8 227.39 L116.2 227.38 L116.6 227.37 L117 227.36 L117.4 227.34 L117.8 227.32 L118.2 227.29 L118.6 227.27 L119 227.24 L119.4 227.21 L119.8 227.17 L120.2 227.14 L120.6 227.1 L121 227.06 L121.4 227.02 L121.8 226.97 L122.2 226.93 L122.6 226.88 L123 226.83 L123.4 226.78 L123.8 226.73 L124.2 226.68 L124.6 226.63 L125 226.58 L125.4 226.52 L125.8 226.47 L126.2 226.41 L126.6 226.36 L127 226.3 L127.4 226.24 L127.8 226.18 L128.2 226.11 L128.6 226.04 L129 225.96 L129.4 225.87 L129.8 225.78 L130.2 225.69 L130.6 225.6 L131 225.49 L131.4 225.39 L131.8 225.28 L132.2 225.17 L132.6 225.05 L133 224.93 L133.4 224.81 L133.8 224.68 L134.2 224.55 L134.6 224.42 L135 224.28 L135.4 224.14 L135.8 224 L136.2 223.86 L136.6 223.71 L137 223.56 L137.4 223.41 L137.8 223.26 L138.2 223.1 L138.6 222.93 L139 222.75 L139.4 222.55 L139.8 222.35 L140.2 222.14 L140.6 221.93 L141 221.7 L141.4 221.47 L141.8 221.23 L142.2 220.99 L142.6 220.74 L143 220.49 L143.4 220.24 L143.8 219.98 L144.2 219.72 L144.6 219.46 L145 219.2 L145.4 218.93 L145.8 218.66 L146.2 218.38 L146.6 218.1 L147 217.81 L147.4 217.51 L147.8 217.21 L148.2 216.9 L148.6 216.58 L149 216.26 L149.4 215.94 L149.8 215.61 L150.2 215.27 L150.6 214.94 L151 214.59 L151.4 214.24 L151.8 213.89 L152.2 213.53 L152.6 213.16 L153 212.79 L153.4 212.4 L153.8 212.01 L154.2 211.61 L154.6 211.21 L155 210.8 L155.4 210.38 L155.8 209.96 L156.2 209.53 L156.6 209.1 L157 208.66 L157.4 208.22 L157.8 207.78 L158.2 207.33 L158.6 206.89 L159 206.44 L159.4 206 L159.8 205.55 L160.2 205.1 L160.6 204.64 L161 204.18 L161.4 203.71 L161.8 203.24 L162.2 202.75 L162.6 202.26 L163 201.75 L163.4 201.22 L163.8 200.68 L164.2 200.13 L164.6 199.56 L165 198.97 L165.4 198.37 L165.8 197.75 L166.2 197.12 L166.6 196.47 L167 195.81 L167.4 195.14 L167.8 194.45 L168.2 193.74 L168.6 193.01 L169 192.27 L169.4 191.5 L169.8 190.72 L170.2 189.92 L170.6 189.1 L171 188.26 L171.4 187.4 L171.8 186.52 L172.2 185.61 L172.6 184.65 L173 183.63 L173.4 182.57 L173.8 181.47 L174.2 180.34 L174.6 179.17 L175 177.98 L175.4 176.77 L175.8 175.54 L176.2 174.3 L176.6 173.06 L177 171.81 L177.4 170.57 L177.8 169.31 L178.2 168.04 L178.6 166.74 L179 165.41 L179.4 164.03 L179.8 162.62 L180.2 161.14 L180.6 159.61 L181 158.01 L181.4 156.34 L181.8 154.6 L182.2 152.8 L182.6 150.94 L183 149.01 L183.4 147.02 L183.8 144.95 L184.2 142.76 L184.6 140.44 L185 138.03 L185.4 135.57 L185.8 133.09 L186.2 130.62 L186.6 128.19 L187 125.82 L187.4 123.46 L187.8 121.1 L188.2 118.74 L188.6 116.39 L189 114.05 L189.4 111.73 L189.8 109.43 L190.2 107.17 L190.6 104.96 L191 102.77 L191.4 100.58 L191.8 98.36 L192.2 96.11 L192.6 93.79 L193 91.39 L193.4 88.96 L193.8 86.49 L194.2 83.98 L194.6 81.39 L195 78.71 L195.4 75.92 L195.8 73 L196.2 69.78 L196.6 66.24 L197 62.59 L197.4 59.02 L197.8 55.75 L198.2 52.87 L198.6 50.19 L199 47.67 L199.4 45.22 L199.8 42.79 L200.2 40.35 L200.6 38.01 L201 35.9 L201.4 34.01 L201.8 32.24 L202.2 30.57 L202.6 28.99 L203 27.49 L203.4 26.04 L203.8 24.61 L204.2 23.23 L204.6 22 L205 21 L205.4 20.16 L205.8 19.5 L206.2 19.15 L206.6 18.93 L207 18.96 L207.4 19.34 L207.8 19.98 L208.2 21.16 L208.6 22.41 L209 23.66 L209.4 25.09 L209.8 26.91 L210.2 29.56 L210.6 32.74 L211 35.9 L211.4 38.9 L211.8 41.91 L212.2 44.83 L212.6 47.53 L213 50.38 L213.4 53.86 L213.8 58.37 L214.2 63.61 L214.6 69.07 L215 74.27 L215.4 79.4 L215.8 84.54 L216.2 89.57 L216.6 94.36 L217 98.9 L217.4 103.35 L217.8 107.85 L218.2 112.57 L218.6 117.48 L219 122.35 L219.4 126.93 L219.8 131.14 L220.2 135.2 L220.6 139.04 L221 142.59 L221.4 145.76 L221.8 148.63 L222.2 151.22 L222.6 153.5 L223 155.62 L223.4 157.4 L223.8 158.47 L224.2 159.18 L224.6 159.19 L225 158.48 L225.4 157.25 L225.8 154.75 L226.2 152 L226.6 149.59 L227 147.2 L227.4 144.7 L227.8 142 L228.2 139.03 L228.6 135.82 L229 132.43 L229.4 128.9 L229.8 125.02 L230.2 120.54 L230.6 116.04 L231 112.14 L231.4 109.44 L231.8 107.5 L232.2 106.07 L232.6 105.13 L233 104.42 L233.4 103.85 L233.8 103.36 L234.2 102.91 L234.6 102.52 L235 102.17 L235.4 101.87 L235.8 101.6 L236.2 101.32 L236.6 101.07 L237 100.86 L237.4 100.73 L237.8 100.7 L238.2 100.8 L238.6 101 L239 101.28 L239.4 101.6 L239.8 101.95 L240.2 102.3 L240.6 102.66 L241 103.07 L241.4 103.53 L241.8 104.06 L242.2 104.66 L242.6 105.4 L243 106.29 L243.4 107.27 L243.8 108.33 L244.2 109.41 L244.6 110.48 L245 111.5 L245.4 112.5 L245.8 113.55 L246.2 114.62 L246.6 115.7 L247 116.79 L247.4 117.88 L247.8 118.95 L248.2 119.98 L248.6 120.98 L249 121.93 L249.4 122.81 L249.8 123.63 L250.2 124.37 L250.6 125.14 L251 125.92 L251.4 126.7 L251.8 127.46 L252.2 128.16 L252.6 128.8 L253 129.34 L253.4 129.77 L253.8 130.06 L254.2 130.19 L254.6 130.17 L255 130.04 L255.4 129.82 L255.8 129.51 L256.2 129.13 L256.6 128.68 L257 128.19 L257.4 127.64 L257.8 127.06 L258.2 126.46 L258.6 125.84 L259 125.04 L259.4 124.02 L259.8 122.82 L260.2 121.48 L260.6 120.02 L261 118.47 L261.4 116.88 L261.8 115.27 L262.2 113.67 L262.6 112.11 L263 110.5 L263.4 108.8 L263.8 107.04 L264.2 105.23 L264.6 103.4 L265 101.57 L265.4 99.77 L265.8 98 L266.2 96.25 L266.6 94.47 L267 92.68 L267.4 90.89 L267.8 89.11 L268.2 87.35 L268.6 85.62 L269 83.94 L269.4 82.31 L269.8 80.75 L270.2 79.25 L270.6 77.72 L271 76.18 L271.4 74.67 L271.8 73.21 L272.2 71.85 L272.6 70.61 L273 69.55 L273.4 68.68 L273.8 67.98 L274.2 67.29 L274.6 66.64 L275 66.04 L275.4 65.53 L275.8 65.12 L276.2 64.84 L276.6 64.71 L277 64.75 L277.4 64.94 L277.8 65.27 L278.2 65.71 L278.6 66.24 L279 66.84 L279.4 67.49 L279.8 68.16 L280.2 68.87 L280.6 69.78 L281 70.88 L281.4 72.15 L281.8 73.53 L282.2 75.01 L282.6 76.54 L283 78.09 L283.4 79.62 L283.8 81.14 L284.2 82.73 L284.6 84.37 L285 86.08 L285.4 87.83 L285.8 89.62 L286.2 91.44 L286.6 93.29 L287 95.17 L287.4 97.05 L287.8 98.95 L288.2 100.9 L288.6 102.89 L289 104.93 L289.4 106.99 L289.8 109.07 L290.2 111.17 L290.6 113.28 L291 115.38 L291.4 117.48 L291.8 119.59 L292.2 121.79 L292.6 124.04 L293 126.3 L293.4 128.54 L293.8 130.7 L294.2 132.76 L294.6 134.68 L295 136.42 L295.4 138.12 L295.8 139.81 L296.2 141.46 L296.6 143.06 L297 144.57 L297.4 145.96 L297.8 147.2 L298.2 148.28 L298.6 149.15 L299 149.82 L299.4 150.45 L299.8 151.06 L300.2 151.63 L300.6 152.16 L301 152.62 L301.4 153 L301.8 153.3 L302.2 153.51 L302.6 153.6 L303 153.56 L303.4 153.41 L303.8 153.15 L304.2 152.8 L304.6 152.37 L305 151.87 L305.4 151.33 L305.8 150.76 L306.2 150.17 L306.6 149.58 L307 149 L307.4 148.38 L307.8 147.68 L308.2 146.9 L308.6 146.06 L309 145.17 L309.4 144.23 L309.8 143.25 L310.2 142.26 L310.6 141.25 L311 140.25 L311.4 139.25 L311.8 138.28 L312.2 137.33 L312.6 136.43 L313 135.57 L313.4 134.68 L313.8 133.77 L314.2 132.84 L314.6 131.91 L315 131 L315.4 130.11 L315.8 129.27 L316.2 128.49 L316.6 127.77 L317 127.15 L317.4 126.62 L317.8 126.16 L318.2 125.71 L318.6 125.27 L319 124.85 L319.4 124.47 L319.8 124.13 L320.2 123.86 L320.6 123.65 L321 123.53 L321.4 123.5 L321.8 123.57 L322.2 123.73 L322.6 123.96 L323 124.26 L323.4 124.62 L323.8 125.02 L324.2 125.45 L324.6 125.92 L325 126.39 L325.4 126.88 L325.8 127.4 L326.2 128.04 L326.6 128.79 L327 129.63 L327.4 130.56 L327.8 131.54 L328.2 132.58 L328.6 133.66 L329 134.75 L329.4 135.85 L329.8 136.94 L330.2 138 L330.6 139.03 L331 140 L331.4 140.95 L331.8 141.91 L332.2 142.88 L332.6 143.86 L333 144.84 L333.4 145.82 L333.8 146.79 L334.2 147.76 L334.6 148.71 L335 149.65 L335.4 150.57 L335.8 151.47 L336.2 152.35 L336.6 153.19 L337 154 L337.4 154.8 L337.8 155.62 L338.2 156.43 L338.6 157.23 L339 158 L339.4 158.73 L339.8 159.41 L340.2 160.02 L340.6 160.56 L341 161 L341.4 161.4 L341.8 161.79 L342.2 162.17 L342.6 162.52 L343 162.82 L343.4 163.06 L343.8 163.22 L344.2 163.3 L344.6 163.28 L345 163.19 L345.4 163.04 L345.8 162.84 L346.2 162.6 L346.6 162.32 L347 162.01 L347.4 161.69 L347.8 161.36 L348.2 161.02 L348.6 160.6 L349 160.1 L349.4 159.53 L349.8 158.89 L350.2 158.21 L350.6 157.48 L351 156.73 L351.4 155.96 L351.8 155.17 L352.2 154.39 L352.6 153.63 L353 152.88 L353.4 152.17 L353.8 151.48 L354.2 150.75 L354.6 149.99 L355 149.22 L355.4 148.43 L355.8 147.64 L356.2 146.87 L356.6 146.11 L357 145.38 L357.4 144.69 L357.8 144.05 L358.2 143.46 L358.6 142.94 L359 142.5 L359.4 142.1 L359.8 141.69 L360.2 141.29 L360.6 140.9 L361 140.53 L361.4 140.19 L361.8 139.89 L362.2 139.63 L362.6 139.43 L363 139.29 L363.4 139.21 L363.8 139.21 L364.2 139.29 L364.6 139.45 L365 139.66 L365.4 139.93 L365.8 140.24 L366.2 140.58 L366.6 140.95 L367 141.33 L367.4 141.71 L367.8 142.1 L368.2 142.58 L368.6 143.11 L369 143.71 L369.4 144.35 L369.8 145.04 L370.2 145.75 L370.6 146.49 L371 147.24 L371.4 148 L371.8 148.78 L372.2 149.62 L372.6 150.5 L373 151.42 L373.4 152.37 L373.8 153.35 L374.2 154.36 L374.6 155.38 L375 156.4 L375.4 157.44 L375.8 158.47 L376.2 159.5 L376.6 160.51 L377 161.5 L377.4 162.49 L377.8 163.5 L378.2 164.53 L378.6 165.56 L379 166.6 L379.4 167.65 L379.8 168.69 L380.2 169.73 L380.6 170.75 L381 171.77 L381.4 172.77 L381.8 173.74 L382.2 174.69 L382.6 175.61 L383 176.5 L383.4 177.39 L383.8 178.3 L384.2 179.21 L384.6 180.12 L385 180.99 L385.4 181.83 L385.8 182.6 L386.2 183.3 L386.6 183.9 L387 184.4 L387.4 184.8 L387.8 185.2 L388.2 185.58 L388.6 185.95 L389 186.29 L389.4 186.6 L389.8 186.88 L390.2 187.11 L390.6 187.29 L391 187.42 L391.4 187.49 L391.8 187.5 L392.2 187.46 L392.6 187.39 L393 187.29 L393.4 187.16 L393.8 187.02 L394.2 186.85 L394.6 186.67 L395 186.49 L395.4 186.29 L395.8 186.1 L396.2 185.9 L396.6 185.65 L397 185.35 L397.4 185.01 L397.8 184.63 L398.2 184.23 L398.6 183.81 L399 183.38 L399.4 182.94 L399.8 182.51 L400.2 182.08 L400.6 181.68 L401 181.3 L401.4 180.95 L401.8 180.64 L402.2 180.37 L402.6 180.1 L403 179.82 L403.4 179.54 L403.8 179.26 L404.2 178.99 L404.6 178.72 L405 178.47 L405.4 178.23 L405.8 178.01 L406.2 177.8 L406.6 177.62 L407 177.47 L407.4 177.35 L407.8 177.26 L408.2 177.21 L408.6 177.2 L409 177.23 L409.4 177.3 L409.8 177.41 L410.2 177.55 L410.6 177.71 L411 177.91 L411.4 178.12 L411.8 178.36 L412.2 178.61 L412.6 178.87 L413 179.15 L413.4 179.43 L413.8 179.71 L414.2 180 L414.6 180.31 L415 180.68 L415.4 181.1 L415.8 181.56 L416.2 182.06 L416.6 182.59 L417 183.14 L417.4 183.72 L417.8 184.3 L418.2 184.9 L418.6 185.49 L419 186.08 L419.4 186.66 L419.8 187.23 L420.2 187.77 L420.6 188.33 L421 188.9 L421.4 189.48 L421.8 190.07 L422.2 190.67 L422.6 191.26 L423 191.86 L423.4 192.45 L423.8 193.03 L424.2 193.61 L424.6 194.17 L425 194.72 L425.4 195.25 L425.8 195.76 L426.2 196.24 L426.6 196.74 L427 197.23 L427.4 197.73 L427.8 198.22 L428.2 198.69 L428.6 199.14 L429 199.56 L429.4 199.95 L429.8 200.3 L430.2 200.61 L430.6 200.86 L431 201.1 L431.4 201.34 L431.8 201.57 L432.2 201.78 L432.6 201.98 L433 202.14 L433.4 202.27 L433.8 202.36 L434.2 202.4 L434.6 202.39 L435 202.37 L435.4 202.32 L435.8 202.26 L436.2 202.19 L436.6 202.1 L437 202.01 L437.4 201.9 L437.8 201.79 L438.2 201.68 L438.6 201.57 L439 201.44 L439.4 201.3 L439.8 201.13 L440.2 200.95 L440.6 200.74 L441 200.53 L441.4 200.29 L441.8 200.05 L442.2 199.79 L442.6 199.52 L443 199.24 L443.4 198.95 L443.6 198.8" fill="none" stroke="#0000ff" stroke-width="1.4" stroke-linejoin="round"/>
</g>
<g clip-path="url(#cr)">
<path d="M444.9 177.9 L445.3 178.24 L445.7 178.58 L446.1 178.91 L446.5 179.24 L446.9 179.57 L447.3 179.9 L447.7 180.23 L448.1 180.55 L448.5 180.88 L448.9 181.19 L449.3 181.51 L449.7 181.83 L450.1 182.14 L450.5 182.45 L450.9 182.75 L451.3 183.06 L451.7 183.36 L452.1 183.66 L452.5 183.95 L452.9 184.24 L453.3 184.53 L453.7 184.82 L454.1 185.1 L454.5 185.38 L454.9 185.66 L455.3 185.93 L455.7 186.2 L456.1 186.47 L456.5 186.73 L456.9 186.99 L457.3 187.25 L457.7 187.5 L458.1 187.75 L458.5 187.99 L458.9 188.24 L459.3 188.48 L459.7 188.72 L460.1 188.96 L460.5 189.2 L460.9 189.43 L461.3 189.67 L461.7 189.9 L462.1 190.13 L462.5 190.36 L462.9 190.59 L463.3 190.82 L463.7 191.05 L464.1 191.28 L464.5 191.51 L464.9 191.74 L465.3 191.97 L465.7 192.2 L466.1 192.44 L466.5 192.67 L466.9 192.9 L467.3 193.14 L467.7 193.38 L468.1 193.62 L468.5 193.86 L468.9 194.11 L469.3 194.36 L469.7 194.6 L470.1 194.85 L470.5 195.1 L470.9 195.36 L471.3 195.61 L471.7 195.86 L472.1 196.12 L472.5 196.37 L472.9 196.62 L473.3 196.88 L473.7 197.13 L474.1 197.38 L474.5 197.63 L474.9 197.88 L475.3 198.13 L475.7 198.37 L476.1 198.61 L476.5 198.86 L476.9 199.1 L477.3 199.33 L477.7 199.57 L478.1 199.8 L478.5 200.02 L478.9 200.25 L479.3 200.47 L479.7 200.68 L480.1 200.89 L480.5 201.1 L480.9 201.31 L481.3 201.51 L481.7 201.72 L482.1 201.92 L482.5 202.13 L482.9 202.33 L483.3 202.54 L483.7 202.74 L484.1 202.94 L484.5 203.14 L484.9 203.34 L485.3 203.54 L485.7 203.74 L486.1 203.93 L486.5 204.12 L486.9 204.31 L487.3 204.49 L487.7 204.68 L488.1 204.85 L488.5 205.03 L488.9 205.2 L489.3 205.37 L489.7 205.53 L490.1 205.69 L490.5 205.84 L490.9 205.99 L491.3 206.13 L491.7 206.27 L492.1 206.4 L492.5 206.52 L492.9 206.64 L493.3 206.76 L493.7 206.87 L494.1 206.97 L494.5 207.08 L494.9 207.19 L495.3 207.29 L495.7 207.39 L496.1 207.49 L496.5 207.58 L496.9 207.67 L497.3 207.77 L497.7 207.86 L498.1 207.95 L498.5 208.03 L498.9 208.12 L499.3 208.2 L499.7 208.28 L500.1 208.36 L500.5 208.44 L500.9 208.51 L501.3 208.59 L501.7 208.66 L502.1 208.73 L502.5 208.8 L502.9 208.87 L503.3 208.93 L503.7 209 L504.1 209.06 L504.5 209.12 L504.9 209.18 L505.3 209.24 L505.7 209.3 L506.1 209.36 L506.5 209.42 L506.9 209.48 L507.3 209.54 L507.7 209.61 L508.1 209.67 L508.5 209.72 L508.9 209.78 L509.3 209.83 L509.7 209.88 L510.1 209.92 L510.5 209.95 L510.9 209.97 L511.3 209.99 L511.7 210 L512.1 210 L512.5 209.97 L512.9 209.94 L513.3 209.88 L513.7 209.82 L514.1 209.74 L514.5 209.64 L514.9 209.54 L515.3 209.42 L515.7 209.3 L516.1 209.16 L516.5 209.02 L516.9 208.86 L517.3 208.71 L517.7 208.54 L518.1 208.37 L518.5 208.2 L518.9 208.02 L519.3 207.84 L519.7 207.66 L520.1 207.48 L520.5 207.3 L520.9 207.11 L521.3 206.93 L521.7 206.76 L522.1 206.57 L522.5 206.37 L522.9 206.15 L523.3 205.92 L523.7 205.69 L524.1 205.44 L524.5 205.18 L524.9 204.92 L525.3 204.64 L525.7 204.37 L526.1 204.08 L526.5 203.8 L526.9 203.51 L527.3 203.21 L527.7 202.92 L528.1 202.63 L528.5 202.33 L528.9 202.04 L529.3 201.76 L529.7 201.46 L530.1 201.17 L530.5 200.87 L530.9 200.56 L531.3 200.25 L531.7 199.94 L532.1 199.63 L532.5 199.31 L532.9 198.99 L533.3 198.67 L533.7 198.34 L534.1 198.01 L534.5 197.68 L534.9 197.35 L535.3 197.01 L535.7 196.68 L536.1 196.34 L536.5 196 L536.9 195.66 L537.3 195.32 L537.7 194.98 L538.1 194.64 L538.5 194.3 L538.9 193.96 L539.3 193.61 L539.7 193.26 L540.1 192.91 L540.5 192.55 L540.9 192.19 L541.3 191.83 L541.7 191.46 L542.1 191.08 L542.5 190.7 L542.9 190.31 L543.3 189.91 L543.7 189.51 L544.1 189.09 L544.5 188.68 L544.9 188.26 L545.3 187.84 L545.7 187.42 L546.1 186.99 L546.5 186.55 L546.9 186.1 L547.3 185.65 L547.7 185.19 L548.1 184.71 L548.5 184.23 L548.9 183.73 L549.3 183.21 L549.7 182.69 L550.1 182.14 L550.5 181.58 L550.9 181 L551.3 180.4 L551.7 179.78 L552.1 179.13 L552.5 178.45 L552.9 177.74 L553.3 177.01 L553.7 176.24 L554.1 175.45 L554.5 174.62 L554.9 173.76 L555.3 172.87 L555.7 171.95 L556.1 170.99 L556.5 170 L556.9 168.95 L557.3 167.83 L557.7 166.64 L558.1 165.39 L558.5 164.08 L558.9 162.72 L559.3 161.31 L559.7 159.86 L560.1 158.38 L560.5 156.87 L560.9 155.33 L561.3 153.78 L561.7 152.21 L562.1 150.64 L562.5 149.06 L562.9 147.49 L563.3 145.93 L563.7 144.38 L564.1 142.85 L564.5 141.33 L564.9 139.8 L565.3 138.27 L565.7 136.74 L566.1 135.19 L566.5 133.64 L566.9 132.08 L567.3 130.5 L567.7 128.9 L568.1 127.29 L568.5 125.65 L568.9 123.99 L569.3 122.3 L569.7 120.58 L570.1 118.83 L570.5 117.04 L570.9 115.22 L571.3 113.36 L571.7 111.46 L572.1 109.51 L572.5 107.5 L572.9 105.43 L573.3 103.3 L573.7 101.11 L574.1 98.88 L574.5 96.59 L574.9 94.25 L575.3 91.88 L575.7 89.46 L576.1 87.01 L576.5 84.52 L576.9 82 L577.3 79.46 L577.7 76.89 L578.1 74.3 L578.5 71.69 L578.9 69 L579.3 66.24 L579.7 63.41 L580.1 60.53 L580.5 57.61 L580.9 54.65 L581.3 51.67 L581.7 48.67 L582.1 45.67 L582.5 42.67 L582.9 39.69 L583.3 36.73 L583.7 33.8 L584.1 30.85 L584.5 27.89 L584.9 24.84 L585.3 21.59 L585.7 18.9 L586.1 16.92 L586.5 15.18 L586.9 13.63 L587.3 12.23 L587.7 10.94 L588.1 9.71 L588.5 8.48 L588.9 7.26 L589.3 6.11 L589.7 5.1 L590.1 4.3 L590.5 3.73 L590.9 3.22 L591.3 2.77 L591.7 2.42 L592.1 2.23 L592.5 2.23 L592.9 2.42 L593.3 2.77 L593.7 3.22 L594.1 3.73 L594.5 4.29 L594.9 5.02 L595.3 5.94 L595.7 7.04 L596.1 8.32 L596.5 9.8 L596.9 11.84 L597.3 14.43 L597.7 17.37 L598.1 20.57 L598.5 24.4 L598.9 28.41 L599.3 32.6 L599.7 37.03 L600.1 41.76 L600.5 46.68 L600.9 51.66 L601.3 56.28 L601.7 60.34 L602.1 64.91 L602.5 71.08 L602.9 83.75 L603.3 99.25 L603.7 105.46 L604.1 111.37 L604.5 117.07 L604.9 122.45 L605.3 127.59 L605.7 132.47 L606.1 136.9 L606.5 140.81 L606.9 144.27 L607.3 147.44 L607.7 150.5 L608.1 153.63 L608.5 156.9 L608.9 160.29 L609.3 163.65 L609.7 166.87 L610.1 169.75 L610.5 172.6 L610.9 175.41 L611.3 177.62 L611.7 178.06 L612.1 177.52 L612.5 176.16 L612.9 174.51 L613.3 172.98 L613.7 171.6 L614.1 170.07 L614.5 168.17 L614.9 165.89 L615.3 163.49 L615.7 160.65 L616.1 157.63 L616.5 154.73 L616.9 152.27 L617.3 150.38 L617.7 148.7 L618.1 147.17 L618.5 145.87 L618.9 144.88 L619.3 144.2 L619.7 143.67 L620.1 143.21 L620.5 142.84 L620.9 142.61 L621.3 142.53 L621.7 142.59 L622.1 142.73 L622.5 142.94 L622.9 143.17 L623.3 143.43 L623.7 143.71 L624.1 144.04 L624.5 144.43 L624.9 144.87 L625.3 145.35 L625.7 145.88 L626.1 146.44 L626.5 147.04 L626.9 147.66 L627.3 148.31 L627.7 148.98 L628.1 149.74 L628.5 150.59 L628.9 151.55 L629.3 152.6 L629.7 153.7 L630.1 154.82 L630.5 155.93 L630.9 157.02 L631.3 158.11 L631.7 159.17 L632.1 160.2 L632.5 161.24 L632.9 162.32 L633.3 163.45 L633.7 164.59 L634.1 165.72 L634.5 166.83 L634.9 167.88 L635.3 168.87 L635.7 169.77 L636.1 170.55 L636.5 171.2 L636.9 171.78 L637.3 172.36 L637.7 172.93 L638.1 173.48 L638.5 174 L638.9 174.5 L639.3 174.95 L639.7 175.35 L640.1 175.69 L640.5 175.96 L640.9 176.16 L641.3 176.27 L641.7 176.29 L642.1 176.25 L642.5 176.13 L642.9 175.96 L643.3 175.74 L643.7 175.48 L644.1 175.19 L644.5 174.88 L644.9 174.56 L645.3 174.23 L645.7 173.83 L646.1 173.35 L646.5 172.77 L646.9 172.12 L647.3 171.41 L647.7 170.64 L648.1 169.84 L648.5 169.01 L648.9 168.18 L649.3 167.34 L649.7 166.52 L650.1 165.67 L650.5 164.76 L650.9 163.79 L651.3 162.79 L651.7 161.76 L652.1 160.73 L652.5 159.7 L652.9 158.69 L653.3 157.71 L653.7 156.78 L654.1 155.91 L654.5 155.07 L654.9 154.21 L655.3 153.36 L655.7 152.52 L656.1 151.69 L656.5 150.9 L656.9 150.16 L657.3 149.46 L657.7 148.83 L658.1 148.28 L658.5 147.8 L658.9 147.38 L659.3 146.95 L659.7 146.53 L660.1 146.13 L660.5 145.77 L660.9 145.44 L661.3 145.16 L661.7 144.94 L662.1 144.78 L662.5 144.72 L662.9 144.73 L663.3 144.89 L663.7 145.15 L664.1 145.48 L664.5 145.89 L664.9 146.37 L665.3 146.89 L665.7 147.46 L666.1 148.06 L666.5 148.68 L666.9 149.32 L667.3 149.99 L667.7 150.83 L668.1 151.81 L668.5 152.92 L668.9 154.13 L669.3 155.42 L669.7 156.78 L670.1 158.17 L670.5 159.59 L670.9 161.01 L671.3 162.41 L671.7 163.77 L672.1 165.14 L672.5 166.55 L672.9 168 L673.3 169.49 L673.7 170.99 L674.1 172.51 L674.5 174.04 L674.9 175.57 L675.3 177.09 L675.7 178.59 L676.1 180.06 L676.5 181.55 L676.9 183.06 L677.3 184.6 L677.7 186.14 L678.1 187.67 L678.5 189.17 L678.9 190.62 L679.3 192.01 L679.7 193.32 L680.1 194.53 L680.5 195.69 L680.9 196.82 L681.3 197.94 L681.7 199.03 L682.1 200.08 L682.5 201.08 L682.9 202.02 L683.3 202.89 L683.7 203.67 L684.1 204.34 L684.5 204.91 L684.9 205.4 L685.3 205.87 L685.7 206.33 L686.1 206.78 L686.5 207.21 L686.9 207.62 L687.3 208 L687.7 208.35 L688.1 208.66 L688.5 208.94 L688.9 209.17 L689.3 209.35 L689.7 209.49 L690.1 209.57 L690.5 209.58 L690.9 209.58 L691.3 209.54 L691.7 209.48 L692.1 209.4 L692.5 209.3 L692.9 209.2 L693.3 209.08 L693.7 208.96 L694.1 208.81 L694.5 208.6 L694.9 208.34 L695.3 208.02 L695.7 207.67 L696.1 207.29 L696.5 206.91 L696.9 206.53 L697.3 206.17 L697.7 205.86 L698.1 205.56 L698.5 205.27 L698.9 204.97 L699.3 204.68 L699.7 204.39 L700.1 204.11 L700.5 203.85 L700.9 203.6 L701.3 203.37 L701.7 203.16 L702.1 202.98 L702.5 202.82 L702.9 202.66 L703.3 202.51 L703.7 202.36 L704.1 202.21 L704.5 202.08 L704.9 201.96 L705.3 201.86 L705.7 201.78 L706.1 201.73 L706.5 201.71 L706.9 201.71 L707.3 201.79 L707.7 201.91 L708.1 202.07 L708.5 202.27 L708.9 202.49 L709.3 202.75 L709.7 203.02 L710.1 203.3 L710.5 203.59 L710.9 203.88 L711.3 204.19 L711.7 204.56 L712.1 204.98 L712.5 205.45 L712.9 205.95 L713.3 206.47 L713.7 207.02 L714.1 207.56 L714.5 208.1 L714.9 208.62 L715.3 209.13 L715.7 209.63 L716.1 210.14 L716.5 210.66 L716.9 211.18 L717.3 211.7 L717.7 212.22 L718.1 212.74 L718.5 213.24 L718.9 213.73 L719.3 214.21 L719.7 214.67 L720.1 215.13 L720.5 215.58 L720.9 216.03 L721.3 216.47 L721.7 216.9 L722.1 217.32 L722.5 217.73 L722.9 218.12 L723.3 218.5 L723.7 218.86 L724.1 219.2 L724.5 219.53 L724.9 219.86 L725.3 220.19 L725.7 220.51 L726.1 220.82 L726.5 221.12 L726.9 221.4 L727.3 221.66 L727.7 221.9 L728.1 222.11 L728.5 222.29 L728.9 222.45 L729.3 222.6 L729.7 222.75 L730.1 222.89 L730.5 223.02 L730.9 223.15 L731.3 223.26 L731.7 223.35 L732.1 223.42 L732.5 223.47 L732.9 223.49 L733.3 223.49 L733.7 223.46 L734.1 223.38 L734.5 223.28 L734.9 223.16 L735.3 223.02 L735.7 222.87 L736.1 222.71 L736.5 222.55 L736.9 222.4 L737.3 222.26 L737.7 222.14 L738.1 222.01 L738.5 221.89 L738.9 221.76 L739.3 221.63 L739.7 221.5 L740.1 221.37 L740.5 221.24 L740.9 221.11 L741.3 220.99 L741.7 220.86 L742.1 220.74 L742.5 220.6 L742.9 220.46 L743.3 220.31 L743.7 220.16 L744.1 220.02 L744.5 219.88 L744.9 219.76 L745.3 219.66 L745.7 219.57 L746.1 219.52 L746.5 219.49 L746.9 219.46 L747.3 219.44 L747.7 219.42 L748.1 219.41 L748.5 219.4 L748.9 219.4 L749.3 219.44 L749.7 219.54 L750.1 219.67 L750.5 219.83 L750.9 220.01 L751.3 220.2 L751.7 220.38 L752.1 220.57 L752.5 220.79 L752.9 221.03 L753.3 221.3 L753.7 221.57 L754.1 221.86 L754.5 222.15 L754.9 222.43 L755.3 222.71 L755.7 222.98 L756.1 223.26 L756.5 223.54 L756.9 223.82 L757.3 224.11 L757.7 224.4 L758.1 224.7 L758.5 225.01 L758.9 225.33 L759.3 225.66 L759.7 226 L760.1 226.36 L760.5 226.75 L760.9 227.15 L761.3 227.57 L761.7 227.99 L762.1 228.4 L762.5 228.82 L762.9 229.22 L763.3 229.6 L763.7 229.96 L764.1 230.32 L764.5 230.67 L764.9 231.02 L765.3 231.36 L765.7 231.7 L766.1 232.02 L766.5 232.34 L766.9 232.65 L767.3 232.95 L767.7 233.23 L768.1 233.5 L768.5 233.76 L768.9 234.01 L769.3 234.26 L769.7 234.5 L770.1 234.74 L770.5 234.96 L770.9 235.18 L771.3 235.38 L771.7 235.58 L772.1 235.76 L772.5 235.93 L772.9 236.09 L773.3 236.25 L773.7 236.41 L774.1 236.56 L774.5 236.7 L774.9 236.83 L775.3 236.95 L775.7 237.06 L776.1 237.16 L776.5 237.25 L776.9 237.32 L777.3 237.39 L777.7 237.45 L778.1 237.51 L778.5 237.57 L778.9 237.62 L779.3 237.67 L779.7 237.71 L780.1 237.74 L780.5 237.78 L780.9 237.8 L781.3 237.82 L781.7 237.83 L782.1 237.85 L782.5 237.86 L782.9 237.87 L783.3 237.89 L783.7 237.9 L784.1 237.9 L784.5 237.91 L784.9 237.92 L785.3 237.92 L785.7 237.92 L786.1 237.92 L786.5 237.92 L786.9 237.92 L787.3 237.92 L787.7 237.92 L788.1 237.93 L788.5 237.93 L788.9 237.93 L789.3 237.93 L789.7 237.93 L790.1 237.93 L790.5 237.94 L790.9 237.95 L791.3 237.98 L791.7 238.01 L792.1 238.05 L792.5 238.09 L792.9 238.14 L793.3 238.19 L793.7 238.24 L794.1 238.3 L794.5 238.35 L794.9 238.41 L795.3 238.48 L795.7 238.57 L796.1 238.66 L796.5 238.75 L796.9 238.85 L797.3 238.95 L797.7 239.06 L798.1 239.16 L798.5 239.27 L798.9 239.37 L799.3 239.47 L799.7 239.58 L800.1 239.68 L800.5 239.79 L800.9 239.9 L801.3 240.01 L801.7 240.12 L802.1 240.24 L802.5 240.35 L802.9 240.47 L803.3 240.58 L803.7 240.7 L804.1 240.82 L804.5 240.94 L804.9 241.06 L805.3 241.18 L805.7 241.3 L806.1 241.43 L806.5 241.55 L806.9 241.66 L807.3 241.78 L807.7 241.89 L808.1 242 L808.5 242.1 L808.9 242.21 L809.3 242.32 L809.7 242.42 L810.1 242.52 L810.5 242.62 L810.9 242.72 L811.3 242.81 L811.7 242.9 L812.1 242.99 L812.5 243.07 L812.9 243.15 L813.3 243.23 L813.7 243.3 L814.1 243.37 L814.5 243.45 L814.9 243.51 L815.3 243.58 L815.7 243.65 L816.1 243.71 L816.5 243.78 L816.9 243.84 L817.3 243.91 L817.7 243.98 L818.1 244.04 L818.5 244.11 L818.9 244.17 L819.3 244.23 L819.7 244.28 L820.1 244.33 L820.5 244.36 L820.9 244.38 L821.3 244.4 L821.7 244.41 L822.1 244.43 L822.5 244.44 L822.9 244.45 L823.3 244.46 L823.7 244.47 L824.1 244.48 L824.5 244.49 L824.9 244.49 L825.3 244.49 L825.7 244.49 L826.1 244.49 L826.5 244.49 L826.9 244.49 L827.3 244.48 L827.7 244.47 L828.1 244.47 L828.5 244.46 L828.9 244.45 L829.3 244.44 L829.7 244.43 L830.1 244.41 L830.1 249.21 L829.7 249.23 L829.3 249.24 L828.9 249.26 L828.5 249.27 L828.1 249.28 L827.7 249.28 L827.3 249.29 L826.9 249.3 L826.5 249.3 L826.1 249.31 L825.7 249.31 L825.3 249.31 L824.9 249.31 L824.5 249.31 L824.1 249.3 L823.7 249.3 L823.3 249.29 L822.9 249.28 L822.5 249.27 L822.1 249.26 L821.7 249.24 L821.3 249.23 L820.9 249.22 L820.5 249.2 L820.1 249.16 L819.7 249.12 L819.3 249.07 L818.9 249.01 L818.5 248.95 L818.1 248.89 L817.7 248.82 L817.3 248.75 L816.9 248.69 L816.5 248.62 L816.1 248.56 L815.7 248.5 L815.3 248.44 L814.9 248.37 L814.5 248.3 L814.1 248.23 L813.7 248.16 L813.3 248.09 L812.9 248.01 L812.5 247.93 L812.1 247.85 L811.7 247.77 L811.3 247.68 L810.9 247.59 L810.5 247.49 L810.1 247.4 L809.7 247.3 L809.3 247.19 L808.9 247.09 L808.5 246.98 L808.1 246.87 L807.7 246.77 L807.3 246.66 L806.9 246.55 L806.5 246.43 L806.1 246.31 L805.7 246.19 L805.3 246.07 L804.9 245.95 L804.5 245.83 L804.1 245.71 L803.7 245.59 L803.3 245.48 L802.9 245.36 L802.5 245.25 L802.1 245.14 L801.7 245.03 L801.3 244.91 L800.9 244.8 L800.5 244.7 L800.1 244.59 L799.7 244.48 L799.3 244.38 L798.9 244.28 L798.5 244.18 L798.1 244.08 L797.7 243.97 L797.3 243.87 L796.9 243.77 L796.5 243.67 L796.1 243.58 L795.7 243.49 L795.3 243.41 L794.9 243.34 L794.5 243.28 L794.1 243.22 L793.7 243.17 L793.3 243.12 L792.9 243.07 L792.5 243.03 L792.1 242.99 L791.7 242.95 L791.3 242.92 L790.9 242.89 L790.5 242.88 L790.1 242.87 L789.7 242.87 L789.3 242.87 L788.9 242.87 L788.5 242.87 L788.1 242.87 L787.7 242.88 L787.3 242.88 L786.9 242.88 L786.5 242.88 L786.1 242.88 L785.7 242.88 L785.3 242.88 L784.9 242.88 L784.5 242.87 L784.1 242.87 L783.7 242.86 L783.3 242.85 L782.9 242.84 L782.5 242.83 L782.1 242.82 L781.7 242.8 L781.3 242.79 L780.9 242.77 L780.5 242.75 L780.1 242.72 L779.7 242.69 L779.3 242.65 L778.9 242.6 L778.5 242.55 L778.1 242.5 L777.7 242.44 L777.3 242.38 L776.9 242.31 L776.5 242.24 L776.1 242.16 L775.7 242.06 L775.3 241.95 L774.9 241.82 L774.5 241.69 L774.1 241.55 L773.7 241.41 L773.3 241.26 L772.9 241.11 L772.5 240.95 L772.1 240.79 L771.7 240.62 L771.3 240.44 L770.9 240.24 L770.5 240.04 L770.1 239.82 L769.7 239.6 L769.3 239.37 L768.9 239.13 L768.5 238.88 L768.1 238.63 L767.7 238.37 L767.3 238.1 L766.9 237.82 L766.5 237.52 L766.1 237.21 L765.7 236.89 L765.3 236.57 L764.9 236.24 L764.5 235.9 L764.1 235.56 L763.7 235.21 L763.3 234.86 L762.9 234.48 L762.5 234.09 L762.1 233.69 L761.7 233.28 L761.3 232.87 L760.9 232.47 L760.5 232.08 L760.1 231.7 L759.7 231.34 L759.3 231.01 L758.9 230.69 L758.5 230.39 L758.1 230.09 L757.7 229.8 L757.3 229.52 L756.9 229.24 L756.5 228.97 L756.1 228.7 L755.7 228.43 L755.3 228.16 L754.9 227.9 L754.5 227.62 L754.1 227.34 L753.7 227.07 L753.3 226.8 L752.9 226.55 L752.5 226.32 L752.1 226.11 L751.7 225.93 L751.3 225.75 L750.9 225.57 L750.5 225.4 L750.1 225.25 L749.7 225.13 L749.3 225.04 L748.9 225 L748.5 225 L748.1 225.01 L747.7 225.02 L747.3 225.04 L746.9 225.06 L746.5 225.09 L746.1 225.12 L745.7 225.17 L745.3 225.26 L744.9 225.36 L744.5 225.48 L744.1 225.62 L743.7 225.76 L743.3 225.91 L742.9 226.06 L742.5 226.2 L742.1 226.34 L741.7 226.46 L741.3 226.59 L740.9 226.71 L740.5 226.84 L740.1 226.97 L739.7 227.1 L739.3 227.23 L738.9 227.36 L738.5 227.49 L738.1 227.61 L737.7 227.74 L737.3 227.86 L736.9 228 L736.5 228.15 L736.1 228.31 L735.7 228.47 L735.3 228.62 L734.9 228.76 L734.5 228.88 L734.1 228.98 L733.7 229.06 L733.3 229.09 L732.9 229.09 L732.5 229.07 L732.1 229.02 L731.7 228.95 L731.3 228.86 L730.9 228.75 L730.5 228.64 L730.1 228.51 L729.7 228.38 L729.3 228.24 L728.9 228.1 L728.5 227.95 L728.1 227.78 L727.7 227.58 L727.3 227.35 L726.9 227.1 L726.5 226.83 L726.1 226.54 L725.7 226.24 L725.3 225.93 L724.9 225.61 L724.5 225.29 L724.1 224.97 L723.7 224.64 L723.3 224.29 L722.9 223.92 L722.5 223.54 L722.1 223.14 L721.7 222.73 L721.3 222.31 L720.9 221.88 L720.5 221.44 L720.1 221 L719.7 220.55 L719.3 220.1 L718.9 219.63 L718.5 219.15 L718.1 218.66 L717.7 218.15 L717.3 217.64 L716.9 217.13 L716.5 216.62 L716.1 216.11 L715.7 215.61 L715.3 215.12 L714.9 214.62 L714.5 214.11 L714.1 213.58 L713.7 213.05 L713.3 212.51 L712.9 212 L712.5 211.51 L712.1 211.05 L711.7 210.64 L711.3 210.28 L710.9 209.98 L710.5 209.7 L710.1 209.42 L709.7 209.15 L709.3 208.89 L708.9 208.64 L708.5 208.43 L708.1 208.24 L707.7 208.09 L707.3 207.98 L706.9 207.91 L706.5 207.9 L706.1 207.91 L705.7 207.96 L705.3 208.04 L704.9 208.13 L704.5 208.24 L704.1 208.36 L703.7 208.5 L703.3 208.64 L702.9 208.79 L702.5 208.94 L702.1 209.1 L701.7 209.27 L701.3 209.47 L700.9 209.69 L700.5 209.93 L700.1 210.19 L699.7 210.46 L699.3 210.75 L698.9 211.03 L698.5 211.32 L698.1 211.61 L697.7 211.89 L697.3 212.21 L696.9 212.55 L696.5 212.92 L696.1 213.3 L695.7 213.67 L695.3 214.04 L694.9 214.39 L694.5 214.69 L694.1 214.93 L693.7 215.11 L693.3 215.27 L692.9 215.42 L692.5 215.56 L692.1 215.68 L691.7 215.8 L691.3 215.89 L690.9 215.96 L690.5 216.01 L690.1 216.01 L689.7 215.98 L689.3 215.88 L688.9 215.73 L688.5 215.53 L688.1 215.29 L687.7 215.01 L687.3 214.69 L686.9 214.35 L686.5 213.97 L686.1 213.58 L685.7 213.16 L685.3 212.73 L684.9 212.3 L684.5 211.84 L684.1 211.31 L683.7 210.66 L683.3 209.92 L682.9 209.08 L682.5 208.18 L682.1 207.21 L681.7 206.2 L681.3 205.14 L680.9 204.07 L680.5 202.99 L680.1 201.89 L679.7 200.73 L679.3 199.47 L678.9 198.13 L678.5 196.73 L678.1 195.29 L677.7 193.81 L677.3 192.32 L676.9 190.84 L676.5 189.37 L676.1 187.94 L675.7 186.51 L675.3 185.07 L674.9 183.6 L674.5 182.12 L674.1 180.65 L673.7 179.18 L673.3 177.73 L672.9 176.29 L672.5 174.9 L672.1 173.54 L671.7 172.22 L671.3 170.91 L670.9 169.56 L670.5 168.19 L670.1 166.83 L669.7 165.48 L669.3 164.18 L668.9 162.94 L668.5 161.78 L668.1 160.73 L667.7 159.8 L667.3 159.01 L666.9 158.39 L666.5 157.8 L666.1 157.24 L665.7 156.69 L665.3 156.17 L664.9 155.7 L664.5 155.28 L664.1 154.92 L663.7 154.64 L663.3 154.43 L662.9 154.32 L662.5 154.31 L662.1 154.34 L661.7 154.48 L661.3 154.68 L660.9 154.94 L660.5 155.25 L660.1 155.6 L659.7 155.98 L659.3 156.38 L658.9 156.79 L658.5 157.19 L658.1 157.65 L657.7 158.18 L657.3 158.79 L656.9 159.47 L656.5 160.2 L656.1 160.97 L655.7 161.77 L655.3 162.59 L654.9 163.43 L654.5 164.26 L654.1 165.09 L653.7 165.94 L653.3 166.85 L652.9 167.81 L652.5 168.8 L652.1 169.81 L651.7 170.82 L651.3 171.83 L650.9 172.81 L650.5 173.76 L650.1 174.65 L649.7 175.48 L649.3 176.28 L648.9 177.1 L648.5 177.92 L648.1 178.72 L647.7 179.51 L647.3 180.25 L646.9 180.95 L646.5 181.58 L646.1 182.14 L645.7 182.6 L645.3 182.97 L644.9 183.29 L644.5 183.59 L644.1 183.88 L643.7 184.15 L643.3 184.39 L642.9 184.59 L642.5 184.74 L642.1 184.85 L641.7 184.89 L641.3 184.87 L640.9 184.76 L640.5 184.56 L640.1 184.29 L639.7 183.95 L639.3 183.55 L638.9 183.1 L638.5 182.6 L638.1 182.08 L637.7 181.53 L637.3 180.96 L636.9 180.38 L636.5 179.8 L636.1 179.15 L635.7 178.37 L635.3 177.47 L634.9 176.48 L634.5 175.43 L634.1 174.32 L633.7 173.19 L633.3 172.05 L632.9 170.92 L632.5 169.84 L632.1 168.8 L631.7 167.77 L631.3 166.68 L630.9 165.55 L630.5 164.41 L630.1 163.29 L629.7 162.23 L629.3 161.24 L628.9 160.31 L628.5 159.45 L628.1 158.68 L627.7 158.01 L627.3 157.42 L626.9 156.84 L626.5 156.29 L626.1 155.77 L625.7 155.28 L625.3 154.82 L624.9 154.4 L624.5 154.02 L624.1 153.69 L623.7 153.41 L623.3 153.17 L622.9 152.97 L622.5 152.77 L622.1 152.61 L621.7 152.51 L621.3 152.47 L620.9 152.58 L620.5 152.81 L620.1 153.18 L619.7 153.62 L619.3 154.13 L618.9 154.77 L618.5 155.71 L618.1 156.92 L617.7 158.34 L617.3 159.92 L616.9 161.69 L616.5 164 L616.1 166.69 L615.7 169.49 L615.3 172.12 L614.9 174.35 L614.5 176.41 L614.1 178.54 L613.7 180.71 L613.3 182.71 L612.9 184.82 L612.5 186.59 L612.1 187.92 L611.7 188.46 L611.3 188.02 L610.9 185.85 L610.5 182.47 L610.1 178.95 L609.7 175.88 L609.3 173.11 L608.9 170.14 L608.5 167.16 L608.1 164.29 L607.7 161.55 L607.3 158.88 L606.9 156.1 L606.5 153.08 L606.1 149.66 L605.7 145.79 L605.3 141.51 L604.9 137.01 L604.5 132.31 L604.1 127.32 L603.7 122.07 L603.3 116.74 L602.9 111.5 L602.5 106.13 L602.1 100.72 L601.7 95.38 L601.3 90.19 L600.9 85.26 L600.5 80.69 L600.1 76.57 L599.7 73 L599.3 69.99 L598.9 67.36 L598.5 64.96 L598.1 62.6 L597.7 60.23 L597.3 57.98 L596.9 55.76 L596.5 53.49 L596.1 51 L595.7 48.27 L595.3 45.63 L594.9 43.44 L594.5 41.75 L594.1 40.1 L593.7 38.57 L593.3 37.28 L592.9 36.36 L592.5 35.92 L592.1 36.08 L591.7 36.8 L591.3 37.94 L590.9 39.38 L590.5 40.98 L590.1 42.61 L589.7 44.34 L589.3 46.53 L588.9 48.94 L588.5 51.31 L588.1 53.38 L587.7 55.2 L587.3 56.92 L586.9 58.64 L586.5 60.47 L586.1 62.36 L585.7 64.29 L585.3 66.26 L584.9 68.28 L584.5 70.34 L584.1 72.46 L583.7 74.66 L583.3 76.97 L582.9 79.37 L582.5 81.81 L582.1 84.27 L581.7 86.72 L581.3 89.12 L580.9 91.44 L580.5 93.66 L580.1 95.83 L579.7 97.96 L579.3 100.05 L578.9 102.13 L578.5 104.2 L578.1 106.29 L577.7 108.4 L577.3 110.54 L576.9 112.71 L576.5 114.88 L576.1 117.07 L575.7 119.27 L575.3 121.47 L574.9 123.68 L574.5 125.89 L574.1 128.12 L573.7 130.4 L573.3 132.72 L572.9 135.06 L572.5 137.38 L572.1 139.67 L571.7 141.88 L571.3 144 L570.9 146 L570.5 147.9 L570.1 149.73 L569.7 151.5 L569.3 153.22 L568.9 154.89 L568.5 156.51 L568.1 158.09 L567.7 159.62 L567.3 161.12 L566.9 162.57 L566.5 163.99 L566.1 165.37 L565.7 166.72 L565.3 168.05 L564.9 169.34 L564.5 170.62 L564.1 171.88 L563.7 173.12 L563.3 174.37 L562.9 175.61 L562.5 176.84 L562.1 178.07 L561.7 179.27 L561.3 180.46 L560.9 181.62 L560.5 182.75 L560.1 183.84 L559.7 184.89 L559.3 185.89 L558.9 186.84 L558.5 187.75 L558.1 188.62 L557.7 189.48 L557.3 190.31 L556.9 191.13 L556.5 191.92 L556.1 192.7 L555.7 193.45 L555.3 194.19 L554.9 194.92 L554.5 195.62 L554.1 196.31 L553.7 196.98 L553.3 197.64 L552.9 198.28 L552.5 198.91 L552.1 199.52 L551.7 200.12 L551.3 200.7 L550.9 201.27 L550.5 201.82 L550.1 202.35 L549.7 202.87 L549.3 203.38 L548.9 203.88 L548.5 204.36 L548.1 204.83 L547.7 205.3 L547.3 205.76 L546.9 206.21 L546.5 206.66 L546.1 207.11 L545.7 207.55 L545.3 208 L544.9 208.45 L544.5 208.89 L544.1 209.34 L543.7 209.78 L543.3 210.22 L542.9 210.66 L542.5 211.09 L542.1 211.51 L541.7 211.93 L541.3 212.34 L540.9 212.75 L540.5 213.15 L540.1 213.53 L539.7 213.91 L539.3 214.27 L538.9 214.63 L538.5 214.97 L538.1 215.31 L537.7 215.65 L537.3 215.98 L536.9 216.31 L536.5 216.64 L536.1 216.96 L535.7 217.29 L535.3 217.61 L534.9 217.92 L534.5 218.23 L534.1 218.54 L533.7 218.84 L533.3 219.14 L532.9 219.43 L532.5 219.72 L532.1 220 L531.7 220.28 L531.3 220.56 L530.9 220.82 L530.5 221.08 L530.1 221.34 L529.7 221.59 L529.3 221.83 L528.9 222.07 L528.5 222.3 L528.1 222.52 L527.7 222.74 L527.3 222.95 L526.9 223.15 L526.5 223.35 L526.1 223.54 L525.7 223.73 L525.3 223.92 L524.9 224.11 L524.5 224.29 L524.1 224.47 L523.7 224.65 L523.3 224.83 L522.9 225 L522.5 225.17 L522.1 225.33 L521.7 225.49 L521.3 225.64 L520.9 225.79 L520.5 225.94 L520.1 226.08 L519.7 226.21 L519.3 226.34 L518.9 226.46 L518.5 226.58 L518.1 226.69 L517.7 226.79 L517.3 226.89 L516.9 226.98 L516.5 227.06 L516.1 227.14 L515.7 227.22 L515.3 227.3 L514.9 227.37 L514.5 227.45 L514.1 227.52 L513.7 227.58 L513.3 227.65 L512.9 227.71 L512.5 227.78 L512.1 227.84 L511.7 227.89 L511.3 227.95 L510.9 228.01 L510.5 228.06 L510.1 228.11 L509.7 228.16 L509.3 228.21 L508.9 228.26 L508.5 228.31 L508.1 228.35 L507.7 228.4 L507.3 228.44 L506.9 228.48 L506.5 228.52 L506.1 228.56 L505.7 228.6 L505.3 228.64 L504.9 228.67 L504.5 228.71 L504.1 228.74 L503.7 228.77 L503.3 228.8 L502.9 228.83 L502.5 228.86 L502.1 228.88 L501.7 228.91 L501.3 228.93 L500.9 228.96 L500.5 228.98 L500.1 229.01 L499.7 229.03 L499.3 229.05 L498.9 229.08 L498.5 229.1 L498.1 229.13 L497.7 229.15 L497.3 229.18 L496.9 229.2 L496.5 229.23 L496.1 229.25 L495.7 229.28 L495.3 229.31 L494.9 229.34 L494.5 229.38 L494.1 229.41 L493.7 229.44 L493.3 229.48 L492.9 229.52 L492.5 229.56 L492.1 229.6 L491.7 229.65 L491.3 229.69 L490.9 229.74 L490.5 229.79 L490.1 229.84 L489.7 229.89 L489.3 229.95 L488.9 230 L488.5 230.06 L488.1 230.12 L487.7 230.18 L487.3 230.24 L486.9 230.3 L486.5 230.36 L486.1 230.43 L485.7 230.49 L485.3 230.56 L484.9 230.62 L484.5 230.69 L484.1 230.76 L483.7 230.83 L483.3 230.9 L482.9 230.97 L482.5 231.04 L482.1 231.11 L481.7 231.18 L481.3 231.25 L480.9 231.33 L480.5 231.4 L480.1 231.47 L479.7 231.55 L479.3 231.63 L478.9 231.71 L478.5 231.79 L478.1 231.88 L477.7 231.96 L477.3 232.05 L476.9 232.14 L476.5 232.23 L476.1 232.32 L475.7 232.42 L475.3 232.51 L474.9 232.6 L474.5 232.7 L474.1 232.8 L473.7 232.89 L473.3 232.99 L472.9 233.09 L472.5 233.19 L472.1 233.29 L471.7 233.39 L471.3 233.48 L470.9 233.58 L470.5 233.68 L470.1 233.78 L469.7 233.87 L469.3 233.97 L468.9 234.07 L468.5 234.16 L468.1 234.25 L467.7 234.35 L467.3 234.44 L466.9 234.53 L466.5 234.62 L466.1 234.71 L465.7 234.8 L465.3 234.88 L464.9 234.97 L464.5 235.06 L464.1 235.15 L463.7 235.24 L463.3 235.32 L462.9 235.41 L462.5 235.5 L462.1 235.59 L461.7 235.68 L461.3 235.76 L460.9 235.85 L460.5 235.94 L460.1 236.04 L459.7 236.13 L459.3 236.22 L458.9 236.32 L458.5 236.41 L458.1 236.51 L457.7 236.61 L457.3 236.7 L456.9 236.81 L456.5 236.91 L456.1 237.01 L455.7 237.12 L455.3 237.23 L454.9 237.34 L454.5 237.45 L454.1 237.56 L453.7 237.68 L453.3 237.8 L452.9 237.91 L452.5 238.04 L452.1 238.16 L451.7 238.28 L451.3 238.41 L450.9 238.53 L450.5 238.66 L450.1 238.79 L449.7 238.92 L449.3 239.06 L448.9 239.19 L448.5 239.33 L448.1 239.46 L447.7 239.6 L447.3 239.74 L446.9 239.88 L446.5 240.02 L446.1 240.17 L445.7 240.31 L445.3 240.45 L444.9 240.6Z" fill="#ffc0cb"/>
<g stroke="#000080" stroke-width="1.45" fill="none"><line x1="447.71" x2="447.71" y1="237.7" y2="258.6"/><line x1="460.18" x2="460.18" y1="195.8" y2="258.6"/><line x1="469.03" x2="469.03" y1="219.3" y2="258.6"/><line x1="475.89" x2="475.89" y1="186.3" y2="256.6"/><line x1="481.49" x2="481.49" y1="222.2" y2="248.4"/><line x1="486.23" x2="486.23" y1="191.3" y2="237.1"/><line x1="490.34" x2="490.34" y1="221.2" y2="244.4"/><line x1="493.96" x2="493.96" y1="219.5" y2="244.6"/><line x1="497.2" x2="497.2" y1="213" y2="238.6"/><line x1="500.13" x2="500.13" y1="206.1" y2="234"/><line x1="502.81" x2="502.81" y1="218.5" y2="238.3"/><line x1="505.27" x2="505.27" y1="220" y2="239.6"/><line x1="507.55" x2="507.55" y1="216.5" y2="232.7"/><line x1="509.67" x2="509.67" y1="206.4" y2="226.5"/><line x1="511.65" x2="511.65" y1="221" y2="239.6"/><line x1="513.52" x2="513.52" y1="202.3" y2="224"/><line x1="515.27" x2="515.27" y1="219.5" y2="235.8"/><line x1="516.94" x2="516.94" y1="211.1" y2="231"/><line x1="518.51" x2="518.51" y1="220.5" y2="239.3"/><line x1="520.01" x2="520.01" y1="222" y2="239.3"/><line x1="521.44" x2="521.44" y1="221" y2="239.3"/><line x1="522.81" x2="522.81" y1="222" y2="235.2"/><line x1="524.12" x2="524.12" y1="216" y2="235"/><line x1="525.37" x2="525.37" y1="220" y2="232.6"/><line x1="526.58" x2="526.58" y1="218.5" y2="232.4"/><line x1="527.74" x2="527.74" y1="211" y2="226"/><line x1="528.86" x2="528.86" y1="197.1" y2="216"/><line x1="529.94" x2="529.94" y1="213.5" y2="227.5"/><line x1="530.98" x2="530.98" y1="218" y2="228.6"/><line x1="531.99" x2="531.99" y1="205.4" y2="220.5"/><line x1="532.96" x2="532.96" y1="212" y2="224"/><line x1="594.1" x2="594.1" y1="11.6" y2="15.3"/></g><g fill="#000080"><circle cx="447.71" cy="243.6" r="2.4"/><circle cx="460.18" cy="213.4" r="2.4"/><circle cx="469.03" cy="229.3" r="2.4"/><circle cx="475.89" cy="202.1" r="2.4"/><circle cx="481.49" cy="230.8" r="2.4"/><circle cx="486.23" cy="207.4" r="2.4"/><circle cx="490.34" cy="229.3" r="2.4"/><circle cx="493.96" cy="229.5" r="2.4"/><circle cx="497.2" cy="223.3" r="2.4"/><circle cx="500.13" cy="216.8" r="2.4"/><circle cx="502.81" cy="227" r="2.4"/><circle cx="505.27" cy="228" r="2.4"/><circle cx="507.55" cy="224.5" r="2.4"/><circle cx="509.67" cy="215.2" r="2.4"/><circle cx="511.65" cy="228.9" r="2.4"/><circle cx="513.52" cy="212.2" r="2.4"/><circle cx="515.27" cy="227" r="2.4"/><circle cx="516.94" cy="219" r="2.4"/><circle cx="518.51" cy="228" r="2.4"/><circle cx="520.01" cy="230.2" r="2.4"/><circle cx="521.44" cy="229" r="2.4"/><circle cx="522.81" cy="228" r="2.4"/><circle cx="524.12" cy="224" r="2.4"/><circle cx="525.37" cy="226.5" r="2.4"/><circle cx="526.58" cy="224" r="2.4"/><circle cx="527.74" cy="218" r="2.4"/><circle cx="528.86" cy="206.1" r="2.4"/><circle cx="529.94" cy="220" r="2.4"/><circle cx="530.98" cy="223.3" r="2.4"/><circle cx="531.99" cy="212.2" r="2.4"/><circle cx="532.96" cy="218" r="2.4"/><circle cx="544.4" cy="196.9" r="2.4"/><circle cx="560.1" cy="170.9" r="2.4"/><circle cx="570.1" cy="128.1" r="2.4"/><circle cx="577.7" cy="91.5" r="2.4"/><circle cx="583.3" cy="50.5" r="2.4"/><circle cx="588.4" cy="22.6" r="2.4"/><circle cx="594" cy="15.3" r="2.4"/><circle cx="596.5" cy="47.1" r="2.4"/><circle cx="600" cy="82.3" r="2.4"/><circle cx="603.2" cy="124.4" r="2.4"/><circle cx="606.3" cy="160.1" r="2.4"/><circle cx="608.8" cy="178.3" r="2.4"/><circle cx="611.7" cy="185.1" r="2.4"/><circle cx="613.8" cy="174.8" r="2.4"/><circle cx="616.3" cy="162.2" r="2.4"/><circle cx="619.2" cy="150.2" r="2.4"/><circle cx="623.59" cy="151.6" r="2.4"/><circle cx="627.97" cy="154.9" r="2.4"/><circle cx="632.36" cy="166.5" r="2.4"/><circle cx="636.74" cy="177.5" r="2.4"/><circle cx="641.12" cy="180.5" r="2.4"/><circle cx="645.51" cy="179.3" r="2.4"/><circle cx="649.89" cy="173.5" r="2.4"/><circle cx="654.28" cy="161.9" r="2.4"/><circle cx="658.66" cy="156.7" r="2.4"/><circle cx="663.05" cy="152.4" r="2.4"/><circle cx="667.43" cy="157.5" r="2.4"/><circle cx="671.82" cy="170.3" r="2.4"/><circle cx="676.2" cy="185" r="2.4"/><circle cx="680.59" cy="199.1" r="2.4"/><circle cx="684.98" cy="209.3" r="2.4"/><circle cx="689.36" cy="213.1" r="2.4"/><circle cx="693.75" cy="212.7" r="2.4"/><circle cx="698.13" cy="208.8" r="2.4"/><circle cx="702.52" cy="206.8" r="2.4"/><circle cx="706.9" cy="205.3" r="2.4"/><circle cx="711.29" cy="207.8" r="2.4"/><circle cx="715.67" cy="212.4" r="2.4"/><circle cx="720.06" cy="217.8" r="2.4"/><circle cx="724.44" cy="222.5" r="2.4"/><circle cx="728.83" cy="225.4" r="2.4"/><circle cx="733.21" cy="227" r="2.4"/><circle cx="737.6" cy="224.8" r="2.4"/><circle cx="741.98" cy="224.6" r="2.4"/><circle cx="746.37" cy="222.2" r="2.4"/><circle cx="750.75" cy="223.7" r="2.4"/><circle cx="755.13" cy="225.6" r="2.4"/><circle cx="759.52" cy="228.5" r="2.4"/><circle cx="763.9" cy="232.9" r="2.4"/><circle cx="768.29" cy="236.3" r="2.4"/><circle cx="772.67" cy="238.6" r="2.4"/><circle cx="777.06" cy="240" r="2.4"/><circle cx="781.44" cy="240.4" r="2.4"/><circle cx="785.83" cy="240.5" r="2.4"/><circle cx="790.21" cy="240.5" r="2.4"/><circle cx="794.6" cy="240.8" r="2.4"/><circle cx="798.99" cy="241.9" r="2.4"/><circle cx="803.37" cy="243.2" r="2.4"/><circle cx="807.75" cy="244.5" r="2.4"/><circle cx="812.14" cy="245.6" r="2.4"/><circle cx="816.53" cy="246.3" r="2.4"/><circle cx="820.91" cy="247.1" r="2.4"/><circle cx="825.3" cy="246.9" r="2.4"/><circle cx="829.68" cy="246.7" r="2.4"/></g>
<path d="M447.8 218.9 L448.2 218.97 L448.6 219.05 L449 219.13 L449.4 219.2 L449.8 219.28 L450.2 219.35 L450.6 219.43 L451 219.5 L451.4 219.58 L451.8 219.66 L452.2 219.73 L452.6 219.81 L453 219.89 L453.4 219.96 L453.8 220.04 L454.2 220.12 L454.6 220.2 L455 220.27 L455.4 220.35 L455.8 220.43 L456.2 220.51 L456.6 220.59 L457 220.67 L457.4 220.74 L457.8 220.82 L458.2 220.9 L458.6 220.98 L459 221.06 L459.4 221.14 L459.8 221.22 L460.2 221.3 L460.6 221.38 L461 221.46 L461.4 221.54 L461.8 221.62 L462.2 221.7 L462.6 221.78 L463 221.87 L463.4 221.95 L463.8 222.03 L464.2 222.12 L464.6 222.2 L465 222.29 L465.4 222.37 L465.8 222.46 L466.2 222.54 L466.6 222.63 L467 222.71 L467.4 222.8 L467.8 222.89 L468.2 222.97 L468.6 223.06 L469 223.14 L469.4 223.23 L469.8 223.31 L470.2 223.4 L470.6 223.48 L471 223.56 L471.4 223.64 L471.8 223.73 L472.2 223.81 L472.6 223.89 L473 223.97 L473.4 224.05 L473.8 224.12 L474.2 224.2 L474.6 224.28 L475 224.35 L475.4 224.43 L475.8 224.51 L476.2 224.59 L476.6 224.67 L477 224.75 L477.4 224.83 L477.8 224.91 L478.2 224.99 L478.6 225.07 L479 225.15 L479.4 225.23 L479.8 225.31 L480.2 225.39 L480.6 225.46 L481 225.54 L481.4 225.61 L481.8 225.69 L482.2 225.76 L482.6 225.82 L483 225.89 L483.4 225.96 L483.8 226.02 L484.2 226.08 L484.6 226.14 L485 226.19 L485.4 226.24 L485.8 226.29 L486.2 226.34 L486.6 226.38 L487 226.42 L487.4 226.46 L487.8 226.5 L488.2 226.54 L488.6 226.58 L489 226.61 L489.4 226.65 L489.8 226.69 L490.2 226.73 L490.6 226.77 L491 226.8 L491.4 226.84 L491.8 226.88 L492.2 226.91 L492.6 226.95 L493 226.98 L493.4 227.01 L493.8 227.04 L494.2 227.08 L494.6 227.11 L495 227.13 L495.4 227.16 L495.8 227.19 L496.2 227.21 L496.6 227.24 L497 227.26 L497.4 227.28 L497.8 227.3 L498.2 227.32 L498.6 227.34 L499 227.35 L499.4 227.36 L499.8 227.37 L500.2 227.38 L500.6 227.39 L501 227.4 L501.4 227.4 L501.8 227.4 L502.2 227.4 L502.6 227.39 L503 227.38 L503.4 227.37 L503.8 227.36 L504.2 227.34 L504.6 227.32 L505 227.29 L505.4 227.27 L505.8 227.24 L506.2 227.21 L506.6 227.17 L507 227.14 L507.4 227.1 L507.8 227.06 L508.2 227.02 L508.6 226.97 L509 226.93 L509.4 226.88 L509.8 226.83 L510.2 226.78 L510.6 226.73 L511 226.68 L511.4 226.63 L511.8 226.58 L512.2 226.52 L512.6 226.47 L513 226.41 L513.4 226.36 L513.8 226.3 L514.2 226.24 L514.6 226.18 L515 226.11 L515.4 226.04 L515.8 225.96 L516.2 225.87 L516.6 225.78 L517 225.69 L517.4 225.6 L517.8 225.49 L518.2 225.39 L518.6 225.28 L519 225.17 L519.4 225.05 L519.8 224.93 L520.2 224.81 L520.6 224.68 L521 224.55 L521.4 224.42 L521.8 224.28 L522.2 224.14 L522.6 224 L523 223.86 L523.4 223.71 L523.8 223.56 L524.2 223.41 L524.6 223.26 L525 223.1 L525.4 222.93 L525.8 222.75 L526.2 222.55 L526.6 222.35 L527 222.14 L527.4 221.93 L527.8 221.7 L528.2 221.47 L528.6 221.23 L529 220.99 L529.4 220.74 L529.8 220.49 L530.2 220.24 L530.6 219.98 L531 219.72 L531.4 219.46 L531.8 219.2 L532.2 218.93 L532.6 218.66 L533 218.38 L533.4 218.1 L533.8 217.81 L534.2 217.51 L534.6 217.21 L535 216.9 L535.4 216.58 L535.8 216.26 L536.2 215.94 L536.6 215.61 L537 215.27 L537.4 214.94 L537.8 214.59 L538.2 214.24 L538.6 213.89 L539 213.53 L539.4 213.16 L539.8 212.79 L540.2 212.4 L540.6 212.01 L541 211.61 L541.4 211.21 L541.8 210.8 L542.2 210.38 L542.6 209.96 L543 209.53 L543.4 209.1 L543.8 208.66 L544.2 208.22 L544.6 207.78 L545 207.33 L545.4 206.89 L545.8 206.44 L546.2 206 L546.6 205.55 L547 205.1 L547.4 204.64 L547.8 204.18 L548.2 203.71 L548.6 203.24 L549 202.75 L549.4 202.26 L549.8 201.75 L550.2 201.22 L550.6 200.68 L551 200.13 L551.4 199.56 L551.8 198.97 L552.2 198.37 L552.6 197.75 L553 197.12 L553.4 196.47 L553.8 195.81 L554.2 195.14 L554.6 194.45 L555 193.74 L555.4 193.01 L555.8 192.27 L556.2 191.5 L556.6 190.72 L557 189.92 L557.4 189.1 L557.8 188.26 L558.2 187.4 L558.6 186.52 L559 185.61 L559.4 184.65 L559.8 183.63 L560.2 182.57 L560.6 181.47 L561 180.34 L561.4 179.17 L561.8 177.98 L562.2 176.77 L562.6 175.54 L563 174.3 L563.4 173.06 L563.8 171.81 L564.2 170.57 L564.6 169.31 L565 168.04 L565.4 166.74 L565.8 165.41 L566.2 164.03 L566.6 162.62 L567 161.14 L567.4 159.61 L567.8 158.01 L568.2 156.34 L568.6 154.6 L569 152.8 L569.4 150.94 L569.8 149.01 L570.2 147.02 L570.6 144.95 L571 142.76 L571.4 140.44 L571.8 138.03 L572.2 135.57 L572.6 133.09 L573 130.62 L573.4 128.19 L573.8 125.82 L574.2 123.46 L574.6 121.1 L575 118.74 L575.4 116.39 L575.8 114.05 L576.2 111.73 L576.6 109.43 L577 107.17 L577.4 104.96 L577.8 102.77 L578.2 100.58 L578.6 98.36 L579 96.11 L579.4 93.79 L579.8 91.39 L580.2 88.96 L580.6 86.49 L581 83.98 L581.4 81.39 L581.8 78.71 L582.2 75.92 L582.6 73 L583 69.78 L583.4 66.24 L583.8 62.59 L584.2 59.02 L584.6 55.75 L585 52.87 L585.4 50.19 L585.8 47.67 L586.2 45.22 L586.6 42.79 L587 40.35 L587.4 38.01 L587.8 35.9 L588.2 34.01 L588.6 32.24 L589 30.57 L589.4 28.99 L589.8 27.49 L590.2 26.04 L590.6 24.61 L591 23.23 L591.4 22 L591.8 21 L592.2 20.16 L592.6 19.5 L593 19.15 L593.4 18.93 L593.8 18.96 L594.2 19.34 L594.6 19.98 L595 21.16 L595.4 22.41 L595.8 23.66 L596.2 25.09 L596.6 26.91 L597 29.56 L597.4 32.74 L597.8 35.9 L598.2 38.9 L598.6 41.91 L599 44.83 L599.4 47.53 L599.8 50.38 L600.2 53.86 L600.6 58.37 L601 63.61 L601.4 69.07 L601.8 74.27 L602.2 79.4 L602.6 84.54 L603 89.57 L603.4 94.36 L603.8 98.9 L604.2 103.35 L604.6 107.85 L605 112.57 L605.4 117.48 L605.8 122.35 L606.2 126.93 L606.6 131.14 L607 135.2 L607.4 139.04 L607.8 142.59 L608.2 145.76 L608.6 148.63 L609 151.22 L609.4 153.5 L609.8 155.62 L610.2 157.4 L610.6 158.47 L611 159.18 L611.4 159.19 L611.8 158.48 L612.2 157.25 L612.6 154.75 L613 152 L613.4 149.59 L613.8 147.2 L614.2 144.7 L614.6 142 L615 139.03 L615.4 135.82 L615.8 132.43 L616.2 128.9 L616.6 125.02 L617 120.54 L617.4 116.04 L617.8 112.14 L618.2 109.44 L618.6 107.5 L619 106.07 L619.4 105.13 L619.8 104.42 L620.2 103.85 L620.6 103.36 L621 102.91 L621.4 102.52 L621.8 102.17 L622.2 101.87 L622.6 101.6 L623 101.32 L623.4 101.07 L623.8 100.86 L624.2 100.73 L624.6 100.7 L625 100.8 L625.4 101 L625.8 101.28 L626.2 101.6 L626.6 101.95 L627 102.3 L627.4 102.66 L627.8 103.07 L628.2 103.53 L628.6 104.06 L629 104.66 L629.4 105.4 L629.8 106.29 L630.2 107.27 L630.6 108.33 L631 109.41 L631.4 110.48 L631.8 111.5 L632.2 112.5 L632.6 113.55 L633 114.62 L633.4 115.7 L633.8 116.79 L634.2 117.88 L634.6 118.95 L635 119.98 L635.4 120.98 L635.8 121.93 L636.2 122.81 L636.6 123.63 L637 124.37 L637.4 125.14 L637.8 125.92 L638.2 126.7 L638.6 127.46 L639 128.16 L639.4 128.8 L639.8 129.34 L640.2 129.77 L640.6 130.06 L641 130.19 L641.4 130.17 L641.8 130.04 L642.2 129.82 L642.6 129.51 L643 129.13 L643.4 128.68 L643.8 128.19 L644.2 127.64 L644.6 127.06 L645 126.46 L645.4 125.84 L645.8 125.04 L646.2 124.02 L646.6 122.82 L647 121.48 L647.4 120.02 L647.8 118.47 L648.2 116.88 L648.6 115.27 L649 113.67 L649.4 112.11 L649.8 110.5 L650.2 108.8 L650.6 107.04 L651 105.23 L651.4 103.4 L651.8 101.57 L652.2 99.77 L652.6 98 L653 96.25 L653.4 94.47 L653.8 92.68 L654.2 90.89 L654.6 89.11 L655 87.35 L655.4 85.62 L655.8 83.94 L656.2 82.31 L656.6 80.75 L657 79.25 L657.4 77.72 L657.8 76.18 L658.2 74.67 L658.6 73.21 L659 71.85 L659.4 70.61 L659.8 69.55 L660.2 68.68 L660.6 67.98 L661 67.29 L661.4 66.64 L661.8 66.04 L662.2 65.53 L662.6 65.12 L663 64.84 L663.4 64.71 L663.8 64.75 L664.2 64.94 L664.6 65.27 L665 65.71 L665.4 66.24 L665.8 66.84 L666.2 67.49 L666.6 68.16 L667 68.87 L667.4 69.78 L667.8 70.88 L668.2 72.15 L668.6 73.53 L669 75.01 L669.4 76.54 L669.8 78.09 L670.2 79.62 L670.6 81.14 L671 82.73 L671.4 84.37 L671.8 86.08 L672.2 87.83 L672.6 89.62 L673 91.44 L673.4 93.29 L673.8 95.17 L674.2 97.05 L674.6 98.95 L675 100.9 L675.4 102.89 L675.8 104.93 L676.2 106.99 L676.6 109.07 L677 111.17 L677.4 113.28 L677.8 115.38 L678.2 117.48 L678.6 119.59 L679 121.79 L679.4 124.04 L679.8 126.3 L680.2 128.54 L680.6 130.7 L681 132.76 L681.4 134.68 L681.8 136.42 L682.2 138.12 L682.6 139.81 L683 141.46 L683.4 143.06 L683.8 144.57 L684.2 145.96 L684.6 147.2 L685 148.28 L685.4 149.15 L685.8 149.82 L686.2 150.45 L686.6 151.06 L687 151.63 L687.4 152.16 L687.8 152.62 L688.2 153 L688.6 153.3 L689 153.51 L689.4 153.6 L689.8 153.56 L690.2 153.41 L690.6 153.15 L691 152.8 L691.4 152.37 L691.8 151.87 L692.2 151.33 L692.6 150.76 L693 150.17 L693.4 149.58 L693.8 149 L694.2 148.38 L694.6 147.68 L695 146.9 L695.4 146.06 L695.8 145.17 L696.2 144.23 L696.6 143.25 L697 142.26 L697.4 141.25 L697.8 140.25 L698.2 139.25 L698.6 138.28 L699 137.33 L699.4 136.43 L699.8 135.57 L700.2 134.68 L700.6 133.77 L701 132.84 L701.4 131.91 L701.8 131 L702.2 130.11 L702.6 129.27 L703 128.49 L703.4 127.77 L703.8 127.15 L704.2 126.62 L704.6 126.16 L705 125.71 L705.4 125.27 L705.8 124.85 L706.2 124.47 L706.6 124.13 L707 123.86 L707.4 123.65 L707.8 123.53 L708.2 123.5 L708.6 123.57 L709 123.73 L709.4 123.96 L709.8 124.26 L710.2 124.62 L710.6 125.02 L711 125.45 L711.4 125.92 L711.8 126.39 L712.2 126.88 L712.6 127.4 L713 128.04 L713.4 128.79 L713.8 129.63 L714.2 130.56 L714.6 131.54 L715 132.58 L715.4 133.66 L715.8 134.75 L716.2 135.85 L716.6 136.94 L717 138 L717.4 139.03 L717.8 140 L718.2 140.95 L718.6 141.91 L719 142.88 L719.4 143.86 L719.8 144.84 L720.2 145.82 L720.6 146.79 L721 147.76 L721.4 148.71 L721.8 149.65 L722.2 150.57 L722.6 151.47 L723 152.35 L723.4 153.19 L723.8 154 L724.2 154.8 L724.6 155.62 L725 156.43 L725.4 157.23 L725.8 158 L726.2 158.73 L726.6 159.41 L727 160.02 L727.4 160.56 L727.8 161 L728.2 161.4 L728.6 161.79 L729 162.17 L729.4 162.52 L729.8 162.82 L730.2 163.06 L730.6 163.22 L731 163.3 L731.4 163.28 L731.8 163.19 L732.2 163.04 L732.6 162.84 L733 162.6 L733.4 162.32 L733.8 162.01 L734.2 161.69 L734.6 161.36 L735 161.02 L735.4 160.6 L735.8 160.1 L736.2 159.53 L736.6 158.89 L737 158.21 L737.4 157.48 L737.8 156.73 L738.2 155.96 L738.6 155.17 L739 154.39 L739.4 153.63 L739.8 152.88 L740.2 152.17 L740.6 151.48 L741 150.75 L741.4 149.99 L741.8 149.22 L742.2 148.43 L742.6 147.64 L743 146.87 L743.4 146.11 L743.8 145.38 L744.2 144.69 L744.6 144.05 L745 143.46 L745.4 142.94 L745.8 142.5 L746.2 142.1 L746.6 141.69 L747 141.29 L747.4 140.9 L747.8 140.53 L748.2 140.19 L748.6 139.89 L749 139.63 L749.4 139.43 L749.8 139.29 L750.2 139.21 L750.6 139.21 L751 139.29 L751.4 139.45 L751.8 139.66 L752.2 139.93 L752.6 140.24 L753 140.58 L753.4 140.95 L753.8 141.33 L754.2 141.71 L754.6 142.1 L755 142.58 L755.4 143.11 L755.8 143.71 L756.2 144.35 L756.6 145.04 L757 145.75 L757.4 146.49 L757.8 147.24 L758.2 148 L758.6 148.78 L759 149.62 L759.4 150.5 L759.8 151.42 L760.2 152.37 L760.6 153.35 L761 154.36 L761.4 155.38 L761.8 156.4 L762.2 157.44 L762.6 158.47 L763 159.5 L763.4 160.51 L763.8 161.5 L764.2 162.49 L764.6 163.5 L765 164.53 L765.4 165.56 L765.8 166.6 L766.2 167.65 L766.6 168.69 L767 169.73 L767.4 170.75 L767.8 171.77 L768.2 172.77 L768.6 173.74 L769 174.69 L769.4 175.61 L769.8 176.5 L770.2 177.39 L770.6 178.3 L771 179.21 L771.4 180.12 L771.8 180.99 L772.2 181.83 L772.6 182.6 L773 183.3 L773.4 183.9 L773.8 184.4 L774.2 184.8 L774.6 185.2 L775 185.58 L775.4 185.95 L775.8 186.29 L776.2 186.6 L776.6 186.88 L777 187.11 L777.4 187.29 L777.8 187.42 L778.2 187.49 L778.6 187.5 L779 187.46 L779.4 187.39 L779.8 187.29 L780.2 187.16 L780.6 187.02 L781 186.85 L781.4 186.67 L781.8 186.49 L782.2 186.29 L782.6 186.1 L783 185.9 L783.4 185.65 L783.8 185.35 L784.2 185.01 L784.6 184.63 L785 184.23 L785.4 183.81 L785.8 183.38 L786.2 182.94 L786.6 182.51 L787 182.08 L787.4 181.68 L787.8 181.3 L788.2 180.95 L788.6 180.64 L789 180.37 L789.4 180.1 L789.8 179.82 L790.2 179.54 L790.6 179.26 L791 178.99 L791.4 178.72 L791.8 178.47 L792.2 178.23 L792.6 178.01 L793 177.8 L793.4 177.62 L793.8 177.47 L794.2 177.35 L794.6 177.26 L795 177.21 L795.4 177.2 L795.8 177.23 L796.2 177.3 L796.6 177.41 L797 177.55 L797.4 177.71 L797.8 177.91 L798.2 178.12 L798.6 178.36 L799 178.61 L799.4 178.87 L799.8 179.15 L800.2 179.43 L800.6 179.71 L801 180 L801.4 180.31 L801.8 180.68 L802.2 181.1 L802.6 181.56 L803 182.06 L803.4 182.59 L803.8 183.14 L804.2 183.72 L804.6 184.3 L805 184.9 L805.4 185.49 L805.8 186.08 L806.2 186.66 L806.6 187.23 L807 187.77 L807.4 188.33 L807.8 188.9 L808.2 189.48 L808.6 190.07 L809 190.67 L809.4 191.26 L809.8 191.86 L810.2 192.45 L810.6 193.03 L811 193.61 L811.4 194.17 L811.8 194.72 L812.2 195.25 L812.6 195.76 L813 196.24 L813.4 196.74 L813.8 197.23 L814.2 197.73 L814.6 198.22 L815 198.69 L815.4 199.14 L815.8 199.56 L816.2 199.95 L816.6 200.3 L817 200.61 L817.4 200.86 L817.8 201.1 L818.2 201.34 L818.6 201.57 L819 201.78 L819.4 201.98 L819.8 202.14 L820.2 202.27 L820.6 202.36 L821 202.4 L821.4 202.39 L821.8 202.37 L822.2 202.32 L822.6 202.26 L823 202.19 L823.4 202.1 L823.8 202.01 L824.2 201.9 L824.6 201.79 L825 201.68 L825.4 201.57 L825.8 201.44 L826.2 201.3 L826.6 201.13 L827 200.95 L827.4 200.74 L827.8 200.53 L828.2 200.29 L828.6 200.05 L829 199.79 L829.4 199.52 L829.8 199.24 L830.2 198.95 L830.4 198.8" fill="none" stroke="#ff0000" stroke-width="1.4" stroke-linejoin="round"/>
<path d="M448.3 214.3 L448.7 214.36 L449.1 214.42 L449.5 214.49 L449.9 214.55 L450.3 214.62 L450.7 214.68 L451.1 214.75 L451.5 214.81 L451.9 214.88 L452.3 214.95 L452.7 215.02 L453.1 215.09 L453.5 215.15 L453.9 215.22 L454.3 215.29 L454.7 215.36 L455.1 215.44 L455.5 215.51 L455.9 215.58 L456.3 215.65 L456.7 215.73 L457.1 215.8 L457.5 215.87 L457.9 215.95 L458.3 216.02 L458.7 216.1 L459.1 216.18 L459.5 216.25 L459.9 216.33 L460.3 216.41 L460.7 216.48 L461.1 216.56 L461.5 216.64 L461.9 216.72 L462.3 216.8 L462.7 216.88 L463.1 216.97 L463.5 217.05 L463.9 217.13 L464.3 217.22 L464.7 217.31 L465.1 217.4 L465.5 217.49 L465.9 217.58 L466.3 217.67 L466.7 217.76 L467.1 217.85 L467.5 217.94 L467.9 218.04 L468.3 218.13 L468.7 218.22 L469.1 218.32 L469.5 218.41 L469.9 218.5 L470.3 218.59 L470.7 218.69 L471.1 218.78 L471.5 218.87 L471.9 218.96 L472.3 219.05 L472.7 219.14 L473.1 219.23 L473.5 219.32 L473.9 219.41 L474.3 219.49 L474.7 219.58 L475.1 219.66 L475.5 219.75 L475.9 219.83 L476.3 219.92 L476.7 220.01 L477.1 220.09 L477.5 220.18 L477.9 220.27 L478.3 220.35 L478.7 220.44 L479.1 220.52 L479.5 220.61 L479.9 220.7 L480.3 220.78 L480.7 220.86 L481.1 220.95 L481.5 221.03 L481.9 221.11 L482.3 221.19 L482.7 221.27 L483.1 221.35 L483.5 221.43 L483.9 221.5 L484.3 221.58 L484.7 221.65 L485.1 221.72 L485.5 221.79 L485.9 221.86 L486.3 221.92 L486.7 221.98 L487.1 222.05 L487.5 222.11 L487.9 222.17 L488.3 222.23 L488.7 222.29 L489.1 222.35 L489.5 222.41 L489.9 222.47 L490.3 222.52 L490.7 222.58 L491.1 222.64 L491.5 222.69 L491.9 222.75 L492.3 222.8 L492.7 222.85 L493.1 222.9 L493.5 222.96 L493.9 223 L494.3 223.05 L494.7 223.1 L495.1 223.15 L495.5 223.19 L495.9 223.23 L496.3 223.28 L496.7 223.32 L497.1 223.35 L497.5 223.39 L497.9 223.43 L498.3 223.46 L498.7 223.49 L499.1 223.52 L499.5 223.56 L499.9 223.59 L500.3 223.62 L500.7 223.65 L501.1 223.67 L501.5 223.69 L501.9 223.7 L502.3 223.7 L502.7 223.7 L503.1 223.69 L503.5 223.68 L503.9 223.67 L504.3 223.66 L504.7 223.64 L505.1 223.63 L505.5 223.61 L505.9 223.58 L506.3 223.56 L506.7 223.53 L507.1 223.5 L507.5 223.47 L507.9 223.44 L508.3 223.41 L508.7 223.37 L509.1 223.33 L509.5 223.29 L509.9 223.25 L510.3 223.21 L510.7 223.17 L511.1 223.13 L511.5 223.08 L511.9 223.03 L512.3 222.99 L512.7 222.94 L513.1 222.89 L513.5 222.84 L513.9 222.79 L514.3 222.73 L514.7 222.66 L515.1 222.58 L515.5 222.5 L515.9 222.4 L516.3 222.3 L516.7 222.19 L517.1 222.07 L517.5 221.95 L517.9 221.81 L518.3 221.68 L518.7 221.53 L519.1 221.38 L519.5 221.23 L519.9 221.07 L520.3 220.91 L520.7 220.74 L521.1 220.56 L521.5 220.39 L521.9 220.21 L522.3 220.03 L522.7 219.85 L523.1 219.66 L523.5 219.47 L523.9 219.28 L524.3 219.09 L524.7 218.9 L525.1 218.7 L525.5 218.49 L525.9 218.27 L526.3 218.04 L526.7 217.8 L527.1 217.55 L527.5 217.3 L527.9 217.03 L528.3 216.76 L528.7 216.48 L529.1 216.2 L529.5 215.91 L529.9 215.61 L530.3 215.31 L530.7 215 L531.1 214.69 L531.5 214.37 L531.9 214.05 L532.3 213.72 L532.7 213.4 L533.1 213.07 L533.5 212.73 L533.9 212.4 L534.3 212.06 L534.7 211.73 L535.1 211.39 L535.5 211.05 L535.9 210.71 L536.3 210.37 L536.7 210.04 L537.1 209.7 L537.5 209.36 L537.9 209.03 L538.3 208.69 L538.7 208.35 L539.1 208.01 L539.5 207.66 L539.9 207.32 L540.3 206.97 L540.7 206.62 L541.1 206.26 L541.5 205.9 L541.9 205.54 L542.3 205.18 L542.7 204.81 L543.1 204.43 L543.5 204.05 L543.9 203.67 L544.3 203.28 L544.7 202.88 L545.1 202.48 L545.5 202.07 L545.9 201.66 L546.3 201.24 L546.7 200.81 L547.1 200.37 L547.5 199.93 L547.9 199.48 L548.3 199.02 L548.7 198.56 L549.1 198.08 L549.5 197.6 L549.9 197.1 L550.3 196.6 L550.7 196.09 L551.1 195.57 L551.5 195.04 L551.9 194.49 L552.3 193.93 L552.7 193.36 L553.1 192.78 L553.5 192.18 L553.9 191.56 L554.3 190.93 L554.7 190.28 L555.1 189.62 L555.5 188.94 L555.9 188.24 L556.3 187.52 L556.7 186.78 L557.1 186.02 L557.5 185.23 L557.9 184.38 L558.3 183.49 L558.7 182.56 L559.1 181.59 L559.5 180.58 L559.9 179.54 L560.3 178.47 L560.7 177.38 L561.1 176.27 L561.5 175.13 L561.9 173.99 L562.3 172.83 L562.7 171.64 L563.1 170.42 L563.5 169.16 L563.9 167.87 L564.3 166.53 L564.7 165.17 L565.1 163.76 L565.5 162.32 L565.9 160.85 L566.3 159.33 L566.7 157.77 L567.1 156.17 L567.5 154.51 L567.9 152.8 L568.3 151.04 L568.7 149.23 L569.1 147.37 L569.5 145.45 L569.9 143.46 L570.3 141.35 L570.7 139.15 L571.1 136.88 L571.5 134.56 L571.9 132.22 L572.3 129.89 L572.7 127.57 L573.1 125.28 L573.5 122.97 L573.9 120.65 L574.3 118.32 L574.7 115.98 L575.1 113.65 L575.5 111.34 L575.9 109.04 L576.3 106.77 L576.7 104.54 L577.1 102.33 L577.5 100.12 L577.9 97.9 L578.3 95.65 L578.7 93.35 L579.1 90.99 L579.5 88.6 L579.9 86.19 L580.3 83.75 L580.7 81.26 L581.1 78.68 L581.5 75.99 L581.9 73.18 L582.3 70.09 L582.7 66.69 L583.1 63.16 L583.5 59.69 L583.9 56.46 L584.3 53.63 L584.7 51.05 L585.1 48.62 L585.5 46.28 L585.9 43.98 L586.3 41.66 L586.7 39.36 L587.1 37.17 L587.5 35.17 L587.9 33.28 L588.3 31.47 L588.7 29.75 L589.1 28.12 L589.5 26.59 L589.9 25.12 L590.3 23.72 L590.7 22.44 L591.1 21.34 L591.5 20.32 L591.9 19.47 L592.3 18.99 L592.7 18.65 L593.1 18.46 L593.5 18.5 L593.9 18.76 L594.3 19.19 L594.7 20.41 L595.1 22.09 L595.5 23.64 L595.9 25.38 L596.3 27.61 L596.7 30.58 L597.1 33.85 L597.5 36.95 L597.9 39.93 L598.3 42.94 L598.7 45.93 L599.1 48.86 L599.5 52.03 L599.9 55.75 L600.3 60.46 L600.7 65.86 L601.1 71.4 L601.5 76.71 L601.9 82.09 L602.3 87.47 L602.7 92.79 L603.1 98.05 L603.5 103.27 L603.9 108.48 L604.3 113.76 L604.7 119.07 L605.1 124.19 L605.5 128.9 L605.9 133.38 L606.3 137.65 L606.7 141.66 L607.1 145.35 L607.5 148.71 L607.9 151.8 L608.3 154.76 L608.7 157.71 L609.1 160.8 L609.5 164.3 L609.9 167.75 L610.3 170.5 L610.7 172.38 L611.1 173.87 L611.5 174.25 L611.9 173.24 L612.3 171.48 L612.7 169.01 L613.1 165.13 L613.5 160.84 L613.9 157.16 L614.3 153.84 L614.7 150.6 L615.1 147.56 L615.5 144.81 L615.9 142.44 L616.3 140.26 L616.7 138.22 L617.1 136.41 L617.5 134.9 L617.9 133.74 L618.3 132.76 L618.7 131.86 L619.1 131.07 L619.5 130.41 L619.9 129.88 L620.3 129.5 L620.7 129.21 L621.1 128.94 L621.5 128.7 L621.9 128.49 L622.3 128.34 L622.7 128.24 L623.1 128.2 L623.5 128.27 L623.9 128.45 L624.3 128.74 L624.7 129.11 L625.1 129.54 L625.5 130.01 L625.9 130.5 L626.3 131 L626.7 131.56 L627.1 132.23 L627.5 133.01 L627.9 133.87 L628.3 134.8 L628.7 135.77 L629.1 136.78 L629.5 137.8 L629.9 138.82 L630.3 139.81 L630.7 140.77 L631.1 141.7 L631.5 142.67 L631.9 143.68 L632.3 144.71 L632.7 145.76 L633.1 146.8 L633.5 147.84 L633.9 148.86 L634.3 149.85 L634.7 150.81 L635.1 151.71 L635.5 152.55 L635.9 153.31 L636.3 154 L636.7 154.65 L637.1 155.32 L637.5 155.98 L637.9 156.65 L638.3 157.3 L638.7 157.93 L639.1 158.52 L639.5 159.07 L639.9 159.57 L640.3 160.01 L640.7 160.38 L641.1 160.68 L641.5 160.88 L641.9 160.99 L642.3 160.99 L642.7 160.89 L643.1 160.7 L643.5 160.43 L643.9 160.08 L644.3 159.67 L644.7 159.21 L645.1 158.7 L645.5 158.16 L645.9 157.59 L646.3 157 L646.7 156.28 L647.1 155.32 L647.5 154.18 L647.9 152.89 L648.3 151.49 L648.7 150.02 L649.1 148.53 L649.5 147.07 L649.9 145.65 L650.3 144.17 L650.7 142.6 L651.1 140.99 L651.5 139.38 L651.9 137.82 L652.3 136.35 L652.7 134.97 L653.1 133.59 L653.5 132.22 L653.9 130.88 L654.3 129.57 L654.7 128.31 L655.1 127.12 L655.5 125.99 L655.9 124.95 L656.3 124 L656.7 123.11 L657.1 122.22 L657.5 121.37 L657.9 120.56 L658.3 119.81 L658.7 119.13 L659.1 118.55 L659.5 118.07 L659.9 117.72 L660.3 117.41 L660.7 117.12 L661.1 116.85 L661.5 116.61 L661.9 116.42 L662.3 116.28 L662.7 116.21 L663.1 116.21 L663.5 116.3 L663.9 116.48 L664.3 116.72 L664.7 117.01 L665.1 117.35 L665.5 117.71 L665.9 118.1 L666.3 118.63 L666.7 119.34 L667.1 120.18 L667.5 121.14 L667.9 122.17 L668.3 123.26 L668.7 124.37 L669.1 125.46 L669.5 126.53 L669.9 127.59 L670.3 128.68 L670.7 129.81 L671.1 131 L671.5 132.28 L671.9 133.67 L672.3 135.19 L672.7 136.87 L673.1 138.86 L673.5 141.1 L673.9 143.56 L674.3 146.17 L674.7 148.88 L675.1 151.63 L675.5 154.45 L675.9 157.72 L676.3 161.22 L676.7 164.64 L677.1 167.67 L677.5 170 L677.9 171.79 L678.3 173.44 L678.7 174.96 L679.1 176.35 L679.5 177.64 L679.9 178.82 L680.3 179.92 L680.7 180.95 L681.1 181.92 L681.5 182.84 L681.9 183.72 L682.3 184.58 L682.7 185.42 L683.1 186.23 L683.5 187.01 L683.9 187.74 L684.3 188.44 L684.7 189.08 L685.1 189.66 L685.5 190.18 L685.9 190.63 L686.3 191 L686.7 191.33 L687.1 191.66 L687.5 191.98 L687.9 192.28 L688.3 192.55 L688.7 192.8 L689.1 193.01 L689.5 193.18 L689.9 193.31 L690.3 193.38 L690.7 193.4 L691.1 193.34 L691.5 193.2 L691.9 193 L692.3 192.74 L692.7 192.44 L693.1 192.1 L693.5 191.74 L693.9 191.36 L694.3 190.97 L694.7 190.59 L695.1 190.2 L695.5 189.74 L695.9 189.22 L696.3 188.66 L696.7 188.05 L697.1 187.43 L697.5 186.78 L697.9 186.14 L698.3 185.5 L698.7 184.88 L699.1 184.28 L699.5 183.72 L699.9 183.14 L700.3 182.53 L700.7 181.92 L701.1 181.31 L701.5 180.71 L701.9 180.14 L702.3 179.59 L702.7 179.09 L703.1 178.64 L703.5 178.25 L703.9 177.93 L704.3 177.62 L704.7 177.33 L705.1 177.04 L705.5 176.77 L705.9 176.53 L706.3 176.32 L706.7 176.16 L707.1 176.05 L707.5 176 L707.9 176.01 L708.3 176.08 L708.7 176.18 L709.1 176.33 L709.5 176.51 L709.9 176.72 L710.3 176.95 L710.7 177.2 L711.1 177.46 L711.5 177.75 L711.9 178.15 L712.3 178.67 L712.7 179.27 L713.1 179.93 L713.5 180.64 L713.9 181.38 L714.3 182.11 L714.7 182.83 L715.1 183.53 L715.5 184.27 L715.9 185.04 L716.3 185.84 L716.7 186.64 L717.1 187.45 L717.5 188.26 L717.9 189.05 L718.3 189.81 L718.7 190.56 L719.1 191.31 L719.5 192.06 L719.9 192.81 L720.3 193.56 L720.7 194.3 L721.1 195.03 L721.5 195.75 L721.9 196.46 L722.3 197.14 L722.7 197.81 L723.1 198.45 L723.5 199.06 L723.9 199.64 L724.3 200.22 L724.7 200.8 L725.1 201.36 L725.5 201.92 L725.9 202.46 L726.3 202.97 L726.7 203.46 L727.1 203.91 L727.5 204.32 L727.9 204.69 L728.3 205 L728.7 205.29 L729.1 205.58 L729.5 205.86 L729.9 206.13 L730.3 206.38 L730.7 206.59 L731.1 206.77 L731.5 206.9 L731.9 206.98 L732.3 207 L732.7 206.97 L733.1 206.9 L733.5 206.79 L733.9 206.66 L734.3 206.5 L734.7 206.32 L735.1 206.13 L735.5 205.92 L735.9 205.71 L736.3 205.5 L736.7 205.26 L737.1 204.95 L737.5 204.6 L737.9 204.2 L738.3 203.77 L738.7 203.32 L739.1 202.86 L739.5 202.4 L739.9 201.93 L740.3 201.49 L740.7 201.07 L741.1 200.68 L741.5 200.33 L741.9 199.97 L742.3 199.62 L742.7 199.26 L743.1 198.91 L743.5 198.57 L743.9 198.24 L744.3 197.92 L744.7 197.63 L745.1 197.35 L745.5 197.1 L745.9 196.89 L746.3 196.7 L746.7 196.53 L747.1 196.36 L747.5 196.2 L747.9 196.05 L748.3 195.91 L748.7 195.79 L749.1 195.69 L749.5 195.63 L749.9 195.6 L750.3 195.61 L750.7 195.67 L751.1 195.76 L751.5 195.89 L751.9 196.04 L752.3 196.22 L752.7 196.41 L753.1 196.62 L753.5 196.84 L753.9 197.06 L754.3 197.32 L754.7 197.65 L755.1 198.02 L755.5 198.44 L755.9 198.89 L756.3 199.38 L756.7 199.88 L757.1 200.41 L757.5 200.94 L757.9 201.47 L758.3 202 L758.7 202.54 L759.1 203.12 L759.5 203.72 L759.9 204.35 L760.3 205 L760.7 205.67 L761.1 206.34 L761.5 207.02 L761.9 207.7 L762.3 208.37 L762.7 209.03 L763.1 209.68 L763.5 210.32 L763.9 210.96 L764.3 211.6 L764.7 212.25 L765.1 212.91 L765.5 213.56 L765.9 214.21 L766.3 214.85 L766.7 215.48 L767.1 216.1 L767.5 216.7 L767.9 217.28 L768.3 217.84 L768.7 218.37 L769.1 218.89 L769.5 219.4 L769.9 219.92 L770.3 220.43 L770.7 220.93 L771.1 221.41 L771.5 221.88 L771.9 222.33 L772.3 222.74 L772.7 223.13 L773.1 223.48 L773.5 223.79 L773.9 224.06 L774.3 224.32 L774.7 224.58 L775.1 224.84 L775.5 225.08 L775.9 225.31 L776.3 225.52 L776.7 225.71 L777.1 225.86 L777.5 225.98 L777.9 226.06 L778.3 226.1 L778.7 226.1 L779.1 226.08 L779.5 226.05 L779.9 226 L780.3 225.95 L780.7 225.89 L781.1 225.83 L781.5 225.75 L781.9 225.68 L782.3 225.6 L782.7 225.52 L783.1 225.43 L783.5 225.32 L783.9 225.19 L784.3 225.05 L784.7 224.88 L785.1 224.71 L785.5 224.53 L785.9 224.35 L786.3 224.16 L786.7 223.98 L787.1 223.8 L787.5 223.63 L787.9 223.48 L788.3 223.34 L788.7 223.23 L789.1 223.12 L789.5 223.02 L789.9 222.91 L790.3 222.81 L790.7 222.71 L791.1 222.61 L791.5 222.53 L791.9 222.45 L792.3 222.39 L792.7 222.34 L793.1 222.31 L793.5 222.3 L793.9 222.31 L794.3 222.34 L794.7 222.38 L795.1 222.43 L795.5 222.5 L795.9 222.58 L796.3 222.67 L796.7 222.77 L797.1 222.87 L797.5 222.98 L797.9 223.09 L798.3 223.2 L798.7 223.33 L799.1 223.48 L799.5 223.65 L799.9 223.85 L800.3 224.07 L800.7 224.3 L801.1 224.54 L801.5 224.8 L801.9 225.06 L802.3 225.32 L802.7 225.59 L803.1 225.85 L803.5 226.11 L803.9 226.36 L804.3 226.62 L804.7 226.89 L805.1 227.16 L805.5 227.45 L805.9 227.73 L806.3 228.02 L806.7 228.32 L807.1 228.61 L807.5 228.9 L807.9 229.19 L808.3 229.48 L808.7 229.76 L809.1 230.04 L809.5 230.31 L809.9 230.56 L810.3 230.82 L810.7 231.08 L811.1 231.34 L811.5 231.61 L811.9 231.87 L812.3 232.12 L812.7 232.37 L813.1 232.62 L813.5 232.86 L813.9 233.09 L814.3 233.31 L814.7 233.51 L815.1 233.7 L815.5 233.88 L815.9 234.04 L816.3 234.2 L816.7 234.36 L817.1 234.51 L817.5 234.67 L817.9 234.83 L818.3 234.98 L818.7 235.13 L819.1 235.27 L819.5 235.4 L819.9 235.53 L820.3 235.64 L820.7 235.74 L821.1 235.82 L821.5 235.89 L821.9 235.95 L822.3 235.98 L822.7 236 L823.1 236 L823.5 235.98 L823.9 235.96 L824.3 235.93 L824.7 235.89 L825.1 235.84 L825.5 235.8 L825.9 235.75 L826.3 235.7 L826.7 235.65 L827.1 235.58 L827.5 235.51 L827.9 235.43 L828.3 235.35 L828.7 235.26 L829.1 235.16 L829.5 235.05 L829.9 234.94 L830.3 234.83 L830.4 234.8" fill="none" stroke="#00ff00" stroke-width="1.4" stroke-linejoin="round"/>
<path d="M448.3 211.65 L448.7 211.72 L449.1 211.78 L449.5 211.85 L449.9 211.91 L450.3 211.98 L450.7 212.05 L451.1 212.12 L451.5 212.19 L451.9 212.26 L452.3 212.33 L452.7 212.4 L453.1 212.47 L453.5 212.54 L453.9 212.61 L454.3 212.69 L454.7 212.76 L455.1 212.84 L455.5 212.91 L455.9 212.99 L456.3 213.06 L456.7 213.14 L457.1 213.21 L457.5 213.29 L457.9 213.37 L458.3 213.45 L458.7 213.53 L459.1 213.6 L459.5 213.68 L459.9 213.76 L460.3 213.84 L460.7 213.93 L461.1 214.01 L461.5 214.09 L461.9 214.17 L462.3 214.25 L462.7 214.34 L463.1 214.42 L463.5 214.51 L463.9 214.6 L464.3 214.69 L464.7 214.78 L465.1 214.87 L465.5 214.96 L465.9 215.05 L466.3 215.14 L466.7 215.24 L467.1 215.33 L467.5 215.42 L467.9 215.52 L468.3 215.61 L468.7 215.71 L469.1 215.8 L469.5 215.9 L469.9 216 L470.3 216.09 L470.7 216.19 L471.1 216.28 L471.5 216.38 L471.9 216.47 L472.3 216.57 L472.7 216.66 L473.1 216.76 L473.5 216.85 L473.9 216.94 L474.3 217.04 L474.7 217.13 L475.1 217.22 L475.5 217.31 L475.9 217.4 L476.3 217.5 L476.7 217.59 L477.1 217.69 L477.5 217.79 L477.9 217.88 L478.3 217.98 L478.7 218.08 L479.1 218.17 L479.5 218.27 L479.9 218.37 L480.3 218.46 L480.7 218.56 L481.1 218.65 L481.5 218.75 L481.9 218.84 L482.3 218.93 L482.7 219.02 L483.1 219.11 L483.5 219.2 L483.9 219.28 L484.3 219.37 L484.7 219.45 L485.1 219.53 L485.5 219.61 L485.9 219.69 L486.3 219.76 L486.7 219.83 L487.1 219.9 L487.5 219.97 L487.9 220.04 L488.3 220.11 L488.7 220.18 L489.1 220.25 L489.5 220.32 L489.9 220.39 L490.3 220.46 L490.7 220.53 L491.1 220.6 L491.5 220.66 L491.9 220.73 L492.3 220.79 L492.7 220.85 L493.1 220.91 L493.5 220.97 L493.9 221.03 L494.3 221.09 L494.7 221.14 L495.1 221.19 L495.5 221.24 L495.9 221.29 L496.3 221.33 L496.7 221.38 L497.1 221.42 L497.5 221.45 L497.9 221.49 L498.3 221.52 L498.7 221.54 L499.1 221.57 L499.5 221.59 L499.9 221.62 L500.3 221.64 L500.7 221.66 L501.1 221.69 L501.5 221.7 L501.9 221.72 L502.3 221.73 L502.7 221.74 L503.1 221.75 L503.5 221.75 L503.9 221.75 L504.3 221.74 L504.7 221.73 L505.1 221.71 L505.5 221.7 L505.9 221.67 L506.3 221.65 L506.7 221.62 L507.1 221.59 L507.5 221.56 L507.9 221.52 L508.3 221.48 L508.7 221.44 L509.1 221.4 L509.5 221.35 L509.9 221.3 L510.3 221.25 L510.7 221.2 L511.1 221.15 L511.5 221.09 L511.9 221.03 L512.3 220.98 L512.7 220.92 L513.1 220.86 L513.5 220.8 L513.9 220.73 L514.3 220.66 L514.7 220.59 L515.1 220.5 L515.5 220.4 L515.9 220.29 L516.3 220.17 L516.7 220.05 L517.1 219.92 L517.5 219.78 L517.9 219.63 L518.3 219.48 L518.7 219.32 L519.1 219.15 L519.5 218.98 L519.9 218.81 L520.3 218.63 L520.7 218.44 L521.1 218.25 L521.5 218.06 L521.9 217.87 L522.3 217.67 L522.7 217.47 L523.1 217.27 L523.5 217.06 L523.9 216.86 L524.3 216.65 L524.7 216.45 L525.1 216.23 L525.5 216 L525.9 215.77 L526.3 215.52 L526.7 215.27 L527.1 215 L527.5 214.73 L527.9 214.45 L528.3 214.17 L528.7 213.87 L529.1 213.57 L529.5 213.27 L529.9 212.96 L530.3 212.64 L530.7 212.32 L531.1 211.99 L531.5 211.67 L531.9 211.33 L532.3 211 L532.7 210.66 L533.1 210.31 L533.5 209.97 L533.9 209.62 L534.3 209.28 L534.7 208.93 L535.1 208.58 L535.5 208.23 L535.9 207.89 L536.3 207.54 L536.7 207.19 L537.1 206.85 L537.5 206.51 L537.9 206.16 L538.3 205.82 L538.7 205.47 L539.1 205.12 L539.5 204.77 L539.9 204.42 L540.3 204.06 L540.7 203.71 L541.1 203.35 L541.5 202.98 L541.9 202.62 L542.3 202.25 L542.7 201.88 L543.1 201.5 L543.5 201.12 L543.9 200.73 L544.3 200.34 L544.7 199.95 L545.1 199.55 L545.5 199.15 L545.9 198.74 L546.3 198.32 L546.7 197.9 L547.1 197.47 L547.5 197.04 L547.9 196.6 L548.3 196.15 L548.7 195.7 L549.1 195.23 L549.5 194.77 L549.9 194.29 L550.3 193.81 L550.7 193.33 L551.1 192.83 L551.5 192.32 L551.9 191.8 L552.3 191.27 L552.7 190.72 L553.1 190.16 L553.5 189.58 L553.9 188.99 L554.3 188.38 L554.7 187.74 L555.1 187.09 L555.5 186.41 L555.9 185.71 L556.3 184.97 L556.7 184.19 L557.1 183.38 L557.5 182.52 L557.9 181.64 L558.3 180.72 L558.7 179.77 L559.1 178.8 L559.5 177.79 L559.9 176.77 L560.3 175.71 L560.7 174.64 L561.1 173.55 L561.5 172.43 L561.9 171.26 L562.3 170.03 L562.7 168.75 L563.1 167.43 L563.5 166.07 L563.9 164.67 L564.3 163.24 L564.7 161.79 L565.1 160.32 L565.5 158.82 L565.9 157.29 L566.3 155.73 L566.7 154.13 L567.1 152.48 L567.5 150.79 L567.9 149.06 L568.3 147.28 L568.7 145.44 L569.1 143.54 L569.5 141.54 L569.9 139.47 L570.3 137.33 L570.7 135.14 L571.1 132.92 L571.5 130.68 L571.9 128.45 L572.3 126.22 L572.7 123.97 L573.1 121.68 L573.5 119.37 L573.9 117.04 L574.3 114.72 L574.7 112.4 L575.1 110.09 L575.5 107.82 L575.9 105.57 L576.3 103.35 L576.7 101.13 L577.1 98.91 L577.5 96.67 L577.9 94.4 L578.3 92.09 L578.7 89.73 L579.1 87.38 L579.5 85.02 L579.9 82.63 L580.3 80.17 L580.7 77.63 L581.1 74.97 L581.5 72.17 L581.9 69.04 L582.3 65.67 L582.7 62.22 L583.1 58.89 L583.5 55.83 L583.9 53.16 L584.3 50.71 L584.7 48.4 L585.1 46.17 L585.5 43.96 L585.9 41.72 L586.3 39.51 L586.7 37.37 L587.1 35.36 L587.5 33.42 L587.9 31.53 L588.3 29.72 L588.7 28.02 L589.1 26.44 L589.5 24.96 L589.9 23.56 L590.3 22.31 L590.7 21.24 L591.1 20.24 L591.5 19.39 L591.9 18.83 L592.3 18.46 L592.7 18.2 L593.1 18.14 L593.5 18.32 L593.9 18.7 L594.3 19.37 L594.7 20.88 L595.1 22.55 L595.5 24.46 L595.9 26.7 L596.3 29.55 L596.7 32.81 L597.1 36.01 L597.5 39 L597.9 41.98 L598.3 45.03 L598.7 48.01 L599.1 51.15 L599.5 54.75 L599.9 59.21 L600.3 64.46 L600.7 70 L601.1 75.42 L601.5 80.9 L601.9 86.49 L602.3 92.14 L602.7 97.94 L603.1 103.78 L603.5 109.49 L603.9 115.12 L604.3 120.66 L604.7 125.89 L605.1 130.79 L605.5 135.53 L605.9 139.98 L606.3 143.99 L606.7 147.47 L607.1 150.52 L607.5 153.34 L607.9 156.1 L608.3 159.01 L608.7 162.17 L609.1 165.47 L609.5 168.88 L609.9 172.75 L610.3 176.44 L610.7 179.04 L611.1 181.06 L611.5 182 L611.9 181.37 L612.3 179.87 L612.7 177.98 L613.1 174.86 L613.5 170.84 L613.9 166.87 L614.3 163.44 L614.7 159.96 L615.1 156.65 L615.5 153.75 L615.9 151.5 L616.3 149.59 L616.7 147.88 L617.1 146.41 L617.5 145.21 L617.9 144.3 L618.3 143.53 L618.7 142.84 L619.1 142.25 L619.5 141.77 L619.9 141.42 L620.3 141.2 L620.7 141 L621.1 140.83 L621.5 140.69 L621.9 140.58 L622.3 140.52 L622.7 140.5 L623.1 140.59 L623.5 140.76 L623.9 141.01 L624.3 141.32 L624.7 141.66 L625.1 142.02 L625.5 142.39 L625.9 142.85 L626.3 143.4 L626.7 144.02 L627.1 144.71 L627.5 145.44 L627.9 146.21 L628.3 147 L628.7 147.8 L629.1 148.62 L629.5 149.53 L629.9 150.5 L630.3 151.52 L630.7 152.59 L631.1 153.69 L631.5 154.81 L631.9 155.94 L632.3 157.06 L632.7 158.16 L633.1 159.24 L633.5 160.26 L633.9 161.24 L634.3 162.22 L634.7 163.21 L635.1 164.22 L635.5 165.21 L635.9 166.19 L636.3 167.14 L636.7 168.04 L637.1 168.89 L637.5 169.68 L637.9 170.38 L638.3 171 L638.7 171.58 L639.1 172.16 L639.5 172.74 L639.9 173.29 L640.3 173.79 L640.7 174.23 L641.1 174.59 L641.5 174.85 L641.9 174.98 L642.3 174.99 L642.7 174.89 L643.1 174.7 L643.5 174.44 L643.9 174.11 L644.3 173.72 L644.7 173.3 L645.1 172.84 L645.5 172.36 L645.9 171.87 L646.3 171.25 L646.7 170.48 L647.1 169.58 L647.5 168.57 L647.9 167.48 L648.3 166.33 L648.7 165.16 L649.1 163.99 L649.5 162.84 L649.9 161.72 L650.3 160.58 L650.7 159.38 L651.1 158.14 L651.5 156.88 L651.9 155.6 L652.3 154.34 L652.7 153.11 L653.1 151.92 L653.5 150.8 L653.9 149.74 L654.3 148.7 L654.7 147.67 L655.1 146.64 L655.5 145.64 L655.9 144.67 L656.3 143.76 L656.7 142.91 L657.1 142.13 L657.5 141.45 L657.9 140.86 L658.3 140.33 L658.7 139.82 L659.1 139.36 L659.5 138.95 L659.9 138.59 L660.3 138.31 L660.7 138.1 L661.1 137.9 L661.5 137.72 L661.9 137.59 L662.3 137.51 L662.7 137.51 L663.1 137.61 L663.5 137.78 L663.9 138.01 L664.3 138.28 L664.7 138.58 L665.1 139.05 L665.5 139.71 L665.9 140.52 L666.3 141.46 L666.7 142.49 L667.1 143.58 L667.5 144.68 L667.9 145.77 L668.3 146.95 L668.7 148.23 L669.1 149.6 L669.5 151.04 L669.9 152.54 L670.3 154.09 L670.7 155.65 L671.1 157.22 L671.5 158.79 L671.9 160.42 L672.3 162.1 L672.7 163.82 L673.1 165.57 L673.5 167.34 L673.9 169.1 L674.3 170.85 L674.7 172.58 L675.1 174.29 L675.5 176.05 L675.9 177.83 L676.3 179.62 L676.7 181.39 L677.1 183.13 L677.5 184.8 L677.9 186.39 L678.3 187.87 L678.7 189.23 L679.1 190.52 L679.5 191.78 L679.9 192.99 L680.3 194.16 L680.7 195.26 L681.1 196.31 L681.5 197.28 L681.9 198.18 L682.3 199 L682.7 199.77 L683.1 200.52 L683.5 201.25 L683.9 201.94 L684.3 202.59 L684.7 203.19 L685.1 203.74 L685.5 204.23 L685.9 204.65 L686.3 205 L686.7 205.31 L687.1 205.61 L687.5 205.9 L687.9 206.17 L688.3 206.42 L688.7 206.65 L689.1 206.85 L689.5 207 L689.9 207.12 L690.3 207.18 L690.7 207.2 L691.1 207.15 L691.5 207.05 L691.9 206.9 L692.3 206.7 L692.7 206.47 L693.1 206.22 L693.5 205.94 L693.9 205.65 L694.3 205.36 L694.7 205.07 L695.1 204.77 L695.5 204.42 L695.9 204.02 L696.3 203.58 L696.7 203.11 L697.1 202.62 L697.5 202.13 L697.9 201.63 L698.3 201.14 L698.7 200.66 L699.1 200.21 L699.5 199.79 L699.9 199.35 L700.3 198.9 L700.7 198.45 L701.1 198 L701.5 197.56 L701.9 197.14 L702.3 196.74 L702.7 196.37 L703.1 196.05 L703.5 195.77 L703.9 195.55 L704.3 195.34 L704.7 195.13 L705.1 194.94 L705.5 194.77 L705.9 194.62 L706.3 194.5 L706.7 194.43 L707.1 194.4 L707.5 194.43 L707.9 194.51 L708.3 194.63 L708.7 194.79 L709.1 194.98 L709.5 195.2 L709.9 195.44 L710.3 195.68 L710.7 195.94 L711.1 196.21 L711.5 196.55 L711.9 196.94 L712.3 197.39 L712.7 197.88 L713.1 198.41 L713.5 198.95 L713.9 199.52 L714.3 200.09 L714.7 200.66 L715.1 201.23 L715.5 201.78 L715.9 202.35 L716.3 202.95 L716.7 203.56 L717.1 204.2 L717.5 204.84 L717.9 205.5 L718.3 206.15 L718.7 206.8 L719.1 207.44 L719.5 208.08 L719.9 208.69 L720.3 209.29 L720.7 209.86 L721.1 210.41 L721.5 210.96 L721.9 211.5 L722.3 212.03 L722.7 212.56 L723.1 213.08 L723.5 213.59 L723.9 214.09 L724.3 214.58 L724.7 215.06 L725.1 215.52 L725.5 215.96 L725.9 216.39 L726.3 216.8 L726.7 217.2 L727.1 217.61 L727.5 218.01 L727.9 218.39 L728.3 218.76 L728.7 219.09 L729.1 219.39 L729.5 219.64 L729.9 219.85 L730.3 220.03 L730.7 220.21 L731.1 220.38 L731.5 220.53 L731.9 220.66 L732.3 220.75 L732.7 220.79 L733.1 220.8 L733.5 220.77 L733.9 220.71 L734.3 220.63 L734.7 220.53 L735.1 220.41 L735.5 220.28 L735.9 220.14 L736.3 219.99 L736.7 219.84 L737.1 219.67 L737.5 219.46 L737.9 219.2 L738.3 218.91 L738.7 218.59 L739.1 218.26 L739.5 217.92 L739.9 217.58 L740.3 217.24 L740.7 216.93 L741.1 216.63 L741.5 216.37 L741.9 216.1 L742.3 215.82 L742.7 215.54 L743.1 215.27 L743.5 215 L743.9 214.75 L744.3 214.52 L744.7 214.31 L745.1 214.13 L745.5 213.98 L745.9 213.88 L746.3 213.78 L746.7 213.69 L747.1 213.61 L747.5 213.54 L747.9 213.48 L748.3 213.43 L748.7 213.41 L749.1 213.4 L749.5 213.43 L749.9 213.49 L750.3 213.57 L750.7 213.68 L751.1 213.81 L751.5 213.96 L751.9 214.12 L752.3 214.29 L752.7 214.46 L753.1 214.64 L753.5 214.88 L753.9 215.17 L754.3 215.49 L754.7 215.85 L755.1 216.23 L755.5 216.63 L755.9 217.05 L756.3 217.47 L756.7 217.89 L757.1 218.3 L757.5 218.7 L757.9 219.12 L758.3 219.55 L758.7 219.99 L759.1 220.45 L759.5 220.91 L759.9 221.37 L760.3 221.84 L760.7 222.31 L761.1 222.77 L761.5 223.23 L761.9 223.7 L762.3 224.17 L762.7 224.65 L763.1 225.13 L763.5 225.61 L763.9 226.08 L764.3 226.55 L764.7 227.01 L765.1 227.46 L765.5 227.89 L765.9 228.32 L766.3 228.74 L766.7 229.15 L767.1 229.57 L767.5 229.98 L767.9 230.38 L768.3 230.77 L768.7 231.16 L769.1 231.54 L769.5 231.9 L769.9 232.26 L770.3 232.6 L770.7 232.92 L771.1 233.24 L771.5 233.55 L771.9 233.87 L772.3 234.17 L772.7 234.47 L773.1 234.76 L773.5 235.04 L773.9 235.29 L774.3 235.53 L774.7 235.74 L775.1 235.92 L775.5 236.08 L775.9 236.23 L776.3 236.38 L776.7 236.53 L777.1 236.66 L777.5 236.78 L777.9 236.87 L778.3 236.95 L778.7 236.99 L779.1 237 L779.5 236.99 L779.9 236.98 L780.3 236.96 L780.7 236.94 L781.1 236.91 L781.5 236.88 L781.9 236.84 L782.3 236.81 L782.7 236.76 L783.1 236.72 L783.5 236.68 L783.9 236.61 L784.3 236.52 L784.7 236.42 L785.1 236.31 L785.5 236.18 L785.9 236.05 L786.3 235.91 L786.7 235.78 L787.1 235.65 L787.5 235.52 L787.9 235.41 L788.3 235.3 L788.7 235.22 L789.1 235.15 L789.5 235.07 L789.9 235 L790.3 234.93 L790.7 234.86 L791.1 234.79 L791.5 234.72 L791.9 234.67 L792.3 234.62 L792.7 234.57 L793.1 234.54 L793.5 234.51 L793.9 234.5 L794.3 234.5 L794.7 234.51 L795.1 234.53 L795.5 234.56 L795.9 234.6 L796.3 234.64 L796.7 234.69 L797.1 234.74 L797.5 234.8 L797.9 234.86 L798.3 234.92 L798.7 234.98 L799.1 235.05 L799.5 235.13 L799.9 235.23 L800.3 235.34 L800.7 235.46 L801.1 235.59 L801.5 235.73 L801.9 235.88 L802.3 236.03 L802.7 236.18 L803.1 236.34 L803.5 236.5 L803.9 236.66 L804.3 236.81 L804.7 236.96 L805.1 237.11 L805.5 237.27 L805.9 237.43 L806.3 237.59 L806.7 237.76 L807.1 237.93 L807.5 238.1 L807.9 238.28 L808.3 238.45 L808.7 238.63 L809.1 238.8 L809.5 238.97 L809.9 239.14 L810.3 239.3 L810.7 239.46 L811.1 239.62 L811.5 239.77 L811.9 239.93 L812.3 240.09 L812.7 240.25 L813.1 240.4 L813.5 240.56 L813.9 240.71 L814.3 240.86 L814.7 241 L815.1 241.15 L815.5 241.28 L815.9 241.42 L816.3 241.55 L816.7 241.67 L817.1 241.79 L817.5 241.91 L817.9 242.03 L818.3 242.15 L818.7 242.27 L819.1 242.39 L819.5 242.5 L819.9 242.61 L820.3 242.71 L820.7 242.81 L821.1 242.9 L821.5 242.99 L821.9 243.06 L822.3 243.13 L822.7 243.19 L823.1 243.24 L823.5 243.29 L823.9 243.33 L824.3 243.38 L824.7 243.42 L825.1 243.47 L825.5 243.51 L825.9 243.55 L826.3 243.59 L826.7 243.63 L827.1 243.66 L827.5 243.69 L827.9 243.72 L828.3 243.74 L828.7 243.76 L829.1 243.78 L829.5 243.79 L829.9 243.8 L830.3 243.8 L830.4 243.8" fill="none" stroke="#0000ff" stroke-width="1.4" stroke-linejoin="round"/>
<path d="M448.3 211.1 L448.7 211.17 L449.1 211.23 L449.5 211.3 L449.9 211.36 L450.3 211.43 L450.7 211.5 L451.1 211.57 L451.5 211.64 L451.9 211.71 L452.3 211.78 L452.7 211.85 L453.1 211.92 L453.5 211.99 L453.9 212.06 L454.3 212.14 L454.7 212.21 L455.1 212.29 L455.5 212.36 L455.9 212.44 L456.3 212.51 L456.7 212.59 L457.1 212.66 L457.5 212.74 L457.9 212.82 L458.3 212.9 L458.7 212.98 L459.1 213.05 L459.5 213.13 L459.9 213.21 L460.3 213.29 L460.7 213.38 L461.1 213.46 L461.5 213.54 L461.9 213.62 L462.3 213.7 L462.7 213.79 L463.1 213.87 L463.5 213.96 L463.9 214.05 L464.3 214.14 L464.7 214.23 L465.1 214.32 L465.5 214.41 L465.9 214.5 L466.3 214.59 L466.7 214.69 L467.1 214.78 L467.5 214.87 L467.9 214.97 L468.3 215.06 L468.7 215.16 L469.1 215.25 L469.5 215.35 L469.9 215.45 L470.3 215.54 L470.7 215.64 L471.1 215.73 L471.5 215.83 L471.9 215.92 L472.3 216.02 L472.7 216.11 L473.1 216.21 L473.5 216.3 L473.9 216.39 L474.3 216.49 L474.7 216.58 L475.1 216.67 L475.5 216.76 L475.9 216.85 L476.3 216.95 L476.7 217.04 L477.1 217.14 L477.5 217.24 L477.9 217.33 L478.3 217.43 L478.7 217.53 L479.1 217.62 L479.5 217.72 L479.9 217.82 L480.3 217.91 L480.7 218.01 L481.1 218.1 L481.5 218.2 L481.9 218.29 L482.3 218.38 L482.7 218.47 L483.1 218.56 L483.5 218.65 L483.9 218.73 L484.3 218.82 L484.7 218.9 L485.1 218.98 L485.5 219.06 L485.9 219.14 L486.3 219.21 L486.7 219.28 L487.1 219.35 L487.5 219.42 L487.9 219.49 L488.3 219.56 L488.7 219.63 L489.1 219.7 L489.5 219.77 L489.9 219.84 L490.3 219.91 L490.7 219.98 L491.1 220.05 L491.5 220.11 L491.9 220.18 L492.3 220.24 L492.7 220.3 L493.1 220.36 L493.5 220.42 L493.9 220.48 L494.3 220.54 L494.7 220.59 L495.1 220.64 L495.5 220.69 L495.9 220.74 L496.3 220.78 L496.7 220.83 L497.1 220.87 L497.5 220.9 L497.9 220.94 L498.3 220.97 L498.7 220.99 L499.1 221.02 L499.5 221.04 L499.9 221.07 L500.3 221.09 L500.7 221.11 L501.1 221.14 L501.5 221.15 L501.9 221.17 L502.3 221.18 L502.7 221.19 L503.1 221.2 L503.5 221.2 L503.9 221.2 L504.3 221.19 L504.7 221.18 L505.1 221.16 L505.5 221.15 L505.9 221.12 L506.3 221.1 L506.7 221.07 L507.1 221.04 L507.5 221.01 L507.9 220.97 L508.3 220.93 L508.7 220.89 L509.1 220.85 L509.5 220.8 L509.9 220.75 L510.3 220.7 L510.7 220.65 L511.1 220.6 L511.5 220.54 L511.9 220.48 L512.3 220.43 L512.7 220.37 L513.1 220.31 L513.5 220.25 L513.9 220.18 L514.3 220.11 L514.7 220.04 L515.1 219.95 L515.5 219.85 L515.9 219.74 L516.3 219.62 L516.7 219.5 L517.1 219.37 L517.5 219.23 L517.9 219.08 L518.3 218.93 L518.7 218.77 L519.1 218.6 L519.5 218.43 L519.9 218.26 L520.3 218.08 L520.7 217.89 L521.1 217.7 L521.5 217.51 L521.9 217.32 L522.3 217.12 L522.7 216.92 L523.1 216.72 L523.5 216.51 L523.9 216.31 L524.3 216.1 L524.7 215.9 L525.1 215.68 L525.5 215.45 L525.9 215.22 L526.3 214.97 L526.7 214.72 L527.1 214.45 L527.5 214.18 L527.9 213.9 L528.3 213.62 L528.7 213.32 L529.1 213.02 L529.5 212.72 L529.9 212.41 L530.3 212.09 L530.7 211.77 L531.1 211.44 L531.5 211.12 L531.9 210.78 L532.3 210.45 L532.7 210.11 L533.1 209.76 L533.5 209.42 L533.9 209.07 L534.3 208.73 L534.7 208.38 L535.1 208.03 L535.5 207.68 L535.9 207.34 L536.3 206.99 L536.7 206.64 L537.1 206.3 L537.5 205.96 L537.9 205.61 L538.3 205.27 L538.7 204.92 L539.1 204.58 L539.5 204.23 L539.9 203.88 L540.3 203.53 L540.7 203.18 L541.1 202.82 L541.5 202.46 L541.9 202.1 L542.3 201.74 L542.7 201.37 L543.1 200.99 L543.5 200.61 L543.9 200.23 L544.3 199.84 L544.7 199.45 L545.1 199.05 L545.5 198.65 L545.9 198.24 L546.3 197.82 L546.7 197.39 L547.1 196.96 L547.5 196.52 L547.9 196.07 L548.3 195.62 L548.7 195.15 L549.1 194.68 L549.5 194.2 L549.9 193.7 L550.3 193.19 L550.7 192.67 L551.1 192.13 L551.5 191.58 L551.9 191.02 L552.3 190.44 L552.7 189.84 L553.1 189.23 L553.5 188.6 L553.9 187.96 L554.3 187.29 L554.7 186.61 L555.1 185.91 L555.5 185.18 L555.9 184.43 L556.3 183.65 L556.7 182.85 L557.1 182.02 L557.5 181.16 L557.9 180.27 L558.3 179.36 L558.7 178.42 L559.1 177.46 L559.5 176.47 L559.9 175.45 L560.3 174.41 L560.7 173.34 L561.1 172.23 L561.5 171.06 L561.9 169.83 L562.3 168.54 L562.7 167.2 L563.1 165.82 L563.5 164.41 L563.9 162.98 L564.3 161.52 L564.7 160.06 L565.1 158.57 L565.5 157.06 L565.9 155.52 L566.3 153.94 L566.7 152.33 L567.1 150.68 L567.5 148.98 L567.9 147.23 L568.3 145.44 L568.7 143.58 L569.1 141.63 L569.5 139.61 L569.9 137.53 L570.3 135.41 L570.7 133.24 L571.1 131.06 L571.5 128.86 L571.9 126.67 L572.3 124.45 L572.7 122.19 L573.1 119.89 L573.5 117.57 L573.9 115.25 L574.3 112.93 L574.7 110.62 L575.1 108.34 L575.5 106.09 L575.9 103.86 L576.3 101.64 L576.7 99.42 L577.1 97.18 L577.5 94.92 L577.9 92.63 L578.3 90.29 L578.7 87.96 L579.1 85.63 L579.5 83.27 L579.9 80.87 L580.3 78.39 L580.7 75.81 L581.1 73.1 L581.5 70.13 L581.9 66.86 L582.3 63.46 L582.7 60.11 L583.1 56.98 L583.5 54.21 L583.9 51.73 L584.3 49.42 L584.7 47.21 L585.1 45.04 L585.5 42.85 L585.9 40.66 L586.3 38.51 L586.7 36.45 L587.1 34.47 L587.5 32.52 L587.9 30.62 L588.3 28.82 L588.7 27.14 L589.1 25.61 L589.5 24.15 L589.9 22.82 L590.3 21.68 L590.7 20.72 L591.1 19.83 L591.5 19.11 L591.9 18.64 L592.3 18.29 L592.7 18.06 L593.1 18.05 L593.5 18.29 L593.9 18.69 L594.3 19.47 L594.7 20.98 L595.1 22.65 L595.5 24.67 L595.9 27.03 L596.3 29.98 L596.7 33.26 L597.1 36.43 L597.5 39.41 L597.9 42.4 L598.3 45.45 L598.7 48.44 L599.1 51.65 L599.5 55.35 L599.9 59.96 L600.3 65.28 L600.7 70.82 L601.1 76.25 L601.5 81.77 L601.9 87.42 L602.3 93.16 L602.7 99.11 L603.1 105.08 L603.5 110.85 L603.9 116.55 L604.3 122.07 L604.7 127.25 L605.1 132.16 L605.5 136.88 L605.9 141.26 L606.3 145.18 L606.7 148.6 L607.1 151.67 L607.5 154.56 L607.9 157.45 L608.3 160.48 L608.7 163.59 L609.1 166.74 L609.5 170 L609.9 173.77 L610.3 177.66 L610.7 180.5 L611.1 182.39 L611.5 183.54 L611.9 183.28 L612.3 182.11 L612.7 180.5 L613.1 177.84 L613.5 173.92 L613.9 169.8 L614.3 166.32 L614.7 162.87 L615.1 159.57 L615.5 156.7 L615.9 154.52 L616.3 152.72 L616.7 151.13 L617.1 149.77 L617.5 148.66 L617.9 147.81 L618.3 147.09 L618.7 146.44 L619.1 145.88 L619.5 145.44 L619.9 145.11 L620.3 144.91 L620.7 144.74 L621.1 144.59 L621.5 144.46 L621.9 144.37 L622.3 144.31 L622.7 144.3 L623.1 144.39 L623.5 144.56 L623.9 144.81 L624.3 145.12 L624.7 145.46 L625.1 145.82 L625.5 146.2 L625.9 146.67 L626.3 147.23 L626.7 147.88 L627.1 148.59 L627.5 149.36 L627.9 150.16 L628.3 150.97 L628.7 151.8 L629.1 152.64 L629.5 153.55 L629.9 154.53 L630.3 155.55 L630.7 156.62 L631.1 157.72 L631.5 158.84 L631.9 159.96 L632.3 161.08 L632.7 162.17 L633.1 163.24 L633.5 164.27 L633.9 165.24 L634.3 166.22 L634.7 167.23 L635.1 168.24 L635.5 169.25 L635.9 170.24 L636.3 171.2 L636.7 172.11 L637.1 172.96 L637.5 173.73 L637.9 174.42 L638.3 175 L638.7 175.53 L639.1 176.07 L639.5 176.59 L639.9 177.08 L640.3 177.53 L640.7 177.92 L641.1 178.24 L641.5 178.46 L641.9 178.58 L642.3 178.59 L642.7 178.5 L643.1 178.32 L643.5 178.08 L643.9 177.77 L644.3 177.42 L644.7 177.02 L645.1 176.59 L645.5 176.14 L645.9 175.68 L646.3 175.08 L646.7 174.33 L647.1 173.44 L647.5 172.45 L647.9 171.37 L648.3 170.25 L648.7 169.09 L649.1 167.94 L649.5 166.81 L649.9 165.73 L650.3 164.63 L650.7 163.47 L651.1 162.28 L651.5 161.06 L651.9 159.85 L652.3 158.64 L652.7 157.46 L653.1 156.33 L653.5 155.26 L653.9 154.26 L654.3 153.27 L654.7 152.28 L655.1 151.3 L655.5 150.34 L655.9 149.43 L656.3 148.56 L656.7 147.76 L657.1 147.04 L657.5 146.41 L657.9 145.88 L658.3 145.4 L658.7 144.96 L659.1 144.56 L659.5 144.21 L659.9 143.92 L660.3 143.7 L660.7 143.52 L661.1 143.35 L661.5 143.21 L661.9 143.12 L662.3 143.1 L662.7 143.17 L663.1 143.3 L663.5 143.5 L663.9 143.73 L664.3 144 L664.7 144.4 L665.1 145.01 L665.5 145.8 L665.9 146.73 L666.3 147.76 L666.7 148.85 L667.1 149.95 L667.5 151.06 L667.9 152.29 L668.3 153.63 L668.7 155.08 L669.1 156.6 L669.5 158.18 L669.9 159.8 L670.3 161.45 L670.7 163.09 L671.1 164.75 L671.5 166.5 L671.9 168.32 L672.3 170.17 L672.7 172.03 L673.1 173.88 L673.5 175.69 L673.9 177.43 L674.3 179.15 L674.7 180.87 L675.1 182.56 L675.5 184.23 L675.9 185.85 L676.3 187.41 L676.7 188.9 L677.1 190.36 L677.5 191.84 L677.9 193.3 L678.3 194.72 L678.7 196.09 L679.1 197.37 L679.5 198.55 L679.9 199.6 L680.3 200.5 L680.7 201.3 L681.1 202.07 L681.5 202.8 L681.9 203.5 L682.3 204.16 L682.7 204.78 L683.1 205.37 L683.5 205.91 L683.9 206.42 L684.3 206.88 L684.7 207.3 L685.1 207.67 L685.5 208 L685.9 208.31 L686.3 208.61 L686.7 208.91 L687.1 209.2 L687.5 209.47 L687.9 209.73 L688.3 209.96 L688.7 210.17 L689.1 210.35 L689.5 210.5 L689.9 210.61 L690.3 210.68 L690.7 210.7 L691.1 210.67 L691.5 210.57 L691.9 210.42 L692.3 210.22 L692.7 209.99 L693.1 209.73 L693.5 209.44 L693.9 209.15 L694.3 208.86 L694.7 208.57 L695.1 208.28 L695.5 207.94 L695.9 207.57 L696.3 207.17 L696.7 206.75 L697.1 206.31 L697.5 205.87 L697.9 205.43 L698.3 204.99 L698.7 204.58 L699.1 204.18 L699.5 203.82 L699.9 203.44 L700.3 203.05 L700.7 202.67 L701.1 202.29 L701.5 201.93 L701.9 201.59 L702.3 201.28 L702.7 201.01 L703.1 200.79 L703.5 200.62 L703.9 200.45 L704.3 200.3 L704.7 200.15 L705.1 200.02 L705.5 199.92 L705.9 199.85 L706.3 199.81 L706.7 199.81 L707.1 199.85 L707.5 199.94 L707.9 200.07 L708.3 200.23 L708.7 200.41 L709.1 200.62 L709.5 200.84 L709.9 201.07 L710.3 201.3 L710.7 201.57 L711.1 201.9 L711.5 202.29 L711.9 202.72 L712.3 203.19 L712.7 203.7 L713.1 204.22 L713.5 204.76 L713.9 205.3 L714.3 205.84 L714.7 206.37 L715.1 206.89 L715.5 207.44 L715.9 208.02 L716.3 208.61 L716.7 209.21 L717.1 209.83 L717.5 210.45 L717.9 211.07 L718.3 211.68 L718.7 212.28 L719.1 212.87 L719.5 213.44 L719.9 213.99 L720.3 214.5 L720.7 215 L721.1 215.49 L721.5 215.97 L721.9 216.45 L722.3 216.92 L722.7 217.38 L723.1 217.82 L723.5 218.26 L723.9 218.69 L724.3 219.1 L724.7 219.49 L725.1 219.87 L725.5 220.24 L725.9 220.59 L726.3 220.93 L726.7 221.27 L727.1 221.62 L727.5 221.95 L727.9 222.27 L728.3 222.57 L728.7 222.85 L729.1 223.11 L729.5 223.34 L729.9 223.54 L730.3 223.7 L730.7 223.84 L731.1 223.98 L731.5 224.11 L731.9 224.23 L732.3 224.34 L732.7 224.44 L733.1 224.51 L733.5 224.57 L733.9 224.6 L734.3 224.6 L734.7 224.56 L735.1 224.5 L735.5 224.41 L735.9 224.3 L736.3 224.17 L736.7 224.03 L737.1 223.88 L737.5 223.72 L737.9 223.56 L738.3 223.35 L738.7 223.1 L739.1 222.8 L739.5 222.47 L739.9 222.12 L740.3 221.76 L740.7 221.4 L741.1 221.05 L741.5 220.72 L741.9 220.43 L742.3 220.13 L742.7 219.83 L743.1 219.53 L743.5 219.24 L743.9 218.96 L744.3 218.7 L744.7 218.47 L745.1 218.28 L745.5 218.13 L745.9 217.98 L746.3 217.84 L746.7 217.7 L747.1 217.59 L747.5 217.5 L747.9 217.43 L748.3 217.4 L748.7 217.41 L749.1 217.45 L749.5 217.51 L749.9 217.6 L750.3 217.7 L750.7 217.82 L751.1 217.95 L751.5 218.09 L751.9 218.24 L752.3 218.42 L752.7 218.66 L753.1 218.94 L753.5 219.25 L753.9 219.6 L754.3 219.98 L754.7 220.37 L755.1 220.77 L755.5 221.19 L755.9 221.6 L756.3 222 L756.7 222.42 L757.1 222.87 L757.5 223.34 L757.9 223.84 L758.3 224.35 L758.7 224.88 L759.1 225.4 L759.5 225.93 L759.9 226.44 L760.3 226.95 L760.7 227.43 L761.1 227.89 L761.5 228.33 L761.9 228.76 L762.3 229.19 L762.7 229.61 L763.1 230.03 L763.5 230.44 L763.9 230.84 L764.3 231.24 L764.7 231.63 L765.1 232.01 L765.5 232.38 L765.9 232.74 L766.3 233.08 L766.7 233.42 L767.1 233.74 L767.5 234.06 L767.9 234.38 L768.3 234.68 L768.7 234.98 L769.1 235.28 L769.5 235.56 L769.9 235.84 L770.3 236.1 L770.7 236.36 L771.1 236.6 L771.5 236.83 L771.9 237.05 L772.3 237.27 L772.7 237.5 L773.1 237.71 L773.5 237.92 L773.9 238.12 L774.3 238.31 L774.7 238.47 L775.1 238.62 L775.5 238.73 L775.9 238.82 L776.3 238.89 L776.7 238.97 L777.1 239.03 L777.5 239.09 L777.9 239.14 L778.3 239.17 L778.7 239.19 L779.1 239.2 L779.5 239.19 L779.9 239.18 L780.3 239.16 L780.7 239.14 L781.1 239.11 L781.5 239.08 L781.9 239.04 L782.3 239 L782.7 238.96 L783.1 238.92 L783.5 238.88 L783.9 238.81 L784.3 238.72 L784.7 238.62 L785.1 238.51 L785.5 238.39 L785.9 238.26 L786.3 238.13 L786.7 238 L787.1 237.88 L787.5 237.78 L787.9 237.68 L788.3 237.6 L788.7 237.53 L789.1 237.46 L789.5 237.39 L789.9 237.32 L790.3 237.25 L790.7 237.19 L791.1 237.13 L791.5 237.08 L791.9 237.04 L792.3 237.02 L792.7 237 L793.1 237 L793.5 237.01 L793.9 237.02 L794.3 237.04 L794.7 237.07 L795.1 237.1 L795.5 237.14 L795.9 237.18 L796.3 237.22 L796.7 237.27 L797.1 237.31 L797.5 237.36 L797.9 237.41 L798.3 237.48 L798.7 237.55 L799.1 237.64 L799.5 237.75 L799.9 237.86 L800.3 237.98 L800.7 238.11 L801.1 238.24 L801.5 238.38 L801.9 238.53 L802.3 238.67 L802.7 238.81 L803.1 238.96 L803.5 239.1 L803.9 239.23 L804.3 239.37 L804.7 239.52 L805.1 239.67 L805.5 239.83 L805.9 239.99 L806.3 240.15 L806.7 240.31 L807.1 240.47 L807.5 240.63 L807.9 240.79 L808.3 240.95 L808.7 241.1 L809.1 241.25 L809.5 241.4 L809.9 241.53 L810.3 241.67 L810.7 241.8 L811.1 241.93 L811.5 242.06 L811.9 242.19 L812.3 242.32 L812.7 242.44 L813.1 242.56 L813.5 242.68 L813.9 242.8 L814.3 242.91 L814.7 243.02 L815.1 243.12 L815.5 243.23 L815.9 243.32 L816.3 243.42 L816.7 243.52 L817.1 243.61 L817.5 243.71 L817.9 243.8 L818.3 243.89 L818.7 243.98 L819.1 244.07 L819.5 244.15 L819.9 244.23 L820.3 244.31 L820.7 244.39 L821.1 244.46 L821.5 244.52 L821.9 244.58 L822.3 244.64 L822.7 244.69 L823.1 244.73 L823.5 244.78 L823.9 244.82 L824.3 244.87 L824.7 244.91 L825.1 244.95 L825.5 244.99 L825.9 245.03 L826.3 245.07 L826.7 245.1 L827.1 245.13 L827.5 245.16 L827.9 245.19 L828.3 245.22 L828.7 245.24 L829.1 245.26 L829.5 245.28 L829.9 245.29 L830.3 245.3 L830.4 245.3" fill="none" stroke="#800080" stroke-width="1.4" stroke-linejoin="round"/>
</g>
<line x1="321.4" x2="321.4" y1="57.2" y2="165.96" stroke="#ff0000" stroke-width="1.15"/><path d="M321.4 174.3 L317.05 160.4 Q319.88 162.9 321.4 164.29 Q322.92 162.9 325.75 160.4Z" fill="#ff0000"/>
<line x1="363.3" x2="363.3" y1="102.4" y2="151.56" stroke="#00ff00" stroke-width="1.2"/><path d="M363.3 159.9 L359.2 146 Q361.87 148.5 363.3 149.89 Q364.74 148.5 367.4 146Z" fill="#00ff00"/>
<line x1="408.6" x2="408.6" y1="144.4" y2="168.9" stroke="#0000ff" stroke-width="1.15"/><path d="M408.6 177.3 L404.2 163.3 Q407.06 165.82 408.6 167.22 Q410.14 165.82 413 163.3Z" fill="#0000ff"/>
<line x1="634.2" x2="634.2" y1="25.8" y2="107.12" stroke="#ff0000" stroke-width="1.1"/><path d="M634.2 113.9 L631 102.6 Q633.08 104.63 634.2 105.76 Q635.32 104.63 637.4 102.6Z" fill="#ff0000"/>
<line x1="671" x2="671" y1="60.2" y2="119.6" stroke="#00ff00" stroke-width="1.75"/><path d="M671 127.7 L666.9 114.2 Q669.57 116.63 671 117.98 Q672.43 116.63 675.1 114.2Z" fill="#00ff00"/>
<line x1="707.4" x2="707.4" y1="91.6" y2="186.5" stroke="#0000ff" stroke-width="1.1"/><path d="M707.4 194.9 L703.7 180.9 Q706.11 183.42 707.4 184.82 Q708.69 183.42 711.1 180.9Z" fill="#0000ff"/>
<line x1="746.2" x2="746.2" y1="124.4" y2="209.94" stroke="#800080" stroke-width="1.5"/><path d="M746.2 218.1 L742.1 204.5 Q744.77 206.95 746.2 208.31 Q747.63 206.95 750.3 204.5Z" fill="#800080"/>
<g stroke="#2e2e2e" stroke-width="1.15" fill="none">
<rect x="58.1" y="1.6" width="773.5" height="257.5"/>
<line x1="444.7" x2="444.7" y1="1.6" y2="259.1"/>
<line x1="53.9" x2="58.1" y1="257.4" y2="257.4"/>
<line x1="441.8" x2="444.8" y1="257.4" y2="257.4"/>
<line x1="56.1" x2="58.1" y1="236.27" y2="236.27"/>
<line x1="443.2" x2="444.8" y1="236.27" y2="236.27"/>
<line x1="53.9" x2="58.1" y1="215.14" y2="215.14"/>
<line x1="441.8" x2="444.8" y1="215.14" y2="215.14"/>
<line x1="56.1" x2="58.1" y1="194.01" y2="194.01"/>
<line x1="443.2" x2="444.8" y1="194.01" y2="194.01"/>
<line x1="53.9" x2="58.1" y1="172.88" y2="172.88"/>
<line x1="441.8" x2="444.8" y1="172.88" y2="172.88"/>
<line x1="56.1" x2="58.1" y1="151.75" y2="151.75"/>
<line x1="443.2" x2="444.8" y1="151.75" y2="151.75"/>
<line x1="53.9" x2="58.1" y1="130.62" y2="130.62"/>
<line x1="441.8" x2="444.8" y1="130.62" y2="130.62"/>
<line x1="56.1" x2="58.1" y1="109.49" y2="109.49"/>
<line x1="443.2" x2="444.8" y1="109.49" y2="109.49"/>
<line x1="53.9" x2="58.1" y1="88.36" y2="88.36"/>
<line x1="441.8" x2="444.8" y1="88.36" y2="88.36"/>
<line x1="56.1" x2="58.1" y1="67.23" y2="67.23"/>
<line x1="443.2" x2="444.8" y1="67.23" y2="67.23"/>
<line x1="53.9" x2="58.1" y1="46.1" y2="46.1"/>
<line x1="441.8" x2="444.8" y1="46.1" y2="46.1"/>
<line x1="56.1" x2="58.1" y1="24.97" y2="24.97"/>
<line x1="443.2" x2="444.8" y1="24.97" y2="24.97"/>
<line x1="53.9" x2="58.1" y1="3.84" y2="3.84"/>
<line x1="441.8" x2="444.8" y1="3.84" y2="3.84"/>
<line x1="60.91" x2="60.91" y1="259.1" y2="262.4"/>
<line x1="110.4" x2="110.4" y1="259.1" y2="262.4"/>
<line x1="159.89" x2="159.89" y1="259.1" y2="262.4"/>
<line x1="230.69" x2="230.69" y1="259.1" y2="262.4"/>
<line x1="301.6" x2="301.6" y1="259.1" y2="262.4"/>
<line x1="372.6" x2="372.6" y1="259.1" y2="262.4"/>
<line x1="443.6" x2="443.6" y1="259.1" y2="262.4"/>
<line x1="447.71" x2="447.71" y1="259.1" y2="262.4"/>
<line x1="497.2" x2="497.2" y1="259.1" y2="262.4"/>
<line x1="546.69" x2="546.69" y1="259.1" y2="262.4"/>
<line x1="617.49" x2="617.49" y1="259.1" y2="262.4"/>
<line x1="688.4" x2="688.4" y1="259.1" y2="262.4"/>
<line x1="759.4" x2="759.4" y1="259.1" y2="262.4"/>
<line x1="830.4" x2="830.4" y1="259.1" y2="262.4"/>
</g>
<g font-size="13.1" fill="#000" text-anchor="middle">
<text x="52.9" y="262.1" text-anchor="end">0</text>
<text x="52.9" y="219.84" text-anchor="end">1000</text>
<text x="52.9" y="177.58" text-anchor="end">2000</text>
<text x="52.9" y="135.32" text-anchor="end">3000</text>
<text x="52.9" y="93.06" text-anchor="end">4000</text>
<text x="52.9" y="50.8" text-anchor="end">5000</text>
<text x="52.9" y="8.54" text-anchor="end">6000</text>
<text x="60.91" y="275.3">2</text>
<text x="110.4" y="275.3">10</text>
<text x="159.89" y="275.3">50</text>
<text x="230.69" y="275.3">500</text>
<text x="301.6" y="275.3">1000</text>
<text x="372.6" y="275.3">1500</text>
<text x="442.6" y="275.3">2000</text>
<text x="497.2" y="275.3">10</text>
<text x="546.69" y="275.3">50</text>
<text x="617.49" y="275.3">500</text>
<text x="688.4" y="275.3">1000</text>
<text x="759.4" y="275.3">1500</text>
<text x="829.4" y="275.3">2000</text>
</g>
<text x="401.2" y="298.5" font-size="18" textLength="74.4" lengthAdjust="spacingAndGlyphs">multipole</text>
<text x="482.2" y="298.7" font-size="20.5" font-style="italic">ℓ</text>
<g transform="translate(15.9,193.2) rotate(-90)" font-size="17.6" fill="#000"><text x="-0.3" y="0.3" font-style="italic" font-size="22">ℓ</text><text x="9.9" y="0.6" font-size="19.5">(</text><text x="14.6" y="0.3" font-style="italic" font-size="22">ℓ</text><path d="M27.2 -5.1H40 M33.6 -11.1V0.9" stroke="#000" stroke-width="0.9" fill="none"/><text x="44.6" y="0">1</text><text x="52.5" y="0.6" font-size="19.5">)</text><text x="61.3" y="0" font-style="italic" textLength="12.4" lengthAdjust="spacingAndGlyphs">C</text><text x="77.2" y="-6.1" font-size="12.7" textLength="18.6" lengthAdjust="spacingAndGlyphs">TT</text><text x="75.4" y="4.3" font-size="14.5" font-style="italic">ℓ</text><text x="103.2" y="0.8" font-size="19.5">[</text><text x="110.3" y="0" font-style="italic" textLength="10.6" lengthAdjust="spacingAndGlyphs">μ</text><text x="121.4" y="0" textLength="12" lengthAdjust="spacingAndGlyphs">K</text><text x="133.9" y="-6.6" font-size="12.7">2</text><text x="140.6" y="0.8" font-size="19.5">]</text></g>
<g fill="#000" font-size="17.3"><text x="62" y="21.9" font-style="italic" textLength="8.75" lengthAdjust="spacingAndGlyphs">k</text><polygon points="74.11,19.36 74.94,21.57 77.3,21.68 75.45,23.15 76.08,25.43 74.11,24.12 72.14,25.43 72.77,23.15 70.92,21.68 73.28,21.57" fill="#000"/><path d="M83.78 15.03h13.03 M83.78 19.25h13.03" stroke="#000" stroke-width="0.97" fill="none"/><text x="102.2" y="21.9" textLength="21.37" lengthAdjust="spacingAndGlyphs">0.1</text><text x="126.42" y="21.9" textLength="33.58" lengthAdjust="spacingAndGlyphs">Mpc</text><path d="M162.24 11.11h7.53" stroke="#000" stroke-width="0.86" fill="none"/><text x="171.19" y="14.47" font-size="12.8">1</text></g>
<g fill="#000" font-size="18.4"><text x="448.5" y="22.4" font-style="italic" textLength="7.14" lengthAdjust="spacingAndGlyphs">ϵ</text><path d="M461.7 15.09h13.1 M461.7 19.59h13.1" stroke="#000" stroke-width="1.03" fill="none"/><text x="480.32" y="22.4" textLength="23.27" lengthAdjust="spacingAndGlyphs">1.0</text></g>
<g fill="#ff0000" font-size="16"><text x="298" y="54.3" font-style="italic" textLength="6.21" lengthAdjust="spacingAndGlyphs">ϵ</text><path d="M309.48 47.95h11.39 M309.48 51.85h11.39" stroke="#ff0000" stroke-width="0.89" fill="none"/><text x="325.67" y="54.3" textLength="20.24" lengthAdjust="spacingAndGlyphs">0.1</text></g>
<g fill="#00ff00" font-size="16"><text x="339.3" y="96.8" font-style="italic" textLength="6.21" lengthAdjust="spacingAndGlyphs">ϵ</text><path d="M350.78 90.45h11.39 M350.78 94.35h11.39" stroke="#00ff00" stroke-width="0.89" fill="none"/><text x="366.97" y="96.8" textLength="20.24" lengthAdjust="spacingAndGlyphs">0.5</text></g>
<g fill="#0000ff" font-size="16"><text x="385.5" y="139.1" font-style="italic" textLength="6.21" lengthAdjust="spacingAndGlyphs">ϵ</text><path d="M396.98 132.75h11.39 M396.98 136.65h11.39" stroke="#0000ff" stroke-width="0.89" fill="none"/><text x="413.17" y="139.1" textLength="20.24" lengthAdjust="spacingAndGlyphs">1.0</text></g>
<g fill="#ff0000" font-size="16"><text x="608.9" y="24.3" font-style="italic" textLength="8.09" lengthAdjust="spacingAndGlyphs">k</text><polygon points="620.1,21.95 620.87,24 623.05,24.09 621.34,25.46 621.93,27.57 620.1,26.36 618.27,27.57 618.86,25.46 617.15,24.09 619.33,24" fill="#ff0000"/><path d="M629.04 17.95h12.05 M629.04 21.85h12.05" stroke="#ff0000" stroke-width="0.89" fill="none"/><text x="646.08" y="24.3" textLength="19.76" lengthAdjust="spacingAndGlyphs">0.1</text><text x="668.48" y="24.3" textLength="31.06" lengthAdjust="spacingAndGlyphs">Mpc</text><path d="M701.61 14.32h6.96" stroke="#ff0000" stroke-width="0.8" fill="none"/><text x="709.89" y="17.43" font-size="11.84">1</text></g>
<g fill="#00ff00" font-size="16"><text x="645" y="57.2" font-style="italic" textLength="8.09" lengthAdjust="spacingAndGlyphs">k</text><polygon points="656.2,54.85 656.97,56.9 659.15,56.99 657.44,58.36 658.03,60.47 656.2,59.26 654.37,60.47 654.96,58.36 653.25,56.99 655.43,56.9" fill="#00ff00"/><path d="M665.14 50.85h12.05 M665.14 54.75h12.05" stroke="#00ff00" stroke-width="0.89" fill="none"/><text x="682.18" y="57.2" textLength="19.76" lengthAdjust="spacingAndGlyphs">0.2</text><text x="704.58" y="57.2" textLength="31.06" lengthAdjust="spacingAndGlyphs">Mpc</text><path d="M737.71 47.22h6.96" stroke="#00ff00" stroke-width="0.8" fill="none"/><text x="745.99" y="50.33" font-size="11.84">1</text></g>
<g fill="#0000ff" font-size="16"><text x="680.9" y="87.8" font-style="italic" textLength="8.09" lengthAdjust="spacingAndGlyphs">k</text><polygon points="692.1,85.45 692.87,87.5 695.05,87.59 693.34,88.96 693.93,91.07 692.1,89.86 690.27,91.07 690.86,88.96 689.15,87.59 691.33,87.5" fill="#0000ff"/><path d="M701.04 81.45h12.05 M701.04 85.35h12.05" stroke="#0000ff" stroke-width="0.89" fill="none"/><text x="718.08" y="87.8" textLength="19.76" lengthAdjust="spacingAndGlyphs">0.5</text><text x="740.48" y="87.8" textLength="31.06" lengthAdjust="spacingAndGlyphs">Mpc</text><path d="M773.61 77.82h6.96" stroke="#0000ff" stroke-width="0.8" fill="none"/><text x="781.89" y="80.93" font-size="11.84">1</text></g>
<g fill="#800080" font-size="16"><text x="719.8" y="122.4" font-style="italic" textLength="8.09" lengthAdjust="spacingAndGlyphs">k</text><polygon points="731,120.05 731.77,122.1 733.95,122.19 732.24,123.56 732.83,125.67 731,124.46 729.17,125.67 729.76,123.56 728.05,122.19 730.23,122.1" fill="#800080"/><path d="M739.94 116.05h12.05 M739.94 119.95h12.05" stroke="#800080" stroke-width="0.89" fill="none"/><text x="756.98" y="122.4" textLength="19.76" lengthAdjust="spacingAndGlyphs">1.0</text><text x="779.38" y="122.4" textLength="31.06" lengthAdjust="spacingAndGlyphs">Mpc</text><path d="M812.51 112.42h6.96" stroke="#800080" stroke-width="0.8" fill="none"/><text x="820.79" y="115.53" font-size="11.84">1</text></g>
</svg></body></html>
